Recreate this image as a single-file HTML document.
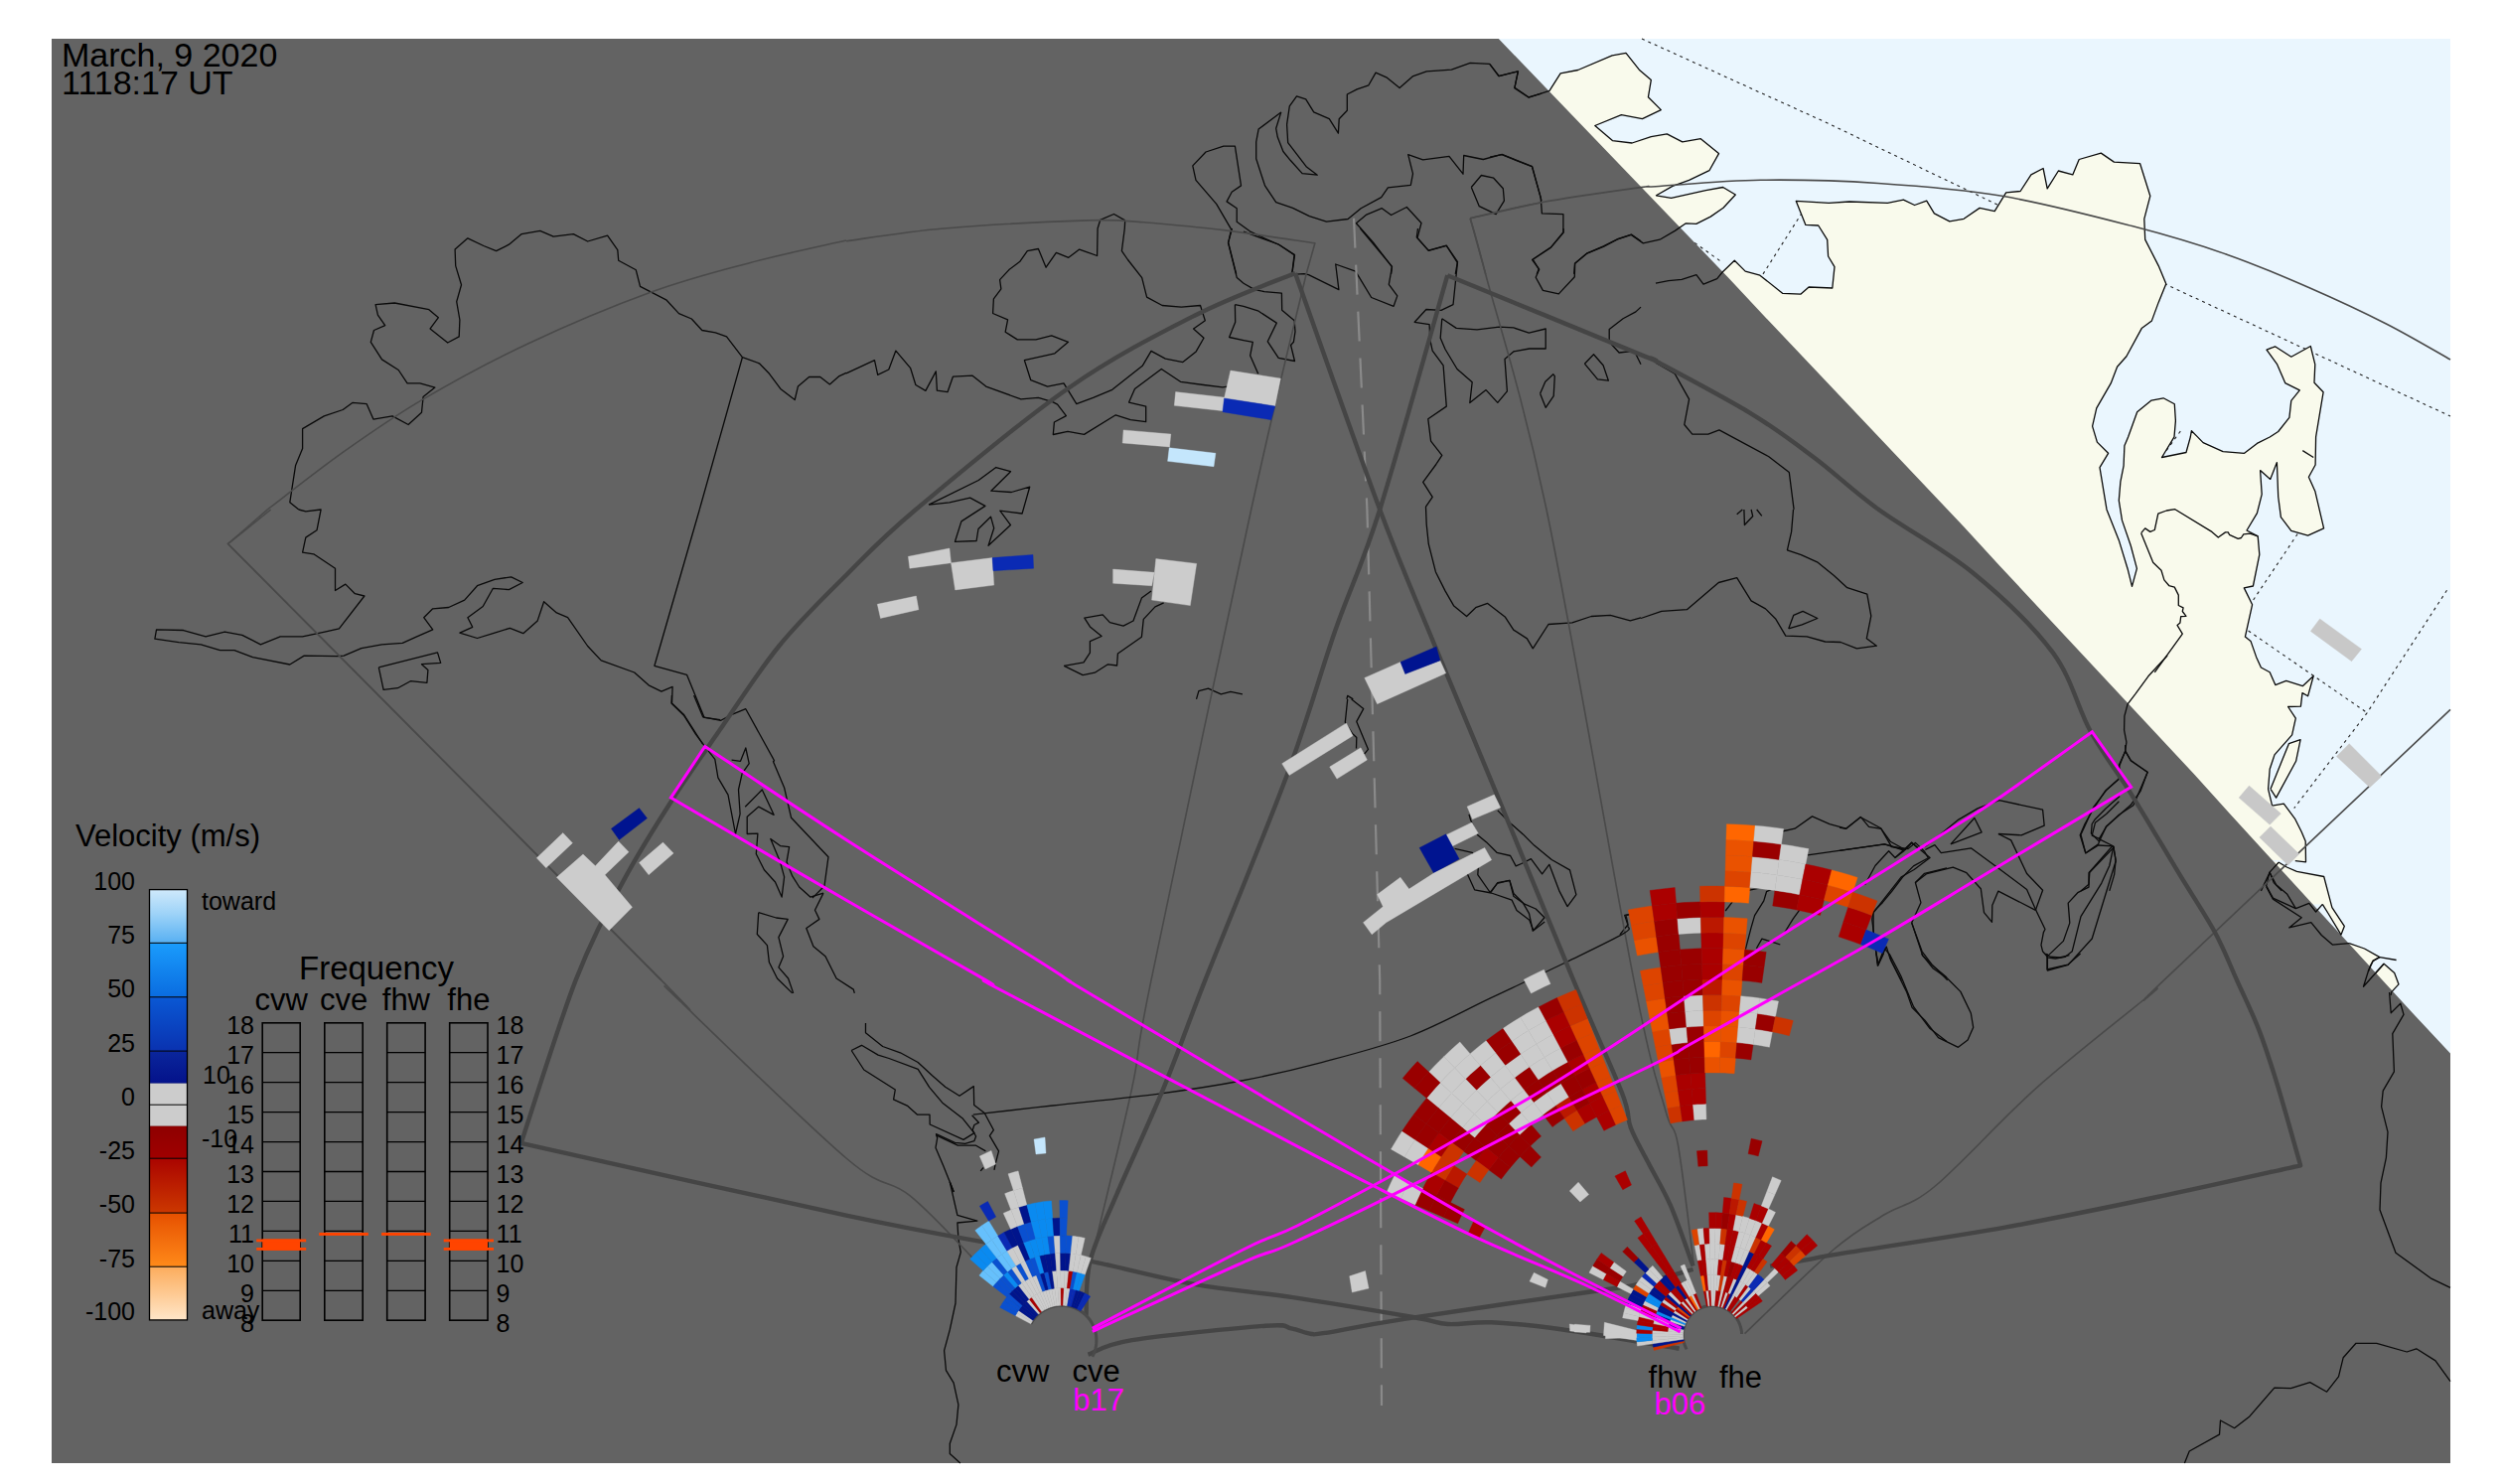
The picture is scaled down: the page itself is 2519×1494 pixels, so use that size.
<!DOCTYPE html>
<html><head><meta charset="utf-8"><style>
html,body{margin:0;padding:0;background:#fff;}
body{width:2519px;height:1494px;overflow:hidden;position:relative;font-family:"Liberation Sans",sans-serif;}
svg{position:absolute;left:0;top:0;}
.t{position:absolute;white-space:nowrap;color:#000;line-height:1;}
</style></head><body>
<svg width="2519" height="1494" viewBox="0 0 2519 1494" xmlns="http://www.w3.org/2000/svg">
<rect x="0" y="0" width="2519" height="1494" fill="#fff"/>
<rect x="52" y="39" width="2415" height="1434" fill="#eaf6fe"/>
<polyline points="1653.0,39.0 1840.0,124.0 2011.0,206.0 2100.0,246.0 2182.0,287.0 2467.0,419.0" fill="none" stroke="#222" stroke-width="1.1" stroke-dasharray="3,4"/>
<polyline points="1706.2,244.4 1734.2,264.4" fill="none" stroke="#222" stroke-width="1.1" stroke-dasharray="3,4"/>
<polyline points="1775.0,275.9 1813.3,215.7" fill="none" stroke="#222" stroke-width="1.1" stroke-dasharray="3,4"/>
<polyline points="2263.6,635.0 2383.2,717.6" fill="none" stroke="#222" stroke-width="1.1" stroke-dasharray="3,4"/>
<polyline points="2463.5,594.3 2383.2,717.6 2309.7,813.6" fill="none" stroke="#222" stroke-width="1.1" stroke-dasharray="3,4"/>
<polyline points="2313.2,537.5 2267.6,605.5" fill="none" stroke="#222" stroke-width="1.1" stroke-dasharray="3,4"/>
<polyline points="2195.3,434.1 2177.2,458.9" fill="none" stroke="#222" stroke-width="1.1" stroke-dasharray="3,4"/>
<polygon points="1560.0,91.4 1571.1,73.9 1588.7,70.5 1623.1,55.8 1637.0,53.4 1650.3,70.2 1662.3,80.6 1659.4,97.8 1672.3,110.6 1653.5,119.7 1632.4,115.7 1605.8,126.5 1623.4,141.6 1643.1,144.0 1662.3,137.6 1678.3,134.9 1693.8,142.9 1712.3,139.7 1730.5,154.6 1720.9,171.7 1700.6,181.3 1683.9,187.4 1667.5,196.8 1682.6,199.4 1717.4,191.7 1734.7,188.5 1747.3,196.0 1735.0,209.3 1722.2,218.1 1707.8,225.3 1697.4,224.8 1686.3,232.4 1671.1,241.2 1654.3,244.9 1642.3,236.4 1627.9,241.2 1614.3,248.4 1597.8,255.1 1585.5,265.2 1584.7,275.9 1500.0,275.9 1500.0,91.4" fill="#f9faec"/>
<polygon points="1734.1,274.0 1746.3,262.2 1757.2,273.1 1771.9,277.2 1794.9,295.4 1813.1,296.1 1821.1,289.0 1844.8,290.0 1847.0,268.6 1840.6,258.0 1839.7,241.4 1830.7,227.0 1817.9,226.4 1808.3,202.4 1841.3,204.3 1862.0,203.0 1900.4,204.3 1916.4,201.1 1927.6,206.5 1939.7,202.1 1947.4,214.9 1962.8,222.9 1977.2,220.3 1993.1,209.4 2008.2,212.6 2019.7,193.8 2034.1,192.5 2044.9,175.9 2057.1,169.5 2061.2,189.9 2072.4,172.0 2086.8,175.9 2093.2,160.5 2115.3,154.1 2128.4,163.1 2154.6,164.7 2164.8,197.3 2158.8,220.3 2159.7,241.1 2173.2,267.6 2180.8,285.8 2173.2,304.4 2166.4,322.9 2156.2,330.6 2140.9,358.7 2131.6,369.3 2125.2,385.9 2110.8,410.9 2106.6,429.1 2111.4,445.1 2122.6,456.3 2114.0,470.7 2121.0,512.9 2133.3,543.9 2142.1,572.7 2146.5,590.3 2151.4,572.4 2145.3,549.5 2136.5,523.9 2133.3,503.9 2134.9,484.8 2138.1,468.8 2138.9,448.8 2142.6,440.0 2151.7,414.8 2166.1,403.1 2178.1,400.8 2189.3,406.8 2190.4,423.6 2189.0,439.9 2176.5,460.5 2201.0,455.5 2205.3,440.0 2206.4,433.7 2212.5,439.9 2218.1,445.6 2238.1,454.7 2259.6,456.3 2272.4,446.4 2285.2,440.0 2293.7,434.5 2304.9,420.4 2306.8,403.3 2315.3,392.9 2300.7,385.6 2292.7,366.9 2282.0,352.2 2290.5,348.8 2306.8,359.2 2326.3,348.5 2330.8,366.9 2330.0,385.3 2339.1,394.8 2331.6,439.9 2331.1,468.0 2324.4,480.3 2330.8,494.4 2339.6,531.9 2323.6,539.1 2306.8,534.3 2296.4,520.7 2293.7,500.0 2292.4,465.6 2285.7,482.4 2275.6,473.6 2277.2,497.6 2272.4,516.7 2262.0,534.0 2273.2,539.9 2274.8,558.3 2268.4,590.0 2259.3,591.9 2267.6,608.7 2260.4,641.1 2266.0,645.4 2271.6,661.4 2276.4,672.0 2285.2,676.8 2290.8,689.6 2301.7,685.3 2318.3,690.7 2329.2,680.5 2323.6,700.8 2318.0,697.6 2316.4,711.2 2303.6,711.5 2311.3,723.1 2307.6,739.9 2290.0,759.9 2285.2,774.3 2283.6,794.3 2287.6,811.1 2299.3,809.2 2310.8,824.7 2317.2,837.5 2321.2,847.0 2321.5,867.8 2310.8,866.6 2290.0,866.0 2000.0,866.0 1700.0,300.0" fill="#f9faec"/>
<polygon points="2286.0,794.3 2304.4,748.7 2316.1,744.7 2311.6,766.3 2291.6,803.1 2286.0,794.3" fill="#f9faec"/>
<polygon points="2294.0,868.0 2302.3,873.0 2312.4,877.3 2339.7,882.5 2347.9,913.7 2360.3,932.4 2357.0,941.1 2344.0,919.5 2338.3,910.4 2300.0,910.0 2280.0,866.0" fill="#f9faec"/>
<polygon points="2365.1,949.7 2380.5,955.0 2395.8,963.6 2389.1,967.4 2386.5,972.0 2370.0,972.0 2360.0,949.0" fill="#f9faec"/>
<polygon points="2391.9,979.5 2400.1,970.3 2410.7,979.4 2415.0,990.9 2407.8,998.6 2407.0,1002.0 2390.0,1002.0 2385.0,979.0" fill="#f9faec"/>
<polygon points="52.0,39.0 1508.8,39.0 1740.5,280.0 1777.9,320.0 1976.9,530.0 2013.6,570.0 2209.6,780.0 2245.7,820.0 2429.1,1020.0 2467.0,1060.4 2467.0,1473.0 52.0,1473.0" fill="#636363"/>
<polyline points="300.8,512.9 291.8,505.8 297.6,468.4 304.6,451.5 304.6,431.6 326.3,418.9 345.2,412.5 354.8,405.4 369.2,406.7 375.9,422.1 395.1,418.9 411.1,427.5 424.5,415.3 426.1,399.4 437.9,390.1 422.9,385.9 410.1,385.9 401.2,372.5 384.5,361.9 373.3,344.4 376.5,332.5 387.7,327.7 380.4,317.2 378.1,306.6 397.3,305.0 431.9,311.7 441.4,319.7 433.1,330.9 450.7,345.0 462.2,338.9 462.9,322.0 459.7,303.7 464.5,286.8 458.7,267.6 458.1,251.0 470.9,239.8 486.9,247.5 499.6,252.6 512.4,246.2 525.2,235.6 543.8,232.4 557.2,238.2 577.3,235.6 591.7,243.0 611.6,237.2 621.8,251.6 622.7,262.2 640.3,271.8 644.5,288.4 670.7,301.8 683.5,315.6 696.3,321.0 706.8,332.5 720.3,334.8 731.5,338.9 747.4,359.7 764.4,365.8 774.6,376.3 785.8,391.4 800.2,402.5 803.4,389.1 814.6,379.5 825.8,379.5 835.4,386.9 845.0,378.6 852.0,375.4" fill="none" stroke="#0a0a0a" stroke-width="1.3" stroke-linejoin="round"/>
<polyline points="747.4,359.7 704.3,512.9" fill="none" stroke="#0a0a0a" stroke-width="1.3" stroke-linejoin="round"/>
<polyline points="300.8,513.0 307.8,514.9 323.1,513.0 319.0,533.8 307.8,541.1 304.6,556.2 315.8,557.8 337.5,572.2 337.5,594.5 347.8,588.1 357.4,597.7 366.9,600.0 341.4,632.9 327.0,636.1 304.6,640.9 282.2,640.9 262.4,648.9 243.8,639.3 226.3,636.1 207.1,640.9 184.7,634.5 157.5,633.9 155.9,643.1 179.9,646.7 202.3,648.9 221.5,654.6 235.9,654.6 254.4,661.7 291.8,669.0 306.2,660.1 339.8,660.7 346.2,660.1 363.8,652.7 384.5,648.9 405.3,647.3 419.7,640.9 435.7,633.9 426.7,621.7 435.7,612.8 451.7,611.5 467.7,604.1 480.5,589.7 498.0,583.3 514.7,580.8 526.2,586.5 512.4,593.6 496.4,592.3 486.2,610.5 470.9,621.7 475.7,631.3 462.9,637.1 480.5,642.5 496.4,637.7 513.4,632.3 526.8,637.7 541.2,624.9 547.6,605.7 560.4,616.9 571.6,621.7 591.7,650.5 605.2,664.9 638.7,677.0 653.1,689.8 665.9,696.2 677.1,691.4 676.5,708.0 688.3,719.2 707.5,749.0" fill="none" stroke="#0a0a0a" stroke-width="1.3" stroke-linejoin="round"/>
<polyline points="381.3,671.9 440.5,656.9 443.7,667.4 424.5,668.7 430.9,674.5 429.9,687.3 413.3,685.7 400.5,692.7 386.1,694.3 381.3,671.9" fill="none" stroke="#0a0a0a" stroke-width="1.3" stroke-linejoin="round"/>
<polyline points="704.3,513.0 658.9,670.3 691.5,679.3 709.1,722.4 725.1,724.7" fill="none" stroke="#0a0a0a" stroke-width="1.3" stroke-linejoin="round"/>
<polyline points="676.4,700.0 676.0,708.1 688.5,720.2 700.6,739.4 709.7,751.5 719.8,764.3 722.9,782.9 733.0,800.1 740.5,839.5 745.1,819.3 743.5,795.0 747.1,778.8 754.2,768.7 750.8,753.0 745.5,766.3 736.6,765.1" fill="none" stroke="#0a0a0a" stroke-width="1.3" stroke-linejoin="round"/>
<polyline points="698.6,700.0 707.7,721.8 725.9,725.3 735.0,720.2 750.8,713.7 779.5,765.7 778.5,766.7 789.6,793.0 796.6,823.3 834.0,862.7 830.0,892.0 817.9,904.1" fill="none" stroke="#0a0a0a" stroke-width="1.3" stroke-linejoin="round"/>
<polyline points="829.0,899.1 820.5,916.3 824.9,925.4 811.8,934.5 818.9,952.7 831.0,962.8 842.1,985.0 859.3,996.1 860.3,999.9" fill="none" stroke="#0a0a0a" stroke-width="1.3" stroke-linejoin="round"/>
<polyline points="750.2,812.2 767.3,795.0 779.1,820.3 763.7,812.2 752.2,822.3 752.2,839.5 762.9,839.1 761.3,859.7 769.4,875.8 780.5,888.0 787.1,903.1 789.6,882.9 785.5,867.8 775.8,844.5 785.5,851.6 794.6,852.6 792.0,867.8 797.7,881.9 804.7,893.0 815.8,903.1 829.0,899.1" fill="none" stroke="#0a0a0a" stroke-width="1.3" stroke-linejoin="round"/>
<polyline points="763.7,918.7 781.5,924.0 793.2,925.4 783.9,943.6 788.6,962.8 783.9,973.9 793.6,985.0 798.7,999.9" fill="none" stroke="#0a0a0a" stroke-width="1.3" stroke-linejoin="round"/>
<polyline points="763.7,918.7 762.3,940.5 772.4,951.6 774.4,968.8 782.5,985.0 797.7,999.9" fill="none" stroke="#0a0a0a" stroke-width="1.3" stroke-linejoin="round"/>
<polyline points="1289.8,112.9 1284.7,129.3 1286.3,138.1 1291.9,152.5 1299.1,161.3 1311.1,174.6 1326.3,176.2 1315.1,167.7 1296.7,143.7 1295.6,125.3 1298.3,106.9 1305.5,96.9 1314.7,99.8 1322.7,112.9 1338.3,119.7 1347.4,134.1 1348.2,119.7 1356.3,111.3 1356.3,95.0 1366.2,89.8 1377.9,85.8 1385.1,73.1 1395.8,77.8 1409.1,88.6 1422.2,76.9 1436.3,71.8 1461.4,70.2 1480.2,63.3 1499.7,64.3 1509.3,76.6 1528.2,71.8 1525.0,88.2 1538.9,97.8 1552.0,94.2" fill="none" stroke="#0a0a0a" stroke-width="1.3" stroke-linejoin="round"/>
<polyline points="1289.8,112.9 1267.1,130.1 1264.7,142.9 1264.7,159.7 1273.5,186.9 1284.7,203.7 1301.5,209.3 1318.3,217.7 1335.5,223.2 1357.1,220.5 1370.2,209.7 1390.7,198.6 1397.4,188.8 1420.3,186.4 1422.5,174.9 1417.7,155.7 1432.6,160.8 1459.0,157.3 1473.0,175.2 1473.7,156.5 1493.3,160.5 1512.2,155.4 1542.6,167.7 1552.0,202.1" fill="none" stroke="#0a0a0a" stroke-width="1.3" stroke-linejoin="round"/>
<polyline points="1244.7,275.9 1236.7,244.4 1239.6,230.8 1224.7,205.3 1204.0,181.3 1200.8,166.9 1214.0,153.0 1231.9,147.2 1243.4,147.2 1249.5,186.9 1240.2,193.3 1235.1,202.9 1245.2,209.7 1245.2,223.3 1258.3,232.8 1273.5,240.1 1287.9,246.5 1303.1,256.4 1300.7,275.9" fill="none" stroke="#0a0a0a" stroke-width="1.3" stroke-linejoin="round"/>
<polyline points="1400.6,275.9 1401.4,268.7 1382.2,243.6 1365.4,224.8 1375.8,216.1 1391.3,209.7 1400.6,216.5 1416.3,208.5 1431.0,224.5 1427.0,239.6 1438.2,252.1 1456.2,247.2 1467.3,264.4 1465.3,275.9" fill="none" stroke="#0a0a0a" stroke-width="1.3" stroke-linejoin="round"/>
<polyline points="1481.3,188.5 1491.4,176.5 1503.7,179.2 1513.3,189.8 1514.4,202.1 1506.1,215.7 1489.3,207.7 1481.3,188.5" fill="none" stroke="#0a0a0a" stroke-width="1.3" stroke-linejoin="round"/>
<polyline points="852.0,375.8 880.5,362.7 883.7,377.4 894.8,372.0 901.9,353.1 916.7,370.7 921.9,387.5 931.9,393.4 942.3,373.9 943.4,393.1 954.0,394.7 959.4,379.2 979.1,378.2 992.7,389.1 1027.9,401.9 1045.4,400.3 1059.8,404.6 1064.6,407.1 1073.4,418.6 1061.4,425.0 1060.3,437.5 1075.0,434.3 1091.5,437.4 1123.3,417.8 1138.2,422.6 1153.7,424.7 1153.7,409.1 1136.6,405.1 1142.5,391.5 1169.3,371.5 1188.5,384.3 1211.7,387.5 1230.9,389.9 1235.7,389.1" fill="none" stroke="#0a0a0a" stroke-width="1.3" stroke-linejoin="round"/>
<polyline points="1132.7,221.9 1121.5,215.5 1107.8,221.3 1105.1,230.0 1104.6,257.5 1086.7,251.1 1075.8,259.3 1063.4,254.3 1053.1,269.2 1045.4,250.5 1034.3,252.7 1026.6,263.6 1015.9,271.6 1006.6,281.6 1007.9,290.8 1000.4,300.8 999.6,315.5 1014.6,321.9 1012.2,334.2 1024.3,341.9 1043.0,341.9 1058.7,337.9 1075.5,344.3 1061.9,355.8 1031.4,362.7 1037.8,382.7 1054.6,389.1 1071.0,385.9 1083.8,406.7 1100.6,400.3 1119.8,392.3 1150.2,368.3 1159.0,353.4 1173.3,361.1 1190.9,364.6 1204.2,353.9 1212.0,340.3 1201.6,331.0 1213.3,322.7 1208.5,307.5 1189.3,309.1 1170.1,307.5 1154.6,299.1 1149.7,279.6 1135.5,261.5 1129.4,252.7 1132.3,230.0 1132.7,221.9" fill="none" stroke="#0a0a0a" stroke-width="1.3" stroke-linejoin="round"/>
<polyline points="1240.5,230.0 1236.5,244.4 1245.3,279.6 1252.0,285.2" fill="none" stroke="#0a0a0a" stroke-width="1.3" stroke-linejoin="round"/>
<polyline points="1243.4,306.7 1252.0,308.3" fill="none" stroke="#0a0a0a" stroke-width="1.3" stroke-linejoin="round"/>
<polyline points="1243.4,306.7 1243.7,324.3 1237.6,339.5 1252.0,342.7" fill="none" stroke="#0a0a0a" stroke-width="1.3" stroke-linejoin="round"/>
<polyline points="1252.0,233.2 1287.2,246.0 1303.5,256.9 1300.8,276.4 1312.8,275.6 1317.5,276.7 1347.9,291.6 1344.7,266.0 1364.7,273.2 1368.7,279.6 1380.7,299.5 1403.1,308.3 1406.8,297.9 1398.3,286.3 1401.5,268.4 1369.5,230.0" fill="none" stroke="#0a0a0a" stroke-width="1.3" stroke-linejoin="round"/>
<polyline points="1252.0,285.2 1263.2,291.6 1272.8,293.6 1290.4,295.2 1290.7,312.3 1303.2,322.7 1304.0,333.9 1302.4,344.3 1299.6,347.5 1303.5,363.5 1287.2,360.3 1276.3,343.8 1285.3,325.1 1266.4,312.8 1252.0,308.3" fill="none" stroke="#0a0a0a" stroke-width="1.3" stroke-linejoin="round"/>
<polyline points="1252.0,342.7 1261.3,344.3 1258.7,357.9 1266.7,376.3" fill="none" stroke="#0a0a0a" stroke-width="1.3" stroke-linejoin="round"/>
<polyline points="1427.5,230.0 1426.3,238.8 1438.3,252.4 1456.3,247.3 1467.5,263.6 1463.0,306.7 1451.0,312.3 1435.9,311.5 1424.2,324.3 1439.1,326.7 1439.8,341.9 1442.2,353.1 1453.1,367.8 1456.3,409.1 1437.8,421.8 1440.6,444.2 1451.8,458.3 1446.2,466.9" fill="none" stroke="#0a0a0a" stroke-width="1.3" stroke-linejoin="round"/>
<polyline points="1451.8,320.8 1450.2,340.3 1455.0,351.5 1467.0,371.5 1482.2,384.8 1479.8,405.5 1496.1,392.6 1507.8,405.4 1517.4,393.9 1515.0,361.4 1523.8,353.9 1539.8,351.0 1556.2,351.0 1556.2,331.0 1539.3,335.2 1523.8,329.9 1509.4,329.1 1487.0,331.8 1466.2,330.4 1451.8,320.8" fill="none" stroke="#0a0a0a" stroke-width="1.3" stroke-linejoin="round"/>
<polyline points="1574.1,230.0 1574.1,234.0 1561.4,249.2 1542.6,261.5 1549.7,271.2 1546.2,279.2 1553.4,292.4 1569.3,295.9 1585.3,278.8 1585.7,265.2 1598.1,254.8 1614.9,247.6 1629.3,240.4 1642.4,236.1 1652.0,242.8" fill="none" stroke="#0a0a0a" stroke-width="1.3" stroke-linejoin="round"/>
<polyline points="1652.0,309.1 1646.9,313.9 1634.1,320.8 1620.2,331.5 1620.2,344.3 1630.1,355.0 1640.5,353.9 1646.1,354.7 1652.0,366.7" fill="none" stroke="#0a0a0a" stroke-width="1.3" stroke-linejoin="round"/>
<polyline points="1550.6,396.3 1555.8,384.3 1563.8,376.8 1565.3,378.7 1564.2,398.7 1556.2,410.3 1550.6,396.3" fill="none" stroke="#0a0a0a" stroke-width="1.3" stroke-linejoin="round"/>
<polyline points="1595.4,366.2 1604.5,356.8 1614.1,367.8 1619.4,383.2 1608.5,381.9 1595.4,366.2" fill="none" stroke="#0a0a0a" stroke-width="1.3" stroke-linejoin="round"/>
<polyline points="1500.0,64.6 1508.8,76.6 1528.5,71.8 1524.8,88.6 1539.2,98.2 1560.0,91.4 1571.1,73.9 1588.7,70.5 1623.1,55.8 1637.0,53.4 1650.3,70.2 1662.3,80.6 1659.4,97.8 1672.3,110.6 1653.5,119.7 1632.4,115.7 1605.8,126.5 1623.4,141.6 1643.1,144.0 1662.3,137.6 1678.3,134.9 1693.8,142.9 1712.3,139.7 1730.5,154.6 1720.9,171.7 1700.6,181.3 1683.9,187.4 1667.5,196.8 1682.6,199.4 1717.4,191.7 1734.7,188.5 1747.3,196.0 1735.0,209.3 1722.2,218.1 1707.8,225.3 1697.4,224.8 1686.3,232.4 1671.1,241.2 1654.3,244.9 1642.3,236.4 1627.9,241.2 1614.3,248.4 1597.8,255.1 1585.5,265.2 1584.7,275.9" fill="none" stroke="#0a0a0a" stroke-width="1.3" stroke-linejoin="round"/>
<polyline points="1500.0,158.1 1512.0,155.7 1542.4,167.7 1551.2,198.9 1552.4,214.9 1573.9,215.7 1573.9,234.0 1561.6,248.9 1543.2,261.2 1549.2,270.8 1547.2,275.9" fill="none" stroke="#0a0a0a" stroke-width="1.3" stroke-linejoin="round"/>
<polyline points="1667.0,285.2 1679.8,282.6 1693.2,281.4 1707.9,276.6 1715.0,286.2 1728.7,280.7 1734.1,274.0 1746.3,262.2 1757.2,273.1 1771.9,277.2 1794.9,295.4 1813.1,296.1 1821.1,289.0 1844.8,290.0 1847.0,268.6 1840.6,258.0 1839.7,241.4 1830.7,227.0 1817.9,226.4 1808.3,202.4 1841.3,204.3 1862.0,203.0 1900.4,204.3 1916.4,201.1 1927.6,206.5 1939.7,202.1 1947.4,214.9 1962.8,222.9 1977.2,220.3 1993.1,209.4 2008.2,212.6 2019.7,193.8 2034.1,192.5 2044.9,175.9 2057.1,169.5 2061.2,189.9 2072.4,172.0 2086.8,175.9 2093.2,160.5 2115.3,154.1 2128.4,163.1 2154.6,164.7 2164.8,197.3 2158.8,220.3 2159.7,241.1 2173.2,267.6 2180.8,285.8 2173.2,304.4 2166.4,322.9 2156.2,330.6 2140.9,358.7 2131.6,369.3 2125.2,385.9 2110.8,410.9 2106.6,429.1 2111.4,445.1 2122.6,456.3 2114.0,470.7 2121.0,512.9 2133.3,543.9 2142.1,572.7 2146.5,590.3 2151.4,572.4 2145.3,549.5 2136.5,523.9 2133.3,503.9 2134.9,484.8 2138.1,468.8 2138.9,448.8 2142.6,440.0 2151.7,414.8 2166.1,403.1 2178.1,400.8 2189.3,406.8 2190.4,423.6 2189.0,439.9 2176.5,460.5 2201.0,455.5 2205.3,440.0 2206.4,433.7 2212.5,439.9 2218.1,445.6 2238.1,454.7 2259.6,456.3 2272.4,446.4 2285.2,440.0 2293.7,434.5 2304.9,420.4 2306.8,403.3 2315.3,392.9 2300.7,385.6 2292.7,366.9 2282.0,352.2 2290.5,348.8 2306.8,359.2 2326.3,348.5 2330.8,366.9 2330.0,385.3 2339.1,394.8 2331.6,439.9 2331.1,468.0 2324.4,480.3 2330.8,494.4 2339.6,531.9 2323.6,539.1 2306.8,534.3 2296.4,520.7 2293.7,500.0 2292.4,465.6 2285.7,482.4 2275.6,473.6 2277.2,497.6 2272.4,516.7 2262.0,534.0 2273.2,539.9 2274.8,558.3 2268.4,590.0 2259.3,591.9 2267.6,608.7 2260.4,641.1 2266.0,645.4 2271.6,661.4 2276.4,672.0 2285.2,676.8 2290.8,689.6 2301.7,685.3 2318.3,690.7 2329.2,680.5 2323.6,700.8 2318.0,697.6 2316.4,711.2 2303.6,711.5 2311.3,723.1 2307.6,739.9 2290.0,759.9 2285.2,774.3 2283.6,794.3 2287.6,811.1 2299.3,809.2 2310.8,824.7 2317.2,837.5 2321.2,847.0 2321.5,867.8 2310.8,866.6" fill="none" stroke="#0a0a0a" stroke-width="1.3" stroke-linejoin="round"/>
<polyline points="2286.0,794.3 2304.4,748.7 2316.1,744.7 2311.6,766.3 2291.6,803.1 2286.0,794.3" fill="none" stroke="#0a0a0a" stroke-width="1.3" stroke-linejoin="round"/>
<polyline points="2294.0,868.0 2302.3,873.0 2312.4,877.3 2339.7,882.5 2347.9,913.7 2360.3,932.4 2357.0,941.1 2344.0,919.5 2338.3,910.4" fill="none" stroke="#0a0a0a" stroke-width="1.3" stroke-linejoin="round"/>
<polyline points="2365.1,949.7 2380.5,955.0 2395.8,963.6 2389.1,967.4 2386.5,972.0 2384.3,978.0" fill="none" stroke="#0a0a0a" stroke-width="1.3" stroke-linejoin="round"/>
<polyline points="2395.8,963.6 2412.6,966.5" fill="none" stroke="#0a0a0a" stroke-width="1.3" stroke-linejoin="round"/>
<polyline points="2391.9,979.5 2400.1,970.3 2410.7,979.4 2415.0,990.9 2407.8,998.6 2407.0,1002.0" fill="none" stroke="#0a0a0a" stroke-width="1.3" stroke-linejoin="round"/>
<polyline points="2155.7,536.7 2159.7,531.9 2164.8,535.4 2169.3,533.5 2172.8,517.2 2181.3,514.0 2189.8,512.7 2226.9,535.4 2233.3,541.0 2240.5,535.9 2243.3,535.9 2244.5,538.3 2253.3,542.3 2256.4,541.5 2258.8,537.8 2265.2,537.2 2273.2,539.9" fill="none" stroke="#0a0a0a" stroke-width="1.3" stroke-linejoin="round"/>
<polyline points="2155.7,536.7 2167.7,566.3 2176.0,574.3 2178.9,583.9 2183.7,589.5 2189.3,591.1 2193.3,599.1 2193.3,609.5 2198.1,611.9 2197.3,615.5 2201.0,620.3 2195.7,620.7 2194.9,627.1 2192.0,629.4 2197.3,638.2 2169.3,676.9" fill="none" stroke="#0a0a0a" stroke-width="1.3" stroke-linejoin="round"/>
<polyline points="2318.3,453.6 2329.2,460.5" fill="none" stroke="#0a0a0a" stroke-width="1.3" stroke-linejoin="round"/>
<polyline points="2182.1,660.0 2162.9,680.8 2150.1,698.4 2142.1,708.8 2138.9,720.8 2138.6,735.1 2140.9,747.1 2139.7,755.9 2133.8,771.1 2133.3,783.9 2119.8,795.9 2107.0,815.1 2099.0,829.5 2094.2,840.7 2099.8,859.0 2112.6,851.0 2127.8,851.8 2130.1,866.2 2128.6,880.6 2123.8,896.9" fill="none" stroke="#0a0a0a" stroke-width="1.3" stroke-linejoin="round"/>
<polyline points="2139.7,755.9 2145.3,765.5 2162.1,777.5 2154.9,796.7 2145.3,810.3 2120.6,831.9 2113.4,847.1 2105.4,839.1 2106.2,829.5 2109.4,824.7 2119.8,814.3 2134.1,801.5" fill="none" stroke="#0a0a0a" stroke-width="1.3" stroke-linejoin="round"/>
<polyline points="2128.6,852.6 2103.8,878.2 2103.0,890.2 2095.0,896.9" fill="none" stroke="#0a0a0a" stroke-width="1.3" stroke-linejoin="round"/>
<polyline points="2276.4,896.9 2285.2,878.2 2289.2,888.6 2297.2,896.9" fill="none" stroke="#0a0a0a" stroke-width="1.3" stroke-linejoin="round"/>
<polyline points="2294.1,868.2 2285.0,878.2 2281.7,891.7 2288.4,904.1 2311.4,914.7 2324.8,909.4 2331.6,918.0 2338.3,910.4" fill="none" stroke="#0a0a0a" stroke-width="1.3" stroke-linejoin="round"/>
<polyline points="2285.0,878.2 2291.7,890.7 2302.8,900.3 2311.4,914.7" fill="none" stroke="#0a0a0a" stroke-width="1.3" stroke-linejoin="round"/>
<polyline points="2281.7,892.6 2288.4,905.1 2317.2,923.8 2304.7,933.9 2326.8,928.6 2337.3,941.5 2348.3,951.1 2365.1,949.7" fill="none" stroke="#0a0a0a" stroke-width="1.3" stroke-linejoin="round"/>
<polyline points="2395.8,963.6 2389.1,967.4 2384.3,978.0 2379.5,993.3 2400.1,970.3" fill="none" stroke="#0a0a0a" stroke-width="1.3" stroke-linejoin="round"/>
<polyline points="935.1,508.2 955.9,505.8 976.7,501.1 991.9,509.4 967.9,524.9 961.5,545.3 983.1,544.5 985.0,532.5 997.5,520.2 1000.7,531.7 995.1,549.3 1017.5,528.6 1006.8,514.2 1029.1,517.0 1036.7,490.2 1018.3,495.5 997.8,494.2 1017.5,474.7 1002.8,470.5 985.2,483.5 935.1,508.2" fill="none" stroke="#0a0a0a" stroke-width="1.3" stroke-linejoin="round"/>
<polyline points="1071.3,670.4 1090.2,679.6 1102.2,677.2 1115.5,668.8 1124.6,670.0 1125.4,658.0 1149.4,641.3 1151.3,623.4 1163.0,610.9 1171.7,606.9" fill="none" stroke="#0a0a0a" stroke-width="1.3" stroke-linejoin="round"/>
<polyline points="1071.3,670.4 1091.0,666.8 1097.4,657.2 1097.4,645.7 1109.1,640.5 1097.4,630.9 1091.8,622.1 1110.2,618.9 1117.4,626.6 1131.0,630.1 1141.0,625.0 1149.4,602.1 1159.0,594.9" fill="none" stroke="#0a0a0a" stroke-width="1.3" stroke-linejoin="round"/>
<polyline points="1204.5,703.9 1206.9,695.6 1216.5,693.2 1229.3,698.8 1238.9,696.4 1250.9,698.8" fill="none" stroke="#0a0a0a" stroke-width="1.3" stroke-linejoin="round"/>
<polyline points="1446.2,467.0 1432.7,485.4 1442.2,500.3 1435.5,510.2 1436.2,527.8 1438.3,547.7 1445.4,575.7 1455.0,594.9 1463.8,610.1 1476.6,620.5 1485.7,611.7 1497.7,607.4 1515.5,621.3 1523.8,634.1 1537.4,642.9 1543.3,652.8 1559.0,628.5 1582.9,626.9 1602.1,620.5 1621.3,619.4 1641.3,624.8 1652.0,621.8" fill="none" stroke="#0a0a0a" stroke-width="1.3" stroke-linejoin="round"/>
<polyline points="1355.9,703.9 1356.7,700.4 1362.3,703.9" fill="none" stroke="#0a0a0a" stroke-width="1.3" stroke-linejoin="round"/>
<polyline points="1356.7,704.0 1354.3,727.2 1361.5,738.4 1365.8,742.4 1365.5,753.6" fill="none" stroke="#0a0a0a" stroke-width="1.3" stroke-linejoin="round"/>
<polyline points="1360.7,704.0 1372.7,713.6 1365.8,726.4 1377.5,754.4 1373.5,759.2" fill="none" stroke="#0a0a0a" stroke-width="1.3" stroke-linejoin="round"/>
<polyline points="1507.8,815.9 1520.6,828.7 1533.4,839.9 1544.6,851.1 1562.2,865.5 1580.5,875.9 1586.9,900.6 1578.1,912.6 1570.1,897.4 1559.8,870.3 1552.6,879.9 1541.4,864.7 1531.8,869.5 1526.2,871.9 1520.6,861.5 1507.0,858.3 1496.6,847.9 1487.8,840.7 1480.6,825.5 1479.0,819.9" fill="none" stroke="#0a0a0a" stroke-width="1.3" stroke-linejoin="round"/>
<polyline points="1464.6,854.3 1482.2,858.3 1488.6,868.7 1487.8,880.7 1500.6,899.0 1507.8,888.7 1519.8,886.3 1523.8,902.2 1535.0,910.2 1546.2,915.0 1555.0,923.8 1543.8,936.6 1539.8,926.2 1527.0,916.6 1522.2,906.2 1501.4,899.0 1484.6,895.8 1476.6,878.3" fill="none" stroke="#0a0a0a" stroke-width="1.3" stroke-linejoin="round"/>
<polyline points="1652.0,918.2 1635.7,921.4 1638.9,931.0 1630.9,940.9" fill="none" stroke="#0a0a0a" stroke-width="1.3" stroke-linejoin="round"/>
<polyline points="1500.0,898.6 1507.4,889.4 1519.9,886.3 1523.9,899.5 1533.1,908.7 1539.5,919.7 1543.2,937.2 1555.2,928.0" fill="none" stroke="#0a0a0a" stroke-width="1.3" stroke-linejoin="round"/>
<polyline points="1794.2,837.0 1807.0,834.2 1824.5,821.9 1842.0,829.6 1858.5,834.2 1873.2,822.7 1893.5,833.7 1904.5,852.6 1921.0,854.5 1928.4,848.4 1937.6,857.2 1941.3,863.7 1926.5,871.9 1915.5,883.0 1904.5,897.7 1895.3,908.7 1886.1,917.9 1886.1,938.1 1890.7,971.2 1897.1,954.7 1902.6,961.1 1913.7,982.2 1926.5,1013.5 1943.1,1035.6 1960.0,1048.4" fill="none" stroke="#0a0a0a" stroke-width="1.3" stroke-linejoin="round"/>
<polyline points="1819.9,860.9 1897.1,849.9 1917.4,855.4 1924.7,848.4" fill="none" stroke="#0a0a0a" stroke-width="1.3" stroke-linejoin="round"/>
<polyline points="1960.0,873.8 1937.6,879.3 1928.4,888.5 1933.9,908.7 1924.7,928.9 1935.7,962.0 1946.8,973.1 1960.0,984.1" fill="none" stroke="#0a0a0a" stroke-width="1.3" stroke-linejoin="round"/>
<polyline points="1757.4,955.6 1762.9,934.4 1766.6,921.6 1775.8,906.9 1778.5,897.7 1786.8,894.0" fill="none" stroke="#0a0a0a" stroke-width="1.3" stroke-linejoin="round"/>
<polyline points="1768.4,954.7 1773.9,945.1 1786.8,949.1 1792.3,951.0" fill="none" stroke="#0a0a0a" stroke-width="1.3" stroke-linejoin="round"/>
<polyline points="1796.0,940.0 1805.2,925.2 1814.4,912.4 1823.6,901.3 1830.9,894.0" fill="none" stroke="#0a0a0a" stroke-width="1.3" stroke-linejoin="round"/>
<polyline points="1737.2,917.0 1743.6,908.7 1745.4,902.3 1759.2,896.7 1775.8,893.1" fill="none" stroke="#0a0a0a" stroke-width="1.3" stroke-linejoin="round"/>
<polyline points="1652.0,622.5 1672.8,615.3 1698.4,613.7 1730.3,586.5 1748.7,581.7 1763.1,604.9 1777.5,612.9 1787.9,623.3 1797.8,640.1 1819.1,640.9 1837.5,646.0 1853.1,646.5 1869.4,652.9 1889.4,650.2 1879.3,642.8 1883.8,620.1 1879.8,598.2 1859.8,591.7 1846.2,579.3 1829.5,565.8 1813.5,558.6 1799.4,553.8 1803.6,535.4 1805.5,513.0" fill="none" stroke="#0a0a0a" stroke-width="1.3" stroke-linejoin="round"/>
<polyline points="1800.7,632.9 1805.8,619.3 1815.1,615.3 1829.8,622.5 1814.3,628.9 1800.7,632.9" fill="none" stroke="#0a0a0a" stroke-width="1.3" stroke-linejoin="round"/>
<polyline points="1748.7,517.8 1754.3,513.0" fill="none" stroke="#0a0a0a" stroke-width="1.3" stroke-linejoin="round"/>
<polyline points="1755.9,513.0 1756.4,528.5 1764.7,519.7 1763.1,513.0" fill="none" stroke="#0a0a0a" stroke-width="1.3" stroke-linejoin="round"/>
<polyline points="1768.7,513.0 1773.8,519.4" fill="none" stroke="#0a0a0a" stroke-width="1.3" stroke-linejoin="round"/>
<polyline points="1667.0,365.1 1686.2,376.3 1700.6,401.9 1695.8,427.5 1703.8,437.1 1719.8,437.1 1730.9,432.9 1780.5,459.5 1801.3,475.5 1806.1,512.9" fill="none" stroke="#0a0a0a" stroke-width="1.3" stroke-linejoin="round"/>
<polyline points="1852.0,833.1 1858.4,834.4 1873.3,822.4 1881.6,832.3 1893.9,834.3 1903.2,847.2 1918.3,855.5 1924.7,848.3 1931.9,854.7" fill="none" stroke="#0a0a0a" stroke-width="1.3" stroke-linejoin="round"/>
<polyline points="1852.0,856.3 1897.6,849.9 1917.5,856.3" fill="none" stroke="#0a0a0a" stroke-width="1.3" stroke-linejoin="round"/>
<polyline points="1917.5,856.3 1908.0,863.5 1901.6,856.8 1888.0,871.5 1877.6,890.7" fill="none" stroke="#0a0a0a" stroke-width="1.3" stroke-linejoin="round"/>
<polyline points="1908.0,863.5 1924.7,848.3 1943.1,863.5 1927.1,875.5 1914.4,882.7 1885.6,919.5 1884.8,925.9 1890.4,972.2 1899.2,953.0 1903.2,965.8 1914.4,986.9" fill="none" stroke="#0a0a0a" stroke-width="1.3" stroke-linejoin="round"/>
<polyline points="1938.3,855.5 1947.9,850.7 1954.3,858.7 1984.7,853.9 2011.9,873.9 2040.6,895.5 2049.4,915.5 2059.0,935.5 2057.4,938.6 2055.0,951.4 2056.6,957.8 2062.2,964.2 2069.4,965.0 2079.0,963.4 2086.2,957.8 2095.0,922.7 2115.8,889.1 2123.8,871.5 2127.8,852.3" fill="none" stroke="#0a0a0a" stroke-width="1.3" stroke-linejoin="round"/>
<polyline points="1928.7,888.3 1939.9,879.5 1966.3,873.1 1979.9,878.7 1994.3,894.7 1997.5,918.7 2005.5,928.3 2005.8,911.5 2011.9,897.1 2049.4,916.3" fill="none" stroke="#0a0a0a" stroke-width="1.3" stroke-linejoin="round"/>
<polyline points="2011.9,839.5 2024.7,845.9 2040.6,879.5 2056.6,896.3 2049.4,916.3" fill="none" stroke="#0a0a0a" stroke-width="1.3" stroke-linejoin="round"/>
<polyline points="2011.9,839.5 2035.1,840.8 2058.2,831.2 2056.6,815.2 2012.7,805.6 1991.1,813.9 1971.9,825.1 1954.3,839.5 1938.3,852.3" fill="none" stroke="#0a0a0a" stroke-width="1.3" stroke-linejoin="round"/>
<polyline points="1963.9,849.9 1987.9,823.5 1995.1,837.9 1963.9,849.9" fill="none" stroke="#0a0a0a" stroke-width="1.3" stroke-linejoin="round"/>
<polyline points="2139.8,750.0 2139.8,756.4 2145.4,766.0 2162.2,777.2 2153.4,798.0 2147.8,810.8 2133.4,820.3 2120.6,832.3 2113.4,844.3 2106.2,841.1 2109.4,828.3 2120.6,819.5 2133.4,806.8" fill="none" stroke="#0a0a0a" stroke-width="1.3" stroke-linejoin="round"/>
<polyline points="2139.8,756.4 2133.4,770.0 2134.2,783.6 2120.6,795.6 2107.8,812.4 2095.0,840.3 2099.8,858.7 2112.6,849.9 2114.2,845.1 2127.0,851.5 2103.0,878.7 2103.0,893.1 2091.8,898.7 2082.2,909.1 2083.8,929.1 2077.4,947.4 2061.4,962.6 2061.4,977.0 2082.2,971.4 2106.2,945.0 2130.2,866.7 2127.8,852.3" fill="none" stroke="#0a0a0a" stroke-width="1.3" stroke-linejoin="round"/>
<polyline points="1924.7,929.1 1935.1,957.8 1944.7,970.6 1960.7,986.9" fill="none" stroke="#0a0a0a" stroke-width="1.3" stroke-linejoin="round"/>
<polyline points="871.5,1030.0 871.5,1039.7 888.7,1053.5 906.4,1059.8 924.2,1069.5 938.5,1082.7 951.7,1094.2 966.0,1103.3 980.3,1093.6 980.7,1112.5 991.2,1120.5 1000.4,1137.7 996.4,1143.4 1005.5,1158.9 1002.1,1172.1 1001.0,1177.8" fill="none" stroke="#0a0a0a" stroke-width="1.3" stroke-linejoin="round"/>
<polyline points="857.2,1057.5 867.5,1052.3 884.1,1062.1 895.0,1065.5 924.2,1076.4 935.7,1094.7 948.8,1110.2 968.9,1125.7 980.9,1140.6 970.0,1147.4 936.2,1132.0 936.0,1122.2 923.6,1122.2 913.3,1113.1 899.6,1106.8 901.3,1097.0 869.8,1077.0 857.2,1057.5" fill="none" stroke="#0a0a0a" stroke-width="1.3" stroke-linejoin="round"/>
<polyline points="978.6,1122.8 985.5,1130.2 980.9,1132.5 979.2,1137.7 982.6,1144.0 980.9,1148.6 971.7,1151.4 961.4,1150.3 942.5,1141.7 943.7,1145.7 942.0,1155.4 950.0,1174.3 960.3,1200.0" fill="none" stroke="#0a0a0a" stroke-width="1.3" stroke-linejoin="round"/>
<polyline points="942.5,1142.8 964.3,1153.2 982.6,1153.2 992.4,1158.9" fill="none" stroke="#0a0a0a" stroke-width="1.3" stroke-linejoin="round"/>
<polyline points="987.2,1178.9 990.1,1175.5" fill="none" stroke="#0a0a0a" stroke-width="1.3" stroke-linejoin="round"/>
<polyline points="960.3,1200.0 956.3,1190.0" fill="none" stroke="#0a0a0a" stroke-width="1.3" stroke-linejoin="round"/>
<polyline points="956.3,1190.0 963.9,1223.4 983.9,1229.1 963.9,1231.0 964.9,1247.2 967.3,1260.6 963.0,1275.8 962.0,1312.0 956.3,1338.7 950.6,1359.7 952.5,1379.7 960.1,1392.1 964.9,1414.1 963.0,1434.1 956.3,1453.2 956.3,1463.6 966.8,1473.0" fill="none" stroke="#0a0a0a" stroke-width="1.3" stroke-linejoin="round"/>
<polyline points="1902.0,960.0 1904.4,968.0 1919.5,998.4 1925.1,1014.4 1937.9,1027.1 1951.5,1044.7 1971.5,1054.3 1981.1,1047.1 1986.7,1034.3 1984.3,1020.0 1973.9,998.4 1960.3,984.8 1945.9,974.7 1935.5,961.6 1934.7,960.0" fill="none" stroke="#0a0a0a" stroke-width="1.3" stroke-linejoin="round"/>
<polyline points="1889.2,960.0 1890.8,972.0 1896.4,960.0" fill="none" stroke="#0a0a0a" stroke-width="1.3" stroke-linejoin="round"/>
<polyline points="2061.0,960.0 2061.0,976.0 2081.8,971.2 2094.6,960.0" fill="none" stroke="#0a0a0a" stroke-width="1.3" stroke-linejoin="round"/>
<polyline points="2059.4,960.0 2064.2,963.2 2073.8,964.0 2083.4,961.6" fill="none" stroke="#0a0a0a" stroke-width="1.3" stroke-linejoin="round"/>
<polyline points="2405.6,999.0 2407.2,1019.8 2416.8,1010.2 2420.0,1021.4 2408.8,1040.6 2410.4,1078.9 2399.2,1098.1 2397.6,1114.1 2404.0,1139.7 2402.4,1165.3 2397.0,1190.8 2396.0,1218.0 2412.0,1261.2 2447.2,1286.8 2467.0,1296.4" fill="none" stroke="#0a0a0a" stroke-width="1.3" stroke-linejoin="round"/>
<polyline points="2199.4,1472.9 2204.2,1461.0 2234.5,1444.1 2235.5,1430.0 2249.6,1437.7 2264.9,1425.9 2289.9,1397.1 2306.5,1397.7 2325.7,1391.6 2342.6,1401.2 2354.5,1385.9 2359.2,1366.7 2372.0,1352.3 2392.8,1352.3 2423.2,1361.0 2432.8,1357.8 2452.0,1369.9 2467.0,1390.7" fill="none" stroke="#0a0a0a" stroke-width="1.3" stroke-linejoin="round"/>
<path d="M269.4,512.9 C282.2,503.2 320.1,473.2 346.2,454.7 C372.3,436.2 395.2,420.0 426.1,401.9 C457.0,383.8 493.2,364.0 531.6,346.0 C570.0,327.9 619.0,307.4 656.3,293.8 C693.6,280.2 722.8,273.1 755.4,264.4 C788.1,255.8 835.9,245.8 852.0,242.0" fill="none" stroke="#4a4a4a" stroke-width="1.6" stroke-linejoin="round"/>
<path d="M272.6,513.0 C265.4,518.8 236.7,541.8 229.5,547.5 C302.2,620.8 593.2,913.6 665.9,986.9" fill="none" stroke="#4a4a4a" stroke-width="1.6" stroke-linejoin="round"/>
<path d="M1152.0,223.7 C1165.3,225.0 1203.3,228.1 1231.9,231.6 C1260.6,235.2 1308.5,242.6 1323.9,244.8 C1322.4,250.0 1316.6,270.8 1315.1,276.0" fill="none" stroke="#4a4a4a" stroke-width="1.6" stroke-linejoin="round"/>
<path d="M1480.2,219.7 C1492.2,217.0 1540.0,206.3 1552.0,203.7" fill="none" stroke="#4a4a4a" stroke-width="1.6" stroke-linejoin="round"/>
<path d="M1480.2,219.7 C1482.8,229.0 1493.1,266.6 1495.7,275.9" fill="none" stroke="#4a4a4a" stroke-width="1.6" stroke-linejoin="round"/>
<path d="M852.0,242.7 C868.3,240.6 909.5,233.5 950.0,230.0 C990.5,226.5 1061.3,223.0 1095.0,221.9 C1128.7,220.8 1142.5,223.4 1152.0,223.7" fill="none" stroke="#4a4a4a" stroke-width="1.6" stroke-linejoin="round"/>
<path d="M1315.1,276.0 C1305.9,315.5 1285.7,394.5 1259.7,513.0 C1233.7,631.5 1179.0,889.9 1159.0,986.9 C1139.0,1083.9 1149.9,1047.6 1139.8,1094.9 C1129.7,1142.2 1105.1,1241.5 1098.2,1270.8" fill="none" stroke="#4a4a4a" stroke-width="1.6" stroke-linejoin="round"/>
<path d="M1480.2,219.7 C1492.2,217.0 1523.4,208.9 1552.0,203.7 C1580.6,198.5 1632.8,191.3 1652.0,188.6 C1671.2,185.9 1646.9,188.9 1667.0,187.7 C1687.1,186.5 1735.2,181.8 1772.5,181.3 C1809.8,180.8 1850.3,181.8 1890.8,184.5 C1931.3,187.2 1972.9,190.1 2015.5,197.3 C2058.1,204.5 2108.8,217.8 2146.6,227.6 C2184.4,237.4 2212.8,246.0 2242.6,256.4 C2272.4,266.8 2299.1,278.4 2325.7,290.0 C2352.3,301.6 2378.8,314.0 2402.4,326.0 C2426.0,338.0 2456.2,356.0 2467.0,362.0" fill="none" stroke="#4a4a4a" stroke-width="1.6" stroke-linejoin="round"/>
<path d="M1480.2,219.7 C1482.8,229.1 1482.9,227.1 1495.7,276.0 C1508.5,324.9 1532.1,394.5 1557.0,513.0 C1581.9,631.5 1625.1,886.2 1645.0,986.9 C1664.9,1087.6 1669.2,1089.7 1676.6,1117.3 C1684.0,1144.9 1684.6,1126.4 1689.4,1152.5 C1694.2,1178.6 1702.7,1253.8 1705.4,1274.0" fill="none" stroke="#4a4a4a" stroke-width="1.6" stroke-linejoin="round"/>
<path d="M2467.0,714.4 C2418.9,759.8 2228.5,939.5 2178.6,986.9 C2128.7,1034.3 2188.7,981.0 2167.4,999.0 C2146.1,1017.0 2087.2,1062.4 2050.7,1094.9 C2014.2,1127.4 1974.0,1172.7 1948.4,1194.0 C1922.8,1215.3 1914.3,1212.1 1897.2,1222.8 C1880.1,1233.5 1869.5,1238.0 1846.0,1258.0 C1822.5,1278.0 1771.4,1328.6 1756.5,1342.7" fill="none" stroke="#4a4a4a" stroke-width="1.6" stroke-linejoin="round"/>
<path d="M269.4,512.9 C262.8,518.7 236.2,541.7 229.5,547.5 C302.2,620.7 591.6,911.6 665.9,986.9 C740.2,1062.2 644.5,969.1 675.5,999.0 C706.5,1028.8 811.9,1131.9 852.0,1166.0 C892.1,1200.1 893.1,1185.1 916.0,1203.6 C938.9,1222.1 969.2,1256.4 989.5,1277.2 C1009.8,1298.0 1029.5,1319.8 1037.5,1328.3" fill="none" stroke="#4a4a4a" stroke-width="1.6" stroke-linejoin="round"/>
<path d="M979.9,1122.1 C993.2,1120.6 1029.1,1116.5 1060.0,1113.0 C1090.9,1109.5 1133.7,1105.5 1165.4,1101.3 C1197.1,1097.1 1222.3,1093.3 1250.0,1088.0 C1277.7,1082.7 1303.3,1076.8 1331.6,1069.3 C1359.9,1061.8 1391.9,1053.7 1420.0,1043.0 C1448.1,1032.3 1473.8,1017.6 1500.0,1005.2 C1526.2,992.8 1554.8,979.4 1577.2,968.5 C1599.6,957.6 1624.1,946.0 1634.4,939.9 C1644.7,933.8 1638.4,934.8 1638.8,931.7 C1639.2,928.7 1637.3,923.3 1637.0,921.6 C1637.8,921.4 1640.8,920.4 1641.6,920.1" fill="none" stroke="#111" stroke-width="1.3"/>
<polyline points="1363.0,219.7 1376.4,513.0 1389.2,986.9 1391.0,1415.0" fill="none" stroke="#8a8a8a" stroke-width="2.2" stroke-dasharray="30,17"/>
<path d="M524.6,1150.9 C533.8,1123.6 562.5,1030.9 579.6,986.9 C596.8,942.9 611.5,917.0 627.5,887.1 C643.5,857.2 659.5,832.2 675.5,807.2 C691.5,782.2 705.3,762.9 723.4,736.8 C741.5,710.7 762.8,676.8 784.2,650.5 C805.6,624.2 829.0,601.9 852.0,579.0 C875.0,556.1 884.7,544.4 922.0,513.0 C959.3,481.6 1028.8,423.3 1075.8,390.7 C1122.8,358.1 1165.7,336.5 1203.7,317.2 C1241.7,297.9 1287.3,282.0 1304.0,275.0" fill="none" stroke="#454545" stroke-width="4.4" stroke-linejoin="round"/>
<path d="M1304.0,275.0 C1318.2,314.7 1366.0,450.9 1389.2,513.0 C1412.5,575.0 1423.8,599.3 1443.5,647.3 C1463.2,695.3 1484.0,744.2 1507.5,800.8 C1531.0,857.4 1563.3,937.0 1584.2,986.9 C1605.1,1036.8 1623.3,1075.3 1632.9,1100.0 C1642.5,1124.7 1637.3,1123.3 1641.7,1135.0 C1646.1,1146.7 1652.5,1156.9 1659.2,1170.1 C1665.9,1183.2 1674.4,1196.5 1682.0,1213.9 C1689.6,1231.3 1700.8,1264.5 1704.6,1274.6" fill="none" stroke="#454545" stroke-width="4.4" stroke-linejoin="round"/>
<path d="M1457.3,277.2 C1446.0,316.5 1408.0,453.4 1389.2,513.0 C1370.4,572.5 1359.9,590.3 1344.4,634.5 C1328.9,678.7 1318.2,719.7 1296.4,778.4 C1274.6,837.1 1234.1,934.1 1213.3,986.9 C1192.5,1039.7 1186.6,1058.8 1171.7,1094.9 C1156.8,1131.0 1136.2,1174.5 1123.8,1203.6 C1111.4,1232.7 1102.5,1249.5 1097.5,1269.6 C1092.5,1289.7 1094.2,1314.9 1093.5,1324.0" fill="none" stroke="#454545" stroke-width="4.4" stroke-linejoin="round"/>
<path d="M1457.3,277.2 C1489.8,290.5 1617.0,342.7 1652.0,357.1 C1687.0,371.5 1648.5,353.6 1667.0,363.5 C1685.5,373.4 1736.2,400.1 1762.9,416.3 C1789.6,432.6 1805.6,445.0 1826.9,461.0 C1848.2,477.0 1864.2,493.2 1890.8,512.5 C1917.4,531.8 1957.4,552.9 1986.7,577.0 C2016.0,601.1 2047.0,630.3 2066.7,656.9 C2086.4,683.5 2091.7,712.8 2105.0,736.8 C2118.3,760.8 2131.7,776.8 2146.6,800.8 C2161.5,824.8 2180.7,857.8 2194.6,880.7 C2208.5,903.6 2220.2,920.6 2229.8,938.3 C2239.4,956.0 2244.7,970.4 2252.1,986.9 C2259.5,1003.4 2267.6,1019.4 2274.5,1037.4 C2281.4,1055.4 2286.8,1072.2 2293.7,1094.9 C2300.6,1117.6 2312.4,1160.2 2316.1,1173.3 C2293.2,1178.3 2228.2,1193.2 2178.6,1203.6 C2129.0,1214.0 2072.0,1226.0 2018.7,1235.6 C1965.4,1245.2 1892.9,1255.6 1858.8,1261.2 C1824.7,1266.8 1826.9,1267.0 1814.1,1269.2 C1801.3,1271.4 1787.4,1273.7 1782.1,1274.6" fill="none" stroke="#454545" stroke-width="4.4" stroke-linejoin="round"/>
<path d="M524.6,1150.9 C579.2,1163.0 771.9,1206.5 852.0,1223.6 C932.1,1240.6 964.6,1245.5 1005.5,1253.2 C1046.4,1260.9 1064.5,1262.9 1097.5,1269.6 C1130.5,1276.3 1170.0,1287.2 1203.7,1293.2 C1237.5,1299.2 1263.5,1300.4 1300.0,1305.9 C1336.5,1311.4 1396.3,1321.5 1422.6,1326.0 C1448.9,1330.5 1444.5,1332.1 1457.7,1333.0 C1470.9,1333.9 1482.5,1330.4 1501.5,1331.3 C1520.5,1332.2 1540.1,1333.9 1571.6,1338.3 C1603.1,1342.7 1670.8,1354.4 1690.7,1357.6" fill="none" stroke="#454545" stroke-width="4.4" stroke-linejoin="round"/>
<path d="M1095.5,1363.7 C1102.9,1361.3 1110.0,1353.9 1139.8,1349.1 C1169.6,1344.3 1247.4,1336.7 1274.1,1334.7 C1300.8,1332.8 1292.5,1336.1 1300.0,1337.4 C1307.5,1338.7 1313.5,1342.0 1319.3,1342.7 C1325.1,1343.4 1319.2,1344.3 1335.0,1341.8 C1350.8,1339.3 1368.6,1334.8 1413.9,1327.8 C1459.2,1320.8 1567.2,1305.5 1606.6,1299.7 C1646.0,1293.9 1634.1,1296.3 1650.4,1292.7 C1666.7,1289.1 1695.6,1280.5 1704.6,1278.0" fill="none" stroke="#454545" stroke-width="4.4" stroke-linejoin="round"/>
<path d="M1037.8,1332.8 L1039.2,1330.4 L1040.8,1328.2 L1042.5,1326.0 L1044.4,1324.1 L1046.5,1322.2 L1048.7,1320.5 L1051.0,1319.1 L1053.4,1317.8 L1055.9,1316.6 L1058.5,1315.7 L1061.2,1315.0 L1063.9,1314.5 L1066.7,1314.3 L1069.4,1314.2 L1072.2,1314.4 L1074.9,1314.7 L1077.6,1315.3 L1080.2,1316.1 L1082.8,1317.1 L1085.3,1318.3 L1087.7,1319.7 L1089.9,1321.3 L1092.1,1323.0 L1094.0,1324.9 L1095.9,1327.0 L1097.6,1329.2 L1099.0,1331.5 L1100.3,1333.9 L1101.5,1336.4 L1102.4,1339.0 L1103.1,1341.7 L1103.6,1344.4 L1103.8,1347.2 L1103.9,1349.9 L1103.7,1352.7 L1103.4,1355.4 L1102.8,1358.1 L1102.0,1360.7 L1101.0,1363.3 L1099.8,1365.8" fill="none" stroke="#4a4a4a" stroke-width="3"/>
<path d="M1698.1,1358.4 L1696.9,1356.0 L1696.0,1353.5 L1695.2,1350.9 L1694.7,1348.3 L1694.4,1345.6 L1694.4,1342.9 L1694.6,1340.3 L1695.1,1337.6 L1695.8,1335.1 L1696.7,1332.6 L1697.8,1330.1 L1699.2,1327.8 L1700.8,1325.7 L1702.5,1323.6 L1704.4,1321.8 L1706.5,1320.1 L1708.7,1318.6 L1711.1,1317.4 L1713.5,1316.3 L1716.1,1315.5 L1718.7,1314.9 L1721.3,1314.5 L1724.0,1314.4 L1726.7,1314.5 L1729.3,1314.9 L1731.9,1315.5 L1734.5,1316.3 L1736.9,1317.4 L1739.3,1318.6 L1741.5,1320.1 L1743.6,1321.8 L1745.5,1323.7 L1747.3,1325.7 L1748.8,1327.9 L1750.2,1330.2 L1751.3,1332.6 L1752.2,1335.1 L1752.9,1337.7 L1753.4,1340.3 L1753.6,1343.0" fill="none" stroke="#4a4a4a" stroke-width="3"/>
<polygon points="615.4,834.3 643.5,813.6 651.5,823.8 623.4,845.5" fill="#001490" stroke="#001490" stroke-width="0.4"/>
<polygon points="540.3,863.8 566.8,838.5 576.4,848.7 549.8,873.7" fill="#cccccc" stroke="#cccccc" stroke-width="0.4"/>
<polygon points="560.4,883.3 587.0,860.0 599.4,871.8 622.7,847.1 633.0,857.7 609.0,880.8 636.5,913.3 613.2,936.7" fill="#cccccc" stroke="#cccccc" stroke-width="0.4"/>
<polygon points="643.5,868.6 667.5,848.1 678.1,859.0 653.1,880.7" fill="#cccccc" stroke="#cccccc" stroke-width="0.4"/>
<polygon points="1238.9,373.1 1289.4,381.1 1283.7,408.9 1232.5,400.9" fill="#cccccc" stroke="#cccccc" stroke-width="0.4"/>
<polygon points="1183.6,394.6 1234.1,400.3 1231.9,413.7 1182.3,408.3" fill="#cccccc" stroke="#cccccc" stroke-width="0.4"/>
<polygon points="1232.5,400.9 1283.7,408.9 1279.8,422.7 1230.9,414.7" fill="#0a2ab4" stroke="#0a2ab4" stroke-width="0.4"/>
<polygon points="1131.1,432.9 1178.8,437.1 1177.5,449.9 1130.2,446.0" fill="#cccccc" stroke="#cccccc" stroke-width="0.4"/>
<polygon points="1177.2,450.8 1223.9,456.3 1222.0,469.7 1175.6,464.3" fill="#c4e6fc" stroke="#c4e6fc" stroke-width="0.4"/>
<polygon points="914.4,560.3 955.9,552.0 957.5,566.7 915.9,572.2" fill="#cccccc" stroke="#cccccc" stroke-width="0.4"/>
<polygon points="957.5,566.7 999.1,561.6 1000.7,589.1 961.7,593.9" fill="#cccccc" stroke="#cccccc" stroke-width="0.4"/>
<polygon points="999.1,561.6 1040.0,558.4 1040.6,572.2 1000.0,574.7" fill="#0a2ab4" stroke="#0a2ab4" stroke-width="0.4"/>
<polygon points="883.3,608.3 922.4,600.0 924.9,613.7 886.5,622.4" fill="#cccccc" stroke="#cccccc" stroke-width="0.4"/>
<polygon points="1120.6,573.1 1162.2,576.3 1159.6,589.7 1120.6,587.2" fill="#cccccc" stroke="#cccccc" stroke-width="0.4"/>
<polygon points="1163.8,562.6 1204.7,567.4 1198.3,609.6 1159.6,604.1" fill="#cccccc" stroke="#cccccc" stroke-width="0.4"/>
<polygon points="1373.8,682.5 1410.0,666.5 1414.8,678.6 1449.9,664.9 1455.7,677.7 1386.6,708.7" fill="#cccccc" stroke="#cccccc" stroke-width="0.4"/>
<polygon points="1410.0,666.5 1446.1,651.1 1449.9,664.9 1414.8,678.6" fill="#001490" stroke="#001490" stroke-width="0.4"/>
<polygon points="1290.7,768.8 1355.6,727.9 1362.0,740.7 1298.0,780.6" fill="#cccccc" stroke="#cccccc" stroke-width="0.4"/>
<polygon points="1338.7,772.0 1370.0,752.8 1376.4,765.0 1346.0,784.1" fill="#cccccc" stroke="#cccccc" stroke-width="0.4"/>
<polygon points="1477.1,812.0 1504.3,800.1 1510.7,812.9 1482.5,824.8" fill="#cccccc" stroke="#cccccc" stroke-width="0.4"/>
<polygon points="1455.7,840.7 1481.9,828.0 1488.3,839.1 1462.1,851.9" fill="#cccccc" stroke="#cccccc" stroke-width="0.4"/>
<polygon points="1429.1,853.5 1455.7,839.8 1469.1,864.7 1443.5,879.1" fill="#001490" stroke="#001490" stroke-width="0.4"/>
<polygon points="1372.5,928.7 1392.4,912.7 1386.6,900.5 1409.9,883.3 1418.6,895.1 1443.5,879.1 1494.7,853.5 1501.7,865.7 1395.6,928.7 1381.2,940.8" fill="#cccccc" stroke="#cccccc" stroke-width="0.4"/>
<polygon points="1358.7,1284.8 1374.5,1279.6 1378.0,1297.1 1361.3,1301.1" fill="#cccccc" stroke="#cccccc" stroke-width="0.4"/>
<polygon points="1540.0,1290.1 1544.4,1281.3 1558.4,1288.3 1555.8,1296.2" fill="#cccccc" stroke="#cccccc" stroke-width="0.4"/>
<polygon points="1580.3,1333.0 1597.9,1335.7 1597.0,1341.8 1580.7,1340.0" fill="#cccccc" stroke="#cccccc" stroke-width="0.4"/>
<polygon points="1615.4,1331.3 1650.4,1340.0 1649.6,1349.7 1614.5,1344.4" fill="#cccccc" stroke="#cccccc" stroke-width="0.4"/>
<polygon points="1580.3,1199.0 1589.1,1190.2 1599.6,1202.5 1590.9,1210.0" fill="#cccccc" stroke="#cccccc" stroke-width="0.4"/>
<polygon points="1625.9,1184.1 1636.4,1178.8 1642.5,1192.9 1633.8,1197.8" fill="#aa0000" stroke="#aa0000" stroke-width="0.4"/>
<polygon points="1478.4,1241.0 1484.0,1228.8 1495.9,1234.0 1489.2,1246.3" fill="#aa0000" stroke="#aa0000" stroke-width="0.4"/>
<polygon points="2254.1,803.1 2264.4,791.1 2296.4,819.1 2285.2,830.3" fill="#c8c8c8" stroke="#c8c8c8" stroke-width="0.4"/>
<polygon points="2274.8,843.0 2286.0,831.9 2314.8,859.8 2303.6,871.0" fill="#c8c8c8" stroke="#c8c8c8" stroke-width="0.4"/>
<polygon points="2352.4,761.5 2365.2,748.7 2397.9,781.5 2385.9,792.7" fill="#c8c8c8" stroke="#c8c8c8" stroke-width="0.4"/>
<polygon points="2335.6,623.0 2377.5,653.4 2367.6,665.7 2326.3,635.4" fill="#c8c8c8" stroke="#c8c8c8" stroke-width="0.4"/>
<polygon points="1626.5,1132.5 1630.5,1130.8 1634.5,1129.1 1638.5,1127.4 1632.7,1112.9 1628.4,1114.6 1624.2,1116.4 1620.0,1118.3" fill="#dd4400" stroke="#dd4400" stroke-width="0.4"/>
<polygon points="1620.0,1118.3 1624.2,1116.4 1628.4,1114.6 1632.7,1112.9 1627.0,1098.3 1622.4,1100.2 1617.9,1102.1 1613.4,1104.1" fill="#dd4400" stroke="#dd4400" stroke-width="0.4"/>
<polygon points="1613.4,1104.1 1617.9,1102.1 1622.4,1100.2 1627.0,1098.3 1621.2,1083.8 1616.4,1085.7 1611.6,1087.8 1606.9,1089.9" fill="#dd4400" stroke="#dd4400" stroke-width="0.4"/>
<polygon points="1606.9,1089.9 1611.6,1087.8 1616.4,1085.7 1621.2,1083.8 1615.5,1069.2 1610.4,1071.3 1605.3,1073.4 1600.3,1075.7" fill="#dd4400" stroke="#dd4400" stroke-width="0.4"/>
<polygon points="1600.3,1075.7 1605.3,1073.4 1610.4,1071.3 1615.5,1069.2 1609.7,1054.6 1604.4,1056.8 1599.0,1059.1 1593.8,1061.5" fill="#dd4400" stroke="#dd4400" stroke-width="0.4"/>
<polygon points="1593.8,1061.5 1599.0,1059.1 1604.4,1056.8 1609.7,1054.6 1604.0,1040.1 1598.3,1042.4 1592.8,1044.8 1587.2,1047.3" fill="#dd4400" stroke="#dd4400" stroke-width="0.4"/>
<polygon points="1587.2,1047.3 1592.8,1044.8 1598.3,1042.4 1604.0,1040.1 1598.2,1025.5 1592.3,1027.9 1586.5,1030.4 1580.7,1033.1" fill="#dd4400" stroke="#dd4400" stroke-width="0.4"/>
<polygon points="1580.7,1033.1 1586.5,1030.4 1592.3,1027.9 1598.2,1025.5 1592.5,1011.0 1586.3,1013.5 1580.2,1016.1 1574.1,1018.8" fill="#cc3300" stroke="#cc3300" stroke-width="0.4"/>
<polygon points="1574.1,1018.8 1580.2,1016.1 1586.3,1013.5 1592.5,1011.0 1586.7,996.4 1580.3,999.0 1573.9,1001.8 1567.5,1004.6" fill="#cc3300" stroke="#cc3300" stroke-width="0.4"/>
<polygon points="1614.9,1138.3 1618.7,1136.3 1622.6,1134.4 1626.5,1132.5 1620.0,1118.3 1615.8,1120.3 1611.6,1122.4 1607.5,1124.5" fill="#aa0000" stroke="#aa0000" stroke-width="0.4"/>
<polygon points="1607.5,1124.5 1611.6,1122.4 1615.8,1120.3 1620.0,1118.3 1613.4,1104.1 1609.0,1106.2 1604.6,1108.4 1600.2,1110.7" fill="#aa0000" stroke="#aa0000" stroke-width="0.4"/>
<polygon points="1600.2,1110.7 1604.6,1108.4 1609.0,1106.2 1613.4,1104.1 1606.9,1089.9 1602.1,1092.1 1597.5,1094.4 1592.9,1096.8" fill="#aa0000" stroke="#aa0000" stroke-width="0.4"/>
<polygon points="1592.9,1096.8 1597.5,1094.4 1602.1,1092.1 1606.9,1089.9 1600.3,1075.7 1595.3,1078.0 1590.4,1080.5 1585.5,1083.0" fill="#990000" stroke="#990000" stroke-width="0.4"/>
<polygon points="1585.5,1083.0 1590.4,1080.5 1595.3,1078.0 1600.3,1075.7 1593.8,1061.5 1588.5,1064.0 1583.3,1066.5 1578.2,1069.2" fill="#aa0000" stroke="#aa0000" stroke-width="0.4"/>
<polygon points="1578.2,1069.2 1583.3,1066.5 1588.5,1064.0 1593.8,1061.5 1587.2,1047.3 1581.7,1049.9 1576.3,1052.6 1570.9,1055.4" fill="#990000" stroke="#990000" stroke-width="0.4"/>
<polygon points="1570.9,1055.4 1576.3,1052.6 1581.7,1049.9 1587.2,1047.3 1580.7,1033.1 1574.9,1035.8 1569.2,1038.6 1563.5,1041.5" fill="#aa0000" stroke="#aa0000" stroke-width="0.4"/>
<polygon points="1563.5,1041.5 1569.2,1038.6 1574.9,1035.8 1580.7,1033.1 1574.1,1018.8 1568.1,1021.7 1562.1,1024.6 1556.2,1027.7" fill="#aa0000" stroke="#aa0000" stroke-width="0.4"/>
<polygon points="1556.2,1027.7 1562.1,1024.6 1568.1,1021.7 1574.1,1018.8 1567.5,1004.6 1561.3,1007.6 1555.0,1010.7 1548.8,1013.9" fill="#990000" stroke="#990000" stroke-width="0.4"/>
<polygon points="1541.5,1000.1 1547.9,996.7 1554.4,993.5 1561.0,990.4 1554.4,976.2 1547.6,979.4 1540.9,982.8 1534.2,986.2" fill="#cccccc" stroke="#cccccc" stroke-width="0.4"/>
<polygon points="1595.5,1131.3 1599.4,1129.0 1603.5,1126.7 1607.5,1124.5 1600.2,1110.7 1595.9,1113.0 1591.6,1115.4 1587.4,1117.9" fill="#aa0000" stroke="#aa0000" stroke-width="0.4"/>
<polygon points="1587.4,1117.9 1591.6,1115.4 1595.9,1113.0 1600.2,1110.7 1592.9,1096.8 1588.3,1099.3 1583.7,1101.9 1579.3,1104.5" fill="#990000" stroke="#990000" stroke-width="0.4"/>
<polygon points="1579.3,1104.5 1583.7,1101.9 1588.3,1099.3 1592.9,1096.8 1585.5,1083.0 1580.7,1085.6 1575.9,1088.3 1571.2,1091.1" fill="#990000" stroke="#990000" stroke-width="0.4"/>
<polygon points="1571.2,1091.1 1575.9,1088.3 1580.7,1085.6 1585.5,1083.0 1578.2,1069.2 1573.1,1071.9 1568.1,1074.8 1563.1,1077.8" fill="#990000" stroke="#990000" stroke-width="0.4"/>
<polygon points="1563.1,1077.8 1568.1,1074.8 1573.1,1071.9 1578.2,1069.2 1570.9,1055.4 1565.5,1058.3 1560.2,1061.3 1555.0,1064.4" fill="#cccccc" stroke="#cccccc" stroke-width="0.4"/>
<polygon points="1555.0,1064.4 1560.2,1061.3 1565.5,1058.3 1570.9,1055.4 1563.5,1041.5 1557.9,1044.6 1552.4,1047.7 1546.9,1051.0" fill="#cccccc" stroke="#cccccc" stroke-width="0.4"/>
<polygon points="1546.9,1051.0 1552.4,1047.7 1557.9,1044.6 1563.5,1041.5 1556.2,1027.7 1550.3,1030.9 1544.5,1034.2 1538.8,1037.6" fill="#cccccc" stroke="#cccccc" stroke-width="0.4"/>
<polygon points="1538.8,1037.6 1544.5,1034.2 1550.3,1030.9 1556.2,1027.7 1548.8,1013.9 1542.7,1017.2 1536.7,1020.6 1530.7,1024.2" fill="#cccccc" stroke="#cccccc" stroke-width="0.4"/>
<polygon points="1583.8,1138.8 1587.6,1136.3 1591.5,1133.8 1595.5,1131.3 1587.4,1117.9 1583.2,1120.5 1579.0,1123.2 1575.0,1125.9" fill="#cc3300" stroke="#cc3300" stroke-width="0.4"/>
<polygon points="1575.0,1125.9 1579.0,1123.2 1583.2,1120.5 1587.4,1117.9 1579.3,1104.5 1574.8,1107.3 1570.5,1110.1 1566.1,1113.0" fill="#bb1800" stroke="#bb1800" stroke-width="0.4"/>
<polygon points="1566.1,1113.0 1570.5,1110.1 1574.8,1107.3 1579.3,1104.5 1571.2,1091.1 1566.5,1094.0 1561.9,1097.0 1557.3,1100.1" fill="#cccccc" stroke="#cccccc" stroke-width="0.4"/>
<polygon points="1557.3,1100.1 1561.9,1097.0 1566.5,1094.0 1571.2,1091.1 1563.1,1077.8 1558.1,1080.8 1553.3,1083.9 1548.5,1087.2" fill="#990000" stroke="#990000" stroke-width="0.4"/>
<polygon points="1548.5,1087.2 1553.3,1083.9 1558.1,1080.8 1563.1,1077.8 1555.0,1064.4 1549.8,1067.6 1544.7,1070.8 1539.6,1074.2" fill="#cccccc" stroke="#cccccc" stroke-width="0.4"/>
<polygon points="1539.6,1074.2 1544.7,1070.8 1549.8,1067.6 1555.0,1064.4 1546.9,1051.0 1541.5,1054.3 1536.1,1057.8 1530.8,1061.3" fill="#cccccc" stroke="#cccccc" stroke-width="0.4"/>
<polygon points="1530.8,1061.3 1536.1,1057.8 1541.5,1054.3 1546.9,1051.0 1538.8,1037.6 1533.1,1041.1 1527.5,1044.7 1522.0,1048.4" fill="#cccccc" stroke="#cccccc" stroke-width="0.4"/>
<polygon points="1522.0,1048.4 1527.5,1044.7 1533.1,1041.1 1538.8,1037.6 1530.7,1024.2 1524.8,1027.8 1518.9,1031.6 1513.1,1035.5" fill="#cccccc" stroke="#cccccc" stroke-width="0.4"/>
<polygon points="1563.0,1134.6 1566.9,1131.6 1570.9,1128.7 1575.0,1125.9 1566.1,1113.0 1561.9,1116.0 1557.6,1119.0 1553.5,1122.2" fill="#990000" stroke="#990000" stroke-width="0.4"/>
<polygon points="1553.5,1122.2 1557.6,1119.0 1561.9,1116.0 1566.1,1113.0 1557.3,1100.1 1552.8,1103.2 1548.3,1106.4 1543.9,1109.8" fill="#cccccc" stroke="#cccccc" stroke-width="0.4"/>
<polygon points="1543.9,1109.8 1548.3,1106.4 1552.8,1103.2 1557.3,1100.1 1548.5,1087.2 1543.7,1090.5 1539.0,1093.9 1534.4,1097.4" fill="#990000" stroke="#990000" stroke-width="0.4"/>
<polygon points="1534.4,1097.4 1539.0,1093.9 1543.7,1090.5 1548.5,1087.2 1539.6,1074.2 1534.6,1077.7 1529.7,1081.3 1524.9,1084.9" fill="#990000" stroke="#990000" stroke-width="0.4"/>
<polygon points="1524.9,1084.9 1529.7,1081.3 1534.6,1077.7 1539.6,1074.2 1530.8,1061.3 1525.6,1065.0 1520.4,1068.7 1515.3,1072.5" fill="#cccccc" stroke="#cccccc" stroke-width="0.4"/>
<polygon points="1515.3,1072.5 1520.4,1068.7 1525.6,1065.0 1530.8,1061.3 1522.0,1048.4 1516.5,1052.2 1511.1,1056.1 1505.8,1060.1" fill="#990000" stroke="#990000" stroke-width="0.4"/>
<polygon points="1505.8,1060.1 1511.1,1056.1 1516.5,1052.2 1522.0,1048.4 1513.1,1035.5 1507.4,1039.4 1501.8,1043.5 1496.2,1047.7" fill="#990000" stroke="#990000" stroke-width="0.4"/>
<polygon points="1541.4,1132.0 1545.3,1128.7 1549.4,1125.4 1553.5,1122.2 1543.9,1109.8 1539.6,1113.2 1535.3,1116.6 1531.1,1120.2" fill="#cccccc" stroke="#cccccc" stroke-width="0.4"/>
<polygon points="1531.1,1120.2 1535.3,1116.6 1539.6,1113.2 1543.9,1109.8 1534.4,1097.4 1529.8,1100.9 1525.3,1104.6 1520.9,1108.3" fill="#cccccc" stroke="#cccccc" stroke-width="0.4"/>
<polygon points="1520.9,1108.3 1525.3,1104.6 1529.8,1100.9 1534.4,1097.4 1524.9,1084.9 1520.1,1088.7 1515.4,1092.5 1510.7,1096.5" fill="#cccccc" stroke="#cccccc" stroke-width="0.4"/>
<polygon points="1510.7,1096.5 1515.4,1092.5 1520.1,1088.7 1524.9,1084.9 1515.3,1072.5 1510.3,1076.5 1505.4,1080.5 1500.5,1084.6" fill="#cccccc" stroke="#cccccc" stroke-width="0.4"/>
<polygon points="1500.5,1084.6 1505.4,1080.5 1510.3,1076.5 1515.3,1072.5 1505.8,1060.1 1500.5,1064.2 1495.4,1068.4 1490.3,1072.8" fill="#cccccc" stroke="#cccccc" stroke-width="0.4"/>
<polygon points="1490.3,1072.8 1495.4,1068.4 1500.5,1064.2 1505.8,1060.1 1496.2,1047.7 1490.8,1052.0 1485.4,1056.4 1480.1,1060.9" fill="#cccccc" stroke="#cccccc" stroke-width="0.4"/>
<polygon points="1540.7,1153.8 1544.2,1150.4 1547.9,1147.1 1551.6,1143.9 1541.4,1132.0 1537.4,1135.5 1533.6,1139.0 1529.8,1142.6" fill="#990000" stroke="#990000" stroke-width="0.4"/>
<polygon points="1529.8,1142.6 1533.6,1139.0 1537.4,1135.5 1541.4,1132.0 1531.1,1120.2 1527.0,1123.8 1522.9,1127.5 1518.9,1131.3" fill="#cccccc" stroke="#cccccc" stroke-width="0.4"/>
<polygon points="1518.9,1131.3 1522.9,1127.5 1527.0,1123.8 1531.1,1120.2 1520.9,1108.3 1516.6,1112.1 1512.3,1116.0 1508.1,1120.0" fill="#990000" stroke="#990000" stroke-width="0.4"/>
<polygon points="1508.1,1120.0 1512.3,1116.0 1516.6,1112.1 1520.9,1108.3 1510.7,1096.5 1506.1,1100.5 1501.6,1104.6 1497.2,1108.8" fill="#cccccc" stroke="#cccccc" stroke-width="0.4"/>
<polygon points="1497.2,1108.8 1501.6,1104.6 1506.1,1100.5 1510.7,1096.5 1500.5,1084.6 1495.7,1088.8 1491.0,1093.1 1486.4,1097.5" fill="#cccccc" stroke="#cccccc" stroke-width="0.4"/>
<polygon points="1486.4,1097.5 1491.0,1093.1 1495.7,1088.8 1500.5,1084.6 1490.3,1072.8 1485.3,1077.2 1480.3,1081.6 1475.5,1086.2" fill="#990000" stroke="#990000" stroke-width="0.4"/>
<polygon points="1475.5,1086.2 1480.3,1081.6 1485.3,1077.2 1490.3,1072.8 1480.1,1060.9 1474.8,1065.5 1469.7,1070.2 1464.6,1075.0" fill="#cccccc" stroke="#cccccc" stroke-width="0.4"/>
<polygon points="1464.6,1075.0 1469.7,1070.2 1474.8,1065.5 1480.1,1060.9 1469.8,1049.0 1464.4,1053.8 1459.0,1058.7 1453.8,1063.7" fill="#cccccc" stroke="#cccccc" stroke-width="0.4"/>
<polygon points="1541.8,1175.0 1545.0,1171.6 1548.2,1168.3 1551.5,1165.1 1540.7,1153.8 1537.2,1157.3 1533.7,1160.8 1530.3,1164.4" fill="#990000" stroke="#990000" stroke-width="0.4"/>
<polygon points="1530.3,1164.4 1533.7,1160.8 1537.2,1157.3 1540.7,1153.8 1529.8,1142.6 1526.1,1146.2 1522.4,1149.9 1518.9,1153.7" fill="#990000" stroke="#990000" stroke-width="0.4"/>
<polygon points="1518.9,1153.7 1522.4,1149.9 1526.1,1146.2 1529.8,1142.6 1518.9,1131.3 1515.0,1135.1 1511.2,1139.1 1507.4,1143.1" fill="#990000" stroke="#990000" stroke-width="0.4"/>
<polygon points="1507.4,1143.1 1511.2,1139.1 1515.0,1135.1 1518.9,1131.3 1508.1,1120.0 1504.0,1124.1 1499.9,1128.2 1495.9,1132.4" fill="#990000" stroke="#990000" stroke-width="0.4"/>
<polygon points="1495.9,1132.4 1499.9,1128.2 1504.0,1124.1 1508.1,1120.0 1497.2,1108.8 1492.9,1113.0 1488.6,1117.4 1484.4,1121.8" fill="#cccccc" stroke="#cccccc" stroke-width="0.4"/>
<polygon points="1484.4,1121.8 1488.6,1117.4 1492.9,1113.0 1497.2,1108.8 1486.4,1097.5 1481.8,1102.0 1477.4,1106.5 1473.0,1111.1" fill="#cccccc" stroke="#cccccc" stroke-width="0.4"/>
<polygon points="1473.0,1111.1 1477.4,1106.5 1481.8,1102.0 1486.4,1097.5 1475.5,1086.2 1470.7,1090.9 1466.1,1095.7 1461.5,1100.5" fill="#cccccc" stroke="#cccccc" stroke-width="0.4"/>
<polygon points="1461.5,1100.5 1466.1,1095.7 1470.7,1090.9 1475.5,1086.2 1464.6,1075.0 1459.7,1079.8 1454.8,1084.8 1450.0,1089.9" fill="#cccccc" stroke="#cccccc" stroke-width="0.4"/>
<polygon points="1450.0,1089.9 1454.8,1084.8 1459.7,1079.8 1464.6,1075.0 1453.8,1063.7 1448.6,1068.8 1443.5,1073.9 1438.6,1079.2" fill="#cccccc" stroke="#cccccc" stroke-width="0.4"/>
<polygon points="1520.6,1175.4 1523.8,1171.7 1527.0,1168.0 1530.3,1164.4 1518.9,1153.7 1515.4,1157.6 1511.9,1161.5 1508.6,1165.5" fill="#990000" stroke="#990000" stroke-width="0.4"/>
<polygon points="1508.6,1165.5 1511.9,1161.5 1515.4,1157.6 1518.9,1153.7 1507.4,1143.1 1503.7,1147.1 1500.1,1151.3 1496.5,1155.5" fill="#990000" stroke="#990000" stroke-width="0.4"/>
<polygon points="1496.5,1155.5 1500.1,1151.3 1503.7,1147.1 1507.4,1143.1 1495.9,1132.4 1492.0,1136.7 1488.2,1141.1 1484.5,1145.5" fill="#990000" stroke="#990000" stroke-width="0.4"/>
<polygon points="1484.5,1145.5 1488.2,1141.1 1492.0,1136.7 1495.9,1132.4 1484.4,1121.8 1480.4,1126.3 1476.3,1130.9 1472.4,1135.5" fill="#cccccc" stroke="#cccccc" stroke-width="0.4"/>
<polygon points="1472.4,1135.5 1476.3,1130.9 1480.4,1126.3 1484.4,1121.8 1473.0,1111.1 1468.7,1115.9 1464.5,1120.6 1460.4,1125.5" fill="#cccccc" stroke="#cccccc" stroke-width="0.4"/>
<polygon points="1460.4,1125.5 1464.5,1120.6 1468.7,1115.9 1473.0,1111.1 1461.5,1100.5 1457.0,1105.4 1452.6,1110.4 1448.3,1115.5" fill="#cccccc" stroke="#cccccc" stroke-width="0.4"/>
<polygon points="1448.3,1115.5 1452.6,1110.4 1457.0,1105.4 1461.5,1100.5 1450.0,1089.9 1445.3,1095.0 1440.8,1100.2 1436.3,1105.5" fill="#cccccc" stroke="#cccccc" stroke-width="0.4"/>
<polygon points="1436.3,1105.5 1440.8,1100.2 1445.3,1095.0 1450.0,1089.9 1438.6,1079.2 1433.7,1084.6 1428.9,1090.0 1424.2,1095.6" fill="#990000" stroke="#990000" stroke-width="0.4"/>
<polygon points="1424.2,1095.6 1428.9,1090.0 1433.7,1084.6 1438.6,1079.2 1427.1,1068.6 1422.0,1074.1 1417.0,1079.8 1412.2,1085.6" fill="#990000" stroke="#990000" stroke-width="0.4"/>
<polygon points="1511.5,1187.1 1514.5,1183.1 1517.5,1179.3 1520.6,1175.4 1508.6,1165.5 1505.3,1169.5 1502.1,1173.6 1498.9,1177.8" fill="#990000" stroke="#990000" stroke-width="0.4"/>
<polygon points="1498.9,1177.8 1502.1,1173.6 1505.3,1169.5 1508.6,1165.5 1496.5,1155.5 1493.0,1159.7 1489.7,1164.1 1486.3,1168.5" fill="#aa0000" stroke="#aa0000" stroke-width="0.4"/>
<polygon points="1486.3,1168.5 1489.7,1164.1 1493.0,1159.7 1496.5,1155.5 1484.5,1145.5 1480.8,1150.0 1477.2,1154.5 1473.8,1159.2" fill="#990000" stroke="#990000" stroke-width="0.4"/>
<polygon points="1473.8,1159.2 1477.2,1154.5 1480.8,1150.0 1484.5,1145.5 1472.4,1135.5 1468.6,1140.2 1464.8,1145.0 1461.2,1149.9" fill="#990000" stroke="#990000" stroke-width="0.4"/>
<polygon points="1461.2,1149.9 1464.8,1145.0 1468.6,1140.2 1472.4,1135.5 1460.4,1125.5 1456.3,1130.5 1452.4,1135.5 1448.6,1140.6" fill="#990000" stroke="#990000" stroke-width="0.4"/>
<polygon points="1448.6,1140.6 1452.4,1135.5 1456.3,1130.5 1460.4,1125.5 1448.3,1115.5 1444.1,1120.7 1440.0,1126.0 1436.0,1131.3" fill="#990000" stroke="#990000" stroke-width="0.4"/>
<polygon points="1436.0,1131.3 1440.0,1126.0 1444.1,1120.7 1448.3,1115.5 1436.3,1105.5 1431.9,1110.9 1427.6,1116.4 1423.4,1122.0" fill="#990000" stroke="#990000" stroke-width="0.4"/>
<polygon points="1490.0,1190.6 1492.9,1186.3 1495.9,1182.0 1498.9,1177.8 1486.3,1168.5 1483.1,1172.9 1480.0,1177.4 1476.9,1182.0" fill="#cc3300" stroke="#cc3300" stroke-width="0.4"/>
<polygon points="1463.8,1173.4 1467.1,1168.6 1470.4,1163.9 1473.8,1159.2 1461.2,1149.9 1457.6,1154.8 1454.1,1159.8 1450.7,1164.8" fill="#cc3300" stroke="#cc3300" stroke-width="0.4"/>
<polygon points="1450.7,1164.8 1454.1,1159.8 1457.6,1154.8 1461.2,1149.9 1448.6,1140.6 1444.8,1145.7 1441.2,1151.0 1437.7,1156.3" fill="#aa0000" stroke="#aa0000" stroke-width="0.4"/>
<polygon points="1437.7,1156.3 1441.2,1151.0 1444.8,1145.7 1448.6,1140.6 1436.0,1131.3 1432.1,1136.7 1428.3,1142.1 1424.6,1147.7" fill="#990000" stroke="#990000" stroke-width="0.4"/>
<polygon points="1424.6,1147.7 1428.3,1142.1 1432.1,1136.7 1436.0,1131.3 1423.4,1122.0 1419.3,1127.6 1415.3,1133.3 1411.5,1139.1" fill="#990000" stroke="#990000" stroke-width="0.4"/>
<polygon points="1468.3,1196.1 1471.1,1191.3 1473.9,1186.6 1476.9,1182.0 1463.8,1173.4 1460.7,1178.3 1457.7,1183.2 1454.7,1188.2" fill="#bb1800" stroke="#bb1800" stroke-width="0.4"/>
<polygon points="1454.7,1188.2 1457.7,1183.2 1460.7,1178.3 1463.8,1173.4 1450.7,1164.8 1447.5,1170.0 1444.3,1175.1 1441.2,1180.4" fill="#cc3300" stroke="#cc3300" stroke-width="0.4"/>
<polygon points="1441.2,1180.4 1444.3,1175.1 1447.5,1170.0 1450.7,1164.8 1437.7,1156.3 1434.2,1161.6 1430.9,1167.1 1427.6,1172.5" fill="#ff6600" stroke="#ff6600" stroke-width="0.4"/>
<polygon points="1427.6,1172.5 1430.9,1167.1 1434.2,1161.6 1437.7,1156.3 1424.6,1147.7 1421.0,1153.3 1417.5,1159.0 1414.1,1164.7" fill="#cccccc" stroke="#cccccc" stroke-width="0.4"/>
<polygon points="1414.1,1164.7 1417.5,1159.0 1421.0,1153.3 1424.6,1147.7 1411.5,1139.1 1407.7,1145.0 1404.1,1150.9 1400.5,1156.9" fill="#cccccc" stroke="#cccccc" stroke-width="0.4"/>
<polygon points="1460.4,1210.6 1462.9,1205.7 1465.6,1200.8 1468.3,1196.1 1454.7,1188.2 1451.9,1193.3 1449.1,1198.3 1446.4,1203.5" fill="#990000" stroke="#990000" stroke-width="0.4"/>
<polygon points="1446.4,1203.5 1449.1,1198.3 1451.9,1193.3 1454.7,1188.2 1441.2,1180.4 1438.2,1185.7 1435.3,1191.0 1432.5,1196.4" fill="#aa0000" stroke="#aa0000" stroke-width="0.4"/>
<polygon points="1467.7,1231.8 1469.8,1227.0 1472.1,1222.3 1474.4,1217.6 1460.4,1210.6 1458.0,1215.5 1455.6,1220.5 1453.4,1225.5" fill="#990000" stroke="#990000" stroke-width="0.4"/>
<polygon points="1453.4,1225.5 1455.6,1220.5 1458.0,1215.5 1460.4,1210.6 1446.4,1203.5 1443.9,1208.7 1441.4,1213.9 1439.0,1219.2" fill="#990000" stroke="#990000" stroke-width="0.4"/>
<polygon points="1439.0,1219.2 1441.4,1213.9 1443.9,1208.7 1446.4,1203.5 1432.5,1196.4 1429.8,1201.9 1427.2,1207.4 1424.7,1212.9" fill="#990000" stroke="#990000" stroke-width="0.4"/>
<polygon points="1424.7,1212.9 1427.2,1207.4 1429.8,1201.9 1432.5,1196.4 1418.5,1189.4 1415.7,1195.1 1413.0,1200.8 1410.4,1206.6" fill="#cccccc" stroke="#cccccc" stroke-width="0.4"/>
<polygon points="1410.4,1206.6 1413.0,1200.8 1415.7,1195.1 1418.5,1189.4 1404.6,1182.3 1401.6,1188.3 1398.8,1194.3 1396.0,1200.4" fill="#cccccc" stroke="#cccccc" stroke-width="0.4"/>
<polygon points="1695.6,1351.5 1695.4,1351.0 1695.3,1350.4 1695.2,1349.9 1679.9,1353.0 1680.0,1353.8 1680.2,1354.7 1680.4,1355.5" fill="#cc3300" stroke="#cc3300" stroke-width="0.4"/>
<polygon points="1680.4,1355.5 1680.2,1354.7 1680.0,1353.8 1679.9,1353.0 1664.5,1356.2 1664.8,1357.3 1665.0,1358.4 1665.3,1359.5" fill="#cc3300" stroke="#cc3300" stroke-width="0.4"/>
<polygon points="1695.2,1349.9 1695.1,1349.3 1695.0,1348.8 1694.9,1348.3 1679.4,1350.5 1679.6,1351.4 1679.7,1352.2 1679.9,1353.0" fill="#00148c" stroke="#00148c" stroke-width="0.4"/>
<polygon points="1679.9,1353.0 1679.7,1352.2 1679.6,1351.4 1679.4,1350.5 1663.9,1352.8 1664.1,1353.9 1664.3,1355.0 1664.5,1356.2" fill="#00148c" stroke="#00148c" stroke-width="0.4"/>
<polygon points="1694.9,1348.3 1694.8,1347.7 1694.8,1347.2 1694.7,1346.6 1679.1,1348.0 1679.2,1348.9 1679.3,1349.7 1679.4,1350.5" fill="#cccccc" stroke="#cccccc" stroke-width="0.4"/>
<polygon points="1679.4,1350.5 1679.3,1349.7 1679.2,1348.9 1679.1,1348.0 1663.5,1349.4 1663.7,1350.6 1663.8,1351.7 1663.9,1352.8" fill="#cccccc" stroke="#cccccc" stroke-width="0.4"/>
<polygon points="1663.9,1352.8 1663.8,1351.7 1663.7,1350.6 1663.5,1349.4 1648.0,1350.9 1648.1,1352.3 1648.3,1353.7 1648.5,1355.1" fill="#cccccc" stroke="#cccccc" stroke-width="0.4"/>
<polygon points="1694.7,1346.6 1694.7,1346.1 1694.6,1345.5 1694.6,1345.0 1679.0,1345.5 1679.0,1346.4 1679.1,1347.2 1679.1,1348.0" fill="#cccccc" stroke="#cccccc" stroke-width="0.4"/>
<polygon points="1679.1,1348.0 1679.1,1347.2 1679.0,1346.4 1679.0,1345.5 1663.3,1346.1 1663.4,1347.2 1663.5,1348.3 1663.5,1349.4" fill="#cccccc" stroke="#cccccc" stroke-width="0.4"/>
<polygon points="1663.5,1349.4 1663.5,1348.3 1663.4,1347.2 1663.3,1346.1 1647.7,1346.6 1647.8,1348.0 1647.8,1349.4 1648.0,1350.9" fill="#0a8af0" stroke="#0a8af0" stroke-width="0.4"/>
<polygon points="1694.6,1345.0 1694.6,1344.5 1694.6,1343.9 1694.6,1343.4 1679.0,1343.0 1679.0,1343.9 1679.0,1344.7 1679.0,1345.5" fill="#cccccc" stroke="#cccccc" stroke-width="0.4"/>
<polygon points="1679.0,1345.5 1679.0,1344.7 1679.0,1343.9 1679.0,1343.0 1663.3,1342.7 1663.3,1343.8 1663.3,1344.9 1663.3,1346.1" fill="#cccccc" stroke="#cccccc" stroke-width="0.4"/>
<polygon points="1663.3,1346.1 1663.3,1344.9 1663.3,1343.8 1663.3,1342.7 1647.7,1342.3 1647.7,1343.8 1647.7,1345.2 1647.7,1346.6" fill="#0a8af0" stroke="#0a8af0" stroke-width="0.4"/>
<polygon points="1647.7,1346.6 1647.7,1345.2 1647.7,1343.8 1647.7,1342.3 1632.0,1342.0 1632.0,1343.7 1632.0,1345.4 1632.1,1347.1" fill="#cccccc" stroke="#cccccc" stroke-width="0.4"/>
<polygon points="1632.1,1347.1 1632.0,1345.4 1632.0,1343.7 1632.0,1342.0 1616.4,1341.7 1616.4,1343.7 1616.4,1345.7 1616.4,1347.7" fill="#cccccc" stroke="#cccccc" stroke-width="0.4"/>
<polygon points="1694.6,1343.4 1694.6,1342.8 1694.7,1342.3 1694.7,1341.7 1679.1,1340.5 1679.0,1341.3 1679.0,1342.2 1679.0,1343.0" fill="#cccccc" stroke="#cccccc" stroke-width="0.4"/>
<polygon points="1679.0,1343.0 1679.0,1342.2 1679.0,1341.3 1679.1,1340.5 1663.5,1339.3 1663.4,1340.4 1663.3,1341.5 1663.3,1342.7" fill="#cccccc" stroke="#cccccc" stroke-width="0.4"/>
<polygon points="1663.3,1342.7 1663.3,1341.5 1663.4,1340.4 1663.5,1339.3 1647.9,1338.1 1647.8,1339.5 1647.7,1340.9 1647.7,1342.3" fill="#aa0000" stroke="#aa0000" stroke-width="0.4"/>
<polygon points="1600.7,1341.3 1600.8,1339.0 1600.9,1336.7 1601.1,1334.4 1585.5,1333.2 1585.3,1335.8 1585.2,1338.4 1585.1,1341.0" fill="#cccccc" stroke="#cccccc" stroke-width="0.4"/>
<polygon points="1694.7,1341.7 1694.7,1341.2 1694.8,1340.6 1694.9,1340.1 1679.4,1338.0 1679.2,1338.8 1679.2,1339.7 1679.1,1340.5" fill="#cccccc" stroke="#cccccc" stroke-width="0.4"/>
<polygon points="1679.1,1340.5 1679.2,1339.7 1679.2,1338.8 1679.4,1338.0 1663.8,1335.9 1663.7,1337.0 1663.6,1338.2 1663.5,1339.3" fill="#aa0000" stroke="#aa0000" stroke-width="0.4"/>
<polygon points="1663.5,1339.3 1663.6,1338.2 1663.7,1337.0 1663.8,1335.9 1648.3,1333.8 1648.2,1335.2 1648.0,1336.7 1647.9,1338.1" fill="#0a8af0" stroke="#0a8af0" stroke-width="0.4"/>
<polygon points="1694.9,1340.1 1694.9,1339.5 1695.0,1339.0 1695.1,1338.5 1679.8,1335.5 1679.6,1336.3 1679.5,1337.2 1679.4,1338.0" fill="#cccccc" stroke="#cccccc" stroke-width="0.4"/>
<polygon points="1679.4,1338.0 1679.5,1337.2 1679.6,1336.3 1679.8,1335.5 1664.4,1332.6 1664.2,1333.7 1664.0,1334.8 1663.8,1335.9" fill="#aa0000" stroke="#aa0000" stroke-width="0.4"/>
<polygon points="1663.8,1335.9 1664.0,1334.8 1664.2,1333.7 1664.4,1332.6 1649.0,1329.6 1648.8,1331.0 1648.5,1332.4 1648.3,1333.8" fill="#aa0000" stroke="#aa0000" stroke-width="0.4"/>
<polygon points="1695.1,1338.5 1695.2,1337.9 1695.4,1337.4 1695.5,1336.9 1680.3,1333.1 1680.1,1333.9 1679.9,1334.7 1679.8,1335.5" fill="#00148c" stroke="#00148c" stroke-width="0.4"/>
<polygon points="1679.8,1335.5 1679.9,1334.7 1680.1,1333.9 1680.3,1333.1 1665.1,1329.3 1664.9,1330.4 1664.6,1331.5 1664.4,1332.6" fill="#cccccc" stroke="#cccccc" stroke-width="0.4"/>
<polygon points="1664.4,1332.6 1664.6,1331.5 1664.9,1330.4 1665.1,1329.3 1649.9,1325.5 1649.6,1326.8 1649.3,1328.2 1649.0,1329.6" fill="#aa0000" stroke="#aa0000" stroke-width="0.4"/>
<polygon points="1649.0,1329.6 1649.3,1328.2 1649.6,1326.8 1649.9,1325.5 1634.8,1321.7 1634.4,1323.3 1634.0,1325.0 1633.6,1326.7" fill="#cccccc" stroke="#cccccc" stroke-width="0.4"/>
<polygon points="1695.5,1336.9 1695.6,1336.3 1695.8,1335.8 1695.9,1335.3 1681.0,1330.6 1680.7,1331.4 1680.5,1332.3 1680.3,1333.1" fill="#00148c" stroke="#00148c" stroke-width="0.4"/>
<polygon points="1680.3,1333.1 1680.5,1332.3 1680.7,1331.4 1681.0,1330.6 1666.0,1326.0 1665.7,1327.1 1665.4,1328.2 1665.1,1329.3" fill="#cccccc" stroke="#cccccc" stroke-width="0.4"/>
<polygon points="1665.1,1329.3 1665.4,1328.2 1665.7,1327.1 1666.0,1326.0 1651.1,1321.4 1650.7,1322.7 1650.3,1324.1 1649.9,1325.5" fill="#cccccc" stroke="#cccccc" stroke-width="0.4"/>
<polygon points="1649.9,1325.5 1650.3,1324.1 1650.7,1322.7 1651.1,1321.4 1636.1,1316.7 1635.6,1318.4 1635.2,1320.0 1634.8,1321.7" fill="#cccccc" stroke="#cccccc" stroke-width="0.4"/>
<polygon points="1695.9,1335.3 1696.1,1334.8 1696.3,1334.2 1696.5,1333.7 1681.8,1328.3 1681.5,1329.0 1681.2,1329.8 1681.0,1330.6" fill="#cccccc" stroke="#cccccc" stroke-width="0.4"/>
<polygon points="1681.0,1330.6 1681.2,1329.8 1681.5,1329.0 1681.8,1328.3 1667.1,1322.8 1666.7,1323.9 1666.4,1324.9 1666.0,1326.0" fill="#00148c" stroke="#00148c" stroke-width="0.4"/>
<polygon points="1666.0,1326.0 1666.4,1324.9 1666.7,1323.9 1667.1,1322.8 1652.5,1317.3 1652.0,1318.7 1651.5,1320.0 1651.1,1321.4" fill="#aa0000" stroke="#aa0000" stroke-width="0.4"/>
<polygon points="1651.1,1321.4 1651.5,1320.0 1652.0,1318.7 1652.5,1317.3 1637.8,1311.9 1637.2,1313.5 1636.7,1315.1 1636.1,1316.7" fill="#cccccc" stroke="#cccccc" stroke-width="0.4"/>
<polygon points="1696.5,1333.7 1696.6,1333.2 1696.9,1332.7 1697.1,1332.2 1682.7,1325.9 1682.4,1326.7 1682.1,1327.5 1681.8,1328.3" fill="#0a8af0" stroke="#0a8af0" stroke-width="0.4"/>
<polygon points="1681.8,1328.3 1682.1,1327.5 1682.4,1326.7 1682.7,1325.9 1668.4,1319.7 1668.0,1320.7 1667.5,1321.7 1667.1,1322.8" fill="#0a8af0" stroke="#0a8af0" stroke-width="0.4"/>
<polygon points="1667.1,1322.8 1667.5,1321.7 1668.0,1320.7 1668.4,1319.7 1654.1,1313.4 1653.5,1314.7 1653.0,1316.0 1652.5,1317.3" fill="#aa0000" stroke="#aa0000" stroke-width="0.4"/>
<polygon points="1652.5,1317.3 1653.0,1316.0 1653.5,1314.7 1654.1,1313.4 1639.7,1307.1 1639.1,1308.7 1638.4,1310.3 1637.8,1311.9" fill="#00148c" stroke="#00148c" stroke-width="0.4"/>
<polygon points="1697.1,1332.2 1697.3,1331.7 1697.5,1331.2 1697.8,1330.7 1683.8,1323.7 1683.4,1324.4 1683.1,1325.2 1682.7,1325.9" fill="#cccccc" stroke="#cccccc" stroke-width="0.4"/>
<polygon points="1682.7,1325.9 1683.1,1325.2 1683.4,1324.4 1683.8,1323.7 1669.8,1316.6 1669.3,1317.6 1668.9,1318.6 1668.4,1319.7" fill="#00148c" stroke="#00148c" stroke-width="0.4"/>
<polygon points="1668.4,1319.7 1668.9,1318.6 1669.3,1317.6 1669.8,1316.6 1655.9,1309.5 1655.3,1310.8 1654.6,1312.1 1654.1,1313.4" fill="#cccccc" stroke="#cccccc" stroke-width="0.4"/>
<polygon points="1654.1,1313.4 1654.6,1312.1 1655.3,1310.8 1655.9,1309.5 1641.9,1302.4 1641.2,1304.0 1640.4,1305.5 1639.7,1307.1" fill="#00148c" stroke="#00148c" stroke-width="0.4"/>
<polygon points="1697.8,1330.7 1698.0,1330.2 1698.3,1329.8 1698.6,1329.3 1685.0,1321.4 1684.6,1322.2 1684.2,1322.9 1683.8,1323.7" fill="#00148c" stroke="#00148c" stroke-width="0.4"/>
<polygon points="1683.8,1323.7 1684.2,1322.9 1684.6,1322.2 1685.0,1321.4 1671.5,1313.6 1670.9,1314.6 1670.4,1315.6 1669.8,1316.6" fill="#00148c" stroke="#00148c" stroke-width="0.4"/>
<polygon points="1669.8,1316.6 1670.4,1315.6 1670.9,1314.6 1671.5,1313.6 1657.9,1305.8 1657.2,1307.0 1656.5,1308.3 1655.9,1309.5" fill="#0a8af0" stroke="#0a8af0" stroke-width="0.4"/>
<polygon points="1655.9,1309.5 1656.5,1308.3 1657.2,1307.0 1657.9,1305.8 1644.4,1297.9 1643.5,1299.4 1642.7,1300.9 1641.9,1302.4" fill="#00148c" stroke="#00148c" stroke-width="0.4"/>
<polygon points="1641.9,1302.4 1642.7,1300.9 1643.5,1299.4 1644.4,1297.9 1630.8,1290.1 1629.8,1291.8 1628.9,1293.6 1628.0,1295.4" fill="#cccccc" stroke="#cccccc" stroke-width="0.4"/>
<polygon points="1628.0,1295.4 1628.9,1293.6 1629.8,1291.8 1630.8,1290.1 1617.3,1282.3 1616.1,1284.3 1615.0,1286.3 1614.0,1288.3" fill="#aa0000" stroke="#aa0000" stroke-width="0.4"/>
<polygon points="1614.0,1288.3 1615.0,1286.3 1616.1,1284.3 1617.3,1282.3 1603.7,1274.4 1602.5,1276.7 1601.2,1278.9 1600.0,1281.2" fill="#cccccc" stroke="#cccccc" stroke-width="0.4"/>
<polygon points="1698.6,1329.3 1698.8,1328.8 1699.1,1328.3 1699.4,1327.9 1686.3,1319.3 1685.9,1320.0 1685.4,1320.7 1685.0,1321.4" fill="#cccccc" stroke="#cccccc" stroke-width="0.4"/>
<polygon points="1685.0,1321.4 1685.4,1320.7 1685.9,1320.0 1686.3,1319.3 1673.2,1310.7 1672.6,1311.7 1672.0,1312.6 1671.5,1313.6" fill="#aa0000" stroke="#aa0000" stroke-width="0.4"/>
<polygon points="1671.5,1313.6 1672.0,1312.6 1672.6,1311.7 1673.2,1310.7 1660.1,1302.1 1659.4,1303.3 1658.6,1304.5 1657.9,1305.8" fill="#0a8af0" stroke="#0a8af0" stroke-width="0.4"/>
<polygon points="1657.9,1305.8 1658.6,1304.5 1659.4,1303.3 1660.1,1302.1 1647.1,1293.6 1646.1,1295.0 1645.2,1296.5 1644.4,1297.9" fill="#dd4400" stroke="#dd4400" stroke-width="0.4"/>
<polygon points="1630.8,1290.1 1631.8,1288.4 1632.9,1286.7 1634.0,1285.0 1620.9,1276.4 1619.6,1278.3 1618.4,1280.3 1617.3,1282.3" fill="#990000" stroke="#990000" stroke-width="0.4"/>
<polygon points="1617.3,1282.3 1618.4,1280.3 1619.6,1278.3 1620.9,1276.4 1607.8,1267.8 1606.4,1270.0 1605.0,1272.2 1603.7,1274.4" fill="#990000" stroke="#990000" stroke-width="0.4"/>
<polygon points="1699.4,1327.9 1699.7,1327.4 1700.0,1327.0 1700.4,1326.5 1687.8,1317.2 1687.3,1317.9 1686.8,1318.6 1686.3,1319.3" fill="#aa0000" stroke="#aa0000" stroke-width="0.4"/>
<polygon points="1686.3,1319.3 1686.8,1318.6 1687.3,1317.9 1687.8,1317.2 1675.2,1307.9 1674.5,1308.9 1673.9,1309.8 1673.2,1310.7" fill="#cccccc" stroke="#cccccc" stroke-width="0.4"/>
<polygon points="1673.2,1310.7 1673.9,1309.8 1674.5,1308.9 1675.2,1307.9 1662.6,1298.6 1661.8,1299.8 1660.9,1301.0 1660.1,1302.1" fill="#00148c" stroke="#00148c" stroke-width="0.4"/>
<polygon points="1660.1,1302.1 1660.9,1301.0 1661.8,1299.8 1662.6,1298.6 1650.0,1289.3 1649.0,1290.7 1648.0,1292.1 1647.1,1293.6" fill="#cccccc" stroke="#cccccc" stroke-width="0.4"/>
<polygon points="1634.0,1285.0 1635.1,1283.3 1636.2,1281.7 1637.4,1280.0 1624.8,1270.7 1623.5,1272.6 1622.2,1274.5 1620.9,1276.4" fill="#cccccc" stroke="#cccccc" stroke-width="0.4"/>
<polygon points="1620.9,1276.4 1622.2,1274.5 1623.5,1272.6 1624.8,1270.7 1612.2,1261.4 1610.7,1263.5 1609.2,1265.7 1607.8,1267.8" fill="#aa0000" stroke="#aa0000" stroke-width="0.4"/>
<polygon points="1700.4,1326.5 1700.7,1326.1 1701.0,1325.7 1701.4,1325.2 1689.3,1315.3 1688.8,1315.9 1688.3,1316.6 1687.8,1317.2" fill="#dd4400" stroke="#dd4400" stroke-width="0.4"/>
<polygon points="1687.8,1317.2 1688.3,1316.6 1688.8,1315.9 1689.3,1315.3 1677.3,1305.3 1676.6,1306.1 1675.9,1307.0 1675.2,1307.9" fill="#aa0000" stroke="#aa0000" stroke-width="0.4"/>
<polygon points="1675.2,1307.9 1675.9,1307.0 1676.6,1306.1 1677.3,1305.3 1665.2,1295.3 1664.3,1296.4 1663.4,1297.5 1662.6,1298.6" fill="#00148c" stroke="#00148c" stroke-width="0.4"/>
<polygon points="1662.6,1298.6 1663.4,1297.5 1664.3,1296.4 1665.2,1295.3 1653.2,1285.3 1652.1,1286.6 1651.0,1288.0 1650.0,1289.3" fill="#cccccc" stroke="#cccccc" stroke-width="0.4"/>
<polygon points="1701.4,1325.2 1701.7,1324.8 1702.1,1324.4 1702.4,1324.0 1691.0,1313.4 1690.4,1314.0 1689.9,1314.6 1689.3,1315.3" fill="#00148c" stroke="#00148c" stroke-width="0.4"/>
<polygon points="1689.3,1315.3 1689.9,1314.6 1690.4,1314.0 1691.0,1313.4 1679.5,1302.7 1678.7,1303.6 1678.0,1304.4 1677.3,1305.3" fill="#00148c" stroke="#00148c" stroke-width="0.4"/>
<polygon points="1677.3,1305.3 1678.0,1304.4 1678.7,1303.6 1679.5,1302.7 1668.0,1292.1 1667.1,1293.1 1666.1,1294.2 1665.2,1295.3" fill="#aa0000" stroke="#aa0000" stroke-width="0.4"/>
<polygon points="1665.2,1295.3 1666.1,1294.2 1667.1,1293.1 1668.0,1292.1 1656.6,1281.4 1655.4,1282.7 1654.3,1284.0 1653.2,1285.3" fill="#0a2ab4" stroke="#0a2ab4" stroke-width="0.4"/>
<polygon points="1702.4,1324.0 1702.8,1323.6 1703.2,1323.2 1703.6,1322.8 1692.7,1311.6 1692.1,1312.2 1691.5,1312.8 1691.0,1313.4" fill="#aa0000" stroke="#aa0000" stroke-width="0.4"/>
<polygon points="1691.0,1313.4 1691.5,1312.8 1692.1,1312.2 1692.7,1311.6 1681.9,1300.3 1681.1,1301.1 1680.3,1301.9 1679.5,1302.7" fill="#cccccc" stroke="#cccccc" stroke-width="0.4"/>
<polygon points="1679.5,1302.7 1680.3,1301.9 1681.1,1301.1 1681.9,1300.3 1671.0,1289.0 1670.0,1290.0 1669.0,1291.0 1668.0,1292.1" fill="#aa0000" stroke="#aa0000" stroke-width="0.4"/>
<polygon points="1668.0,1292.1 1669.0,1291.0 1670.0,1290.0 1671.0,1289.0 1660.1,1277.8 1658.9,1279.0 1657.7,1280.2 1656.6,1281.4" fill="#cccccc" stroke="#cccccc" stroke-width="0.4"/>
<polygon points="1656.6,1281.4 1657.7,1280.2 1658.9,1279.0 1660.1,1277.8 1649.3,1266.5 1647.9,1267.9 1646.5,1269.3 1645.1,1270.8" fill="#00148c" stroke="#00148c" stroke-width="0.4"/>
<polygon points="1645.1,1270.8 1646.5,1269.3 1647.9,1267.9 1649.3,1266.5 1638.4,1255.2 1636.8,1256.8 1635.2,1258.5 1633.6,1260.1" fill="#990000" stroke="#990000" stroke-width="0.4"/>
<polygon points="1703.6,1322.8 1704.0,1322.5 1704.4,1322.1 1704.8,1321.7 1694.6,1309.9 1694.0,1310.4 1693.3,1311.0 1692.7,1311.6" fill="#cccccc" stroke="#cccccc" stroke-width="0.4"/>
<polygon points="1692.7,1311.6 1693.3,1311.0 1694.0,1310.4 1694.6,1309.9 1684.4,1298.0 1683.5,1298.8 1682.7,1299.5 1681.9,1300.3" fill="#aa0000" stroke="#aa0000" stroke-width="0.4"/>
<polygon points="1681.9,1300.3 1682.7,1299.5 1683.5,1298.8 1684.4,1298.0 1674.2,1286.2 1673.1,1287.1 1672.0,1288.1 1671.0,1289.0" fill="#00148c" stroke="#00148c" stroke-width="0.4"/>
<polygon points="1671.0,1289.0 1672.0,1288.1 1673.1,1287.1 1674.2,1286.2 1663.9,1274.3 1662.7,1275.4 1661.4,1276.6 1660.1,1277.8" fill="#cccccc" stroke="#cccccc" stroke-width="0.4"/>
<polygon points="1704.8,1321.7 1705.2,1321.4 1705.7,1321.0 1706.1,1320.7 1696.5,1308.3 1695.9,1308.8 1695.2,1309.3 1694.6,1309.9" fill="#aa0000" stroke="#aa0000" stroke-width="0.4"/>
<polygon points="1694.6,1309.9 1695.2,1309.3 1695.9,1308.8 1696.5,1308.3 1687.0,1295.9 1686.1,1296.6 1685.2,1297.3 1684.4,1298.0" fill="#aa0000" stroke="#aa0000" stroke-width="0.4"/>
<polygon points="1684.4,1298.0 1685.2,1297.3 1686.1,1296.6 1687.0,1295.9 1677.5,1283.5 1676.3,1284.3 1675.2,1285.2 1674.2,1286.2" fill="#00148c" stroke="#00148c" stroke-width="0.4"/>
<polygon points="1706.1,1320.7 1706.5,1320.4 1707.0,1320.0 1707.4,1319.7 1698.6,1306.8 1697.9,1307.3 1697.2,1307.8 1696.5,1308.3" fill="#cccccc" stroke="#cccccc" stroke-width="0.4"/>
<polygon points="1696.5,1308.3 1697.2,1307.8 1697.9,1307.3 1698.6,1306.8 1689.8,1293.9 1688.8,1294.5 1687.9,1295.2 1687.0,1295.9" fill="#00148c" stroke="#00148c" stroke-width="0.4"/>
<polygon points="1687.0,1295.9 1687.9,1295.2 1688.8,1294.5 1689.8,1293.9 1680.9,1281.0 1679.8,1281.8 1678.6,1282.6 1677.5,1283.5" fill="#aa0000" stroke="#aa0000" stroke-width="0.4"/>
<polygon points="1677.5,1283.5 1678.6,1282.6 1679.8,1281.8 1680.9,1281.0 1672.1,1268.0 1670.7,1269.0 1669.3,1270.0 1667.9,1271.1" fill="#aa0000" stroke="#aa0000" stroke-width="0.4"/>
<polygon points="1667.9,1271.1 1669.3,1270.0 1670.7,1269.0 1672.1,1268.0 1663.3,1255.1 1661.6,1256.3 1660.0,1257.4 1658.4,1258.7" fill="#aa0000" stroke="#aa0000" stroke-width="0.4"/>
<polygon points="1658.4,1258.7 1660.0,1257.4 1661.6,1256.3 1663.3,1255.1 1654.4,1242.2 1652.5,1243.5 1650.7,1244.9 1648.9,1246.2" fill="#aa0000" stroke="#aa0000" stroke-width="0.4"/>
<polygon points="1707.4,1319.7 1707.9,1319.4 1708.3,1319.1 1708.8,1318.8 1700.7,1305.4 1700.0,1305.9 1699.3,1306.3 1698.6,1306.8" fill="#aa0000" stroke="#aa0000" stroke-width="0.4"/>
<polygon points="1698.6,1306.8 1699.3,1306.3 1700.0,1305.9 1700.7,1305.4 1692.6,1292.1 1691.6,1292.6 1690.7,1293.3 1689.8,1293.9" fill="#aa0000" stroke="#aa0000" stroke-width="0.4"/>
<polygon points="1689.8,1293.9 1690.7,1293.3 1691.6,1292.6 1692.6,1292.1 1684.5,1278.7 1683.3,1279.4 1682.1,1280.2 1680.9,1281.0" fill="#aa0000" stroke="#aa0000" stroke-width="0.4"/>
<polygon points="1680.9,1281.0 1682.1,1280.2 1683.3,1279.4 1684.5,1278.7 1676.4,1265.3 1675.0,1266.2 1673.5,1267.1 1672.1,1268.0" fill="#aa0000" stroke="#aa0000" stroke-width="0.4"/>
<polygon points="1672.1,1268.0 1673.5,1267.1 1675.0,1266.2 1676.4,1265.3 1668.3,1251.9 1666.6,1252.9 1664.9,1254.0 1663.3,1255.1" fill="#aa0000" stroke="#aa0000" stroke-width="0.4"/>
<polygon points="1663.3,1255.1 1664.9,1254.0 1666.6,1252.9 1668.3,1251.9 1660.2,1238.5 1658.3,1239.7 1656.3,1240.9 1654.4,1242.2" fill="#aa0000" stroke="#aa0000" stroke-width="0.4"/>
<polygon points="1654.4,1242.2 1656.3,1240.9 1658.3,1239.7 1660.2,1238.5 1652.1,1225.1 1649.9,1226.4 1647.7,1227.8 1645.6,1229.3" fill="#aa0000" stroke="#aa0000" stroke-width="0.4"/>
<polygon points="1708.8,1318.8 1709.3,1318.6 1709.7,1318.3 1710.2,1318.0 1702.9,1304.2 1702.1,1304.6 1701.4,1305.0 1700.7,1305.4" fill="#ff6600" stroke="#ff6600" stroke-width="0.4"/>
<polygon points="1700.7,1305.4 1701.4,1305.0 1702.1,1304.6 1702.9,1304.2 1695.5,1290.4 1694.6,1290.9 1693.6,1291.5 1692.6,1292.1" fill="#cccccc" stroke="#cccccc" stroke-width="0.4"/>
<polygon points="1710.2,1318.0 1710.7,1317.8 1711.2,1317.5 1711.7,1317.3 1705.1,1303.1 1704.4,1303.4 1703.6,1303.8 1702.9,1304.2" fill="#cccccc" stroke="#cccccc" stroke-width="0.4"/>
<polygon points="1702.9,1304.2 1703.6,1303.8 1704.4,1303.4 1705.1,1303.1 1698.6,1288.9 1697.6,1289.4 1696.6,1289.9 1695.5,1290.4" fill="#cccccc" stroke="#cccccc" stroke-width="0.4"/>
<polygon points="1711.7,1317.3 1712.2,1317.1 1712.7,1316.9 1713.2,1316.7 1707.5,1302.1 1706.7,1302.4 1705.9,1302.7 1705.1,1303.1" fill="#aa0000" stroke="#aa0000" stroke-width="0.4"/>
<polygon points="1705.1,1303.1 1705.9,1302.7 1706.7,1302.4 1707.5,1302.1 1701.7,1287.5 1700.7,1288.0 1699.6,1288.4 1698.6,1288.9" fill="#cccccc" stroke="#cccccc" stroke-width="0.4"/>
<polygon points="1698.6,1288.9 1699.6,1288.4 1700.7,1288.0 1701.7,1287.5 1696.0,1273.0 1694.6,1273.5 1693.3,1274.1 1692.0,1274.7" fill="#cccccc" stroke="#cccccc" stroke-width="0.4"/>
<polygon points="1681.8,1130.9 1685.8,1130.2 1689.8,1129.5 1693.8,1128.9 1691.6,1113.4 1687.3,1114.1 1683.0,1114.8 1678.8,1115.6" fill="#cc3300" stroke="#cc3300" stroke-width="0.4"/>
<polygon points="1678.8,1115.6 1683.0,1114.8 1687.3,1114.1 1691.6,1113.4 1689.4,1097.9 1684.8,1098.6 1680.3,1099.4 1675.7,1100.2" fill="#dd4400" stroke="#dd4400" stroke-width="0.4"/>
<polygon points="1675.7,1100.2 1680.3,1099.4 1684.8,1098.6 1689.4,1097.9 1687.2,1082.4 1682.4,1083.2 1677.5,1084.0 1672.7,1084.9" fill="#dd4400" stroke="#dd4400" stroke-width="0.4"/>
<polygon points="1672.7,1084.9 1677.5,1084.0 1682.4,1083.2 1687.2,1082.4 1685.1,1066.9 1679.9,1067.7 1674.8,1068.6 1669.7,1069.5" fill="#ea5200" stroke="#ea5200" stroke-width="0.4"/>
<polygon points="1669.7,1069.5 1674.8,1068.6 1679.9,1067.7 1685.1,1066.9 1682.9,1051.4 1677.4,1052.2 1672.0,1053.2 1666.6,1054.2" fill="#dd4400" stroke="#dd4400" stroke-width="0.4"/>
<polygon points="1666.6,1054.2 1672.0,1053.2 1677.4,1052.2 1682.9,1051.4 1680.7,1035.9 1675.0,1036.8 1669.3,1037.8 1663.6,1038.8" fill="#dd4400" stroke="#dd4400" stroke-width="0.4"/>
<polygon points="1663.6,1038.8 1669.3,1037.8 1675.0,1036.8 1680.7,1035.9 1678.5,1020.4 1672.5,1021.3 1666.5,1022.3 1660.5,1023.5" fill="#ea5200" stroke="#ea5200" stroke-width="0.4"/>
<polygon points="1660.5,1023.5 1666.5,1022.3 1672.5,1021.3 1678.5,1020.4 1676.3,1004.9 1670.0,1005.9 1663.8,1006.9 1657.5,1008.1" fill="#ea5200" stroke="#ea5200" stroke-width="0.4"/>
<polygon points="1657.5,1008.1 1663.8,1006.9 1670.0,1005.9 1676.3,1004.9 1674.2,989.4 1667.6,990.4 1661.0,991.5 1654.5,992.8" fill="#dd4400" stroke="#dd4400" stroke-width="0.4"/>
<polygon points="1654.5,992.8 1661.0,991.5 1667.6,990.4 1674.2,989.4 1672.0,973.9 1665.1,975.0 1658.3,976.1 1651.4,977.4" fill="#dd4400" stroke="#dd4400" stroke-width="0.4"/>
<polygon points="1648.4,962.1 1655.5,960.7 1662.6,959.5 1669.8,958.4 1667.6,942.9 1660.2,944.1 1652.7,945.3 1645.3,946.7" fill="#ea5200" stroke="#ea5200" stroke-width="0.4"/>
<polygon points="1645.3,946.7 1652.7,945.3 1660.2,944.1 1667.6,942.9 1665.5,927.4 1657.7,928.6 1650.0,929.9 1642.3,931.4" fill="#dd4400" stroke="#dd4400" stroke-width="0.4"/>
<polygon points="1642.3,931.4 1650.0,929.9 1657.7,928.6 1665.5,927.4 1663.3,911.9 1655.2,913.2 1647.2,914.5 1639.3,916.0" fill="#dd4400" stroke="#dd4400" stroke-width="0.4"/>
<polygon points="1693.8,1128.9 1697.8,1128.4 1701.8,1127.9 1705.8,1127.6 1704.5,1112.0 1700.2,1112.4 1695.9,1112.9 1691.6,1113.4" fill="#aa0000" stroke="#aa0000" stroke-width="0.4"/>
<polygon points="1691.6,1113.4 1695.9,1112.9 1700.2,1112.4 1704.5,1112.0 1703.2,1096.4 1698.6,1096.8 1694.0,1097.3 1689.4,1097.9" fill="#aa0000" stroke="#aa0000" stroke-width="0.4"/>
<polygon points="1689.4,1097.9 1694.0,1097.3 1698.6,1096.8 1703.2,1096.4 1701.9,1080.8 1697.0,1081.2 1692.1,1081.8 1687.2,1082.4" fill="#aa0000" stroke="#aa0000" stroke-width="0.4"/>
<polygon points="1687.2,1082.4 1692.1,1081.8 1697.0,1081.2 1701.9,1080.8 1700.6,1065.2 1695.4,1065.7 1690.2,1066.2 1685.1,1066.9" fill="#990000" stroke="#990000" stroke-width="0.4"/>
<polygon points="1685.1,1066.9 1690.2,1066.2 1695.4,1065.7 1700.6,1065.2 1699.3,1049.6 1693.8,1050.1 1688.3,1050.7 1682.9,1051.4" fill="#990000" stroke="#990000" stroke-width="0.4"/>
<polygon points="1682.9,1051.4 1688.3,1050.7 1693.8,1050.1 1699.3,1049.6 1698.0,1034.0 1692.2,1034.5 1686.4,1035.2 1680.7,1035.9" fill="#cccccc" stroke="#cccccc" stroke-width="0.4"/>
<polygon points="1680.7,1035.9 1686.4,1035.2 1692.2,1034.5 1698.0,1034.0 1696.7,1018.4 1690.6,1019.0 1684.6,1019.6 1678.5,1020.4" fill="#990000" stroke="#990000" stroke-width="0.4"/>
<polygon points="1678.5,1020.4 1684.6,1019.6 1690.6,1019.0 1696.7,1018.4 1695.3,1002.8 1689.0,1003.4 1682.7,1004.1 1676.3,1004.9" fill="#990000" stroke="#990000" stroke-width="0.4"/>
<polygon points="1676.3,1004.9 1682.7,1004.1 1689.0,1003.4 1695.3,1002.8 1694.0,987.2 1687.4,987.8 1680.8,988.6 1674.2,989.4" fill="#990000" stroke="#990000" stroke-width="0.4"/>
<polygon points="1674.2,989.4 1680.8,988.6 1687.4,987.8 1694.0,987.2 1692.7,971.6 1685.8,972.3 1678.9,973.0 1672.0,973.9" fill="#990000" stroke="#990000" stroke-width="0.4"/>
<polygon points="1672.0,973.9 1678.9,973.0 1685.8,972.3 1692.7,971.6 1691.4,956.0 1684.2,956.7 1677.0,957.5 1669.8,958.4" fill="#990000" stroke="#990000" stroke-width="0.4"/>
<polygon points="1669.8,958.4 1677.0,957.5 1684.2,956.7 1691.4,956.0 1690.1,940.4 1682.6,941.1 1675.1,942.0 1667.6,942.9" fill="#990000" stroke="#990000" stroke-width="0.4"/>
<polygon points="1667.6,942.9 1675.1,942.0 1682.6,941.1 1690.1,940.4 1688.8,924.8 1681.0,925.6 1673.2,926.4 1665.5,927.4" fill="#990000" stroke="#990000" stroke-width="0.4"/>
<polygon points="1665.5,927.4 1673.2,926.4 1681.0,925.6 1688.8,924.8 1687.5,909.2 1679.4,910.0 1671.3,910.9 1663.3,911.9" fill="#aa0000" stroke="#aa0000" stroke-width="0.4"/>
<polygon points="1663.3,911.9 1671.3,910.9 1679.4,910.0 1687.5,909.2 1686.2,893.6 1677.8,894.4 1669.4,895.4 1661.1,896.4" fill="#aa0000" stroke="#aa0000" stroke-width="0.4"/>
<polygon points="1705.8,1127.6 1709.9,1127.3 1713.9,1127.0 1717.9,1126.9 1717.5,1111.2 1713.2,1111.4 1708.8,1111.6 1704.5,1112.0" fill="#cccccc" stroke="#cccccc" stroke-width="0.4"/>
<polygon points="1704.5,1112.0 1708.8,1111.6 1713.2,1111.4 1717.5,1111.2 1717.1,1095.6 1712.4,1095.8 1707.8,1096.0 1703.2,1096.4" fill="#aa0000" stroke="#aa0000" stroke-width="0.4"/>
<polygon points="1703.2,1096.4 1707.8,1096.0 1712.4,1095.8 1717.1,1095.6 1716.6,1080.0 1711.7,1080.1 1706.8,1080.4 1701.9,1080.8" fill="#aa0000" stroke="#aa0000" stroke-width="0.4"/>
<polygon points="1701.9,1080.8 1706.8,1080.4 1711.7,1080.1 1716.6,1080.0 1716.2,1064.3 1711.0,1064.5 1705.8,1064.8 1700.6,1065.2" fill="#990000" stroke="#990000" stroke-width="0.4"/>
<polygon points="1700.6,1065.2 1705.8,1064.8 1711.0,1064.5 1716.2,1064.3 1715.8,1048.7 1710.3,1048.9 1704.8,1049.2 1699.3,1049.6" fill="#990000" stroke="#990000" stroke-width="0.4"/>
<polygon points="1699.3,1049.6 1704.8,1049.2 1710.3,1048.9 1715.8,1048.7 1715.3,1033.0 1709.5,1033.2 1703.7,1033.6 1698.0,1034.0" fill="#990000" stroke="#990000" stroke-width="0.4"/>
<polygon points="1698.0,1034.0 1703.7,1033.6 1709.5,1033.2 1715.3,1033.0 1714.9,1017.4 1708.8,1017.6 1702.7,1017.9 1696.7,1018.4" fill="#cccccc" stroke="#cccccc" stroke-width="0.4"/>
<polygon points="1696.7,1018.4 1702.7,1017.9 1708.8,1017.6 1714.9,1017.4 1714.4,1001.7 1708.1,1002.0 1701.7,1002.3 1695.3,1002.8" fill="#cccccc" stroke="#cccccc" stroke-width="0.4"/>
<polygon points="1695.3,1002.8 1701.7,1002.3 1708.1,1002.0 1714.4,1001.7 1714.0,986.1 1707.3,986.3 1700.7,986.7 1694.0,987.2" fill="#990000" stroke="#990000" stroke-width="0.4"/>
<polygon points="1694.0,987.2 1700.7,986.7 1707.3,986.3 1714.0,986.1 1713.6,970.4 1706.6,970.7 1699.7,971.1 1692.7,971.6" fill="#990000" stroke="#990000" stroke-width="0.4"/>
<polygon points="1692.7,971.6 1699.7,971.1 1706.6,970.7 1713.6,970.4 1713.1,954.8 1705.9,955.1 1698.6,955.5 1691.4,956.0" fill="#990000" stroke="#990000" stroke-width="0.4"/>
<polygon points="1690.1,940.4 1697.6,939.9 1705.2,939.4 1712.7,939.2 1712.3,923.5 1704.4,923.8 1696.6,924.2 1688.8,924.8" fill="#cccccc" stroke="#cccccc" stroke-width="0.4"/>
<polygon points="1688.8,924.8 1696.6,924.2 1704.4,923.8 1712.3,923.5 1711.8,907.9 1703.7,908.2 1695.6,908.6 1687.5,909.2" fill="#990000" stroke="#990000" stroke-width="0.4"/>
<polygon points="1716.6,1080.0 1721.5,1079.9 1726.5,1079.9 1731.4,1080.0 1731.8,1064.3 1726.6,1064.2 1721.4,1064.2 1716.2,1064.3" fill="#ea5200" stroke="#ea5200" stroke-width="0.4"/>
<polygon points="1716.2,1064.3 1721.4,1064.2 1726.6,1064.2 1731.8,1064.3 1732.2,1048.7 1726.8,1048.6 1721.2,1048.6 1715.8,1048.7" fill="#ff6600" stroke="#ff6600" stroke-width="0.4"/>
<polygon points="1715.8,1048.7 1721.2,1048.6 1726.8,1048.6 1732.2,1048.7 1732.7,1033.0 1726.9,1032.9 1721.1,1032.9 1715.3,1033.0" fill="#ea5200" stroke="#ea5200" stroke-width="0.4"/>
<polygon points="1715.3,1033.0 1721.1,1032.9 1726.9,1032.9 1732.7,1033.0 1733.1,1017.4 1727.0,1017.3 1721.0,1017.3 1714.9,1017.4" fill="#dd4400" stroke="#dd4400" stroke-width="0.4"/>
<polygon points="1714.9,1017.4 1721.0,1017.3 1727.0,1017.3 1733.1,1017.4 1733.6,1001.7 1727.2,1001.6 1720.8,1001.6 1714.4,1001.7" fill="#cc3300" stroke="#cc3300" stroke-width="0.4"/>
<polygon points="1714.4,1001.7 1720.8,1001.6 1727.2,1001.6 1733.6,1001.7 1734.0,986.1 1727.3,986.0 1720.7,986.0 1714.0,986.1" fill="#bb1800" stroke="#bb1800" stroke-width="0.4"/>
<polygon points="1714.0,986.1 1720.7,986.0 1727.3,986.0 1734.0,986.1 1734.4,970.4 1727.5,970.3 1720.5,970.3 1713.6,970.4" fill="#aa0000" stroke="#aa0000" stroke-width="0.4"/>
<polygon points="1713.6,970.4 1720.5,970.3 1727.5,970.3 1734.4,970.4 1734.9,954.8 1727.6,954.7 1720.4,954.7 1713.1,954.8" fill="#aa0000" stroke="#aa0000" stroke-width="0.4"/>
<polygon points="1713.1,954.8 1720.4,954.7 1727.6,954.7 1734.9,954.8 1735.3,939.2 1727.8,939.0 1720.2,939.0 1712.7,939.2" fill="#aa0000" stroke="#aa0000" stroke-width="0.4"/>
<polygon points="1712.7,939.2 1720.2,939.0 1727.8,939.0 1735.3,939.2 1735.7,923.5 1727.9,923.4 1720.1,923.4 1712.3,923.5" fill="#bb1800" stroke="#bb1800" stroke-width="0.4"/>
<polygon points="1712.3,923.5 1720.1,923.4 1727.9,923.4 1735.7,923.5 1736.2,907.9 1728.1,907.7 1719.9,907.7 1711.8,907.9" fill="#aa0000" stroke="#aa0000" stroke-width="0.4"/>
<polygon points="1711.8,907.9 1719.9,907.7 1728.1,907.7 1736.2,907.9 1736.6,892.2 1728.2,892.1 1719.8,892.1 1711.4,892.2" fill="#cc3300" stroke="#cc3300" stroke-width="0.4"/>
<polygon points="1731.4,1080.0 1736.3,1080.1 1741.2,1080.4 1746.1,1080.8 1747.4,1065.2 1742.2,1064.8 1737.0,1064.5 1731.8,1064.3" fill="#ea5200" stroke="#ea5200" stroke-width="0.4"/>
<polygon points="1731.8,1064.3 1737.0,1064.5 1742.2,1064.8 1747.4,1065.2 1748.7,1049.6 1743.2,1049.2 1737.7,1048.9 1732.2,1048.7" fill="#dd4400" stroke="#dd4400" stroke-width="0.4"/>
<polygon points="1732.2,1048.7 1737.7,1048.9 1743.2,1049.2 1748.7,1049.6 1750.0,1034.0 1744.3,1033.6 1738.5,1033.2 1732.7,1033.0" fill="#ea5200" stroke="#ea5200" stroke-width="0.4"/>
<polygon points="1732.7,1033.0 1738.5,1033.2 1744.3,1033.6 1750.0,1034.0 1751.3,1018.4 1745.3,1017.9 1739.2,1017.6 1733.1,1017.4" fill="#ea5200" stroke="#ea5200" stroke-width="0.4"/>
<polygon points="1733.1,1017.4 1739.2,1017.6 1745.3,1017.9 1751.3,1018.4 1752.7,1002.8 1746.3,1002.3 1739.9,1002.0 1733.6,1001.7" fill="#dd4400" stroke="#dd4400" stroke-width="0.4"/>
<polygon points="1733.6,1001.7 1739.9,1002.0 1746.3,1002.3 1752.7,1002.8 1754.0,987.2 1747.3,986.7 1740.7,986.3 1734.0,986.1" fill="#ea5200" stroke="#ea5200" stroke-width="0.4"/>
<polygon points="1734.0,986.1 1740.7,986.3 1747.3,986.7 1754.0,987.2 1755.3,971.6 1748.3,971.1 1741.4,970.7 1734.4,970.4" fill="#dd4400" stroke="#dd4400" stroke-width="0.4"/>
<polygon points="1734.4,970.4 1741.4,970.7 1748.3,971.1 1755.3,971.6 1756.6,956.0 1749.4,955.5 1742.1,955.1 1734.9,954.8" fill="#ea5200" stroke="#ea5200" stroke-width="0.4"/>
<polygon points="1734.9,954.8 1742.1,955.1 1749.4,955.5 1756.6,956.0 1757.9,940.4 1750.4,939.9 1742.8,939.4 1735.3,939.2" fill="#dd4400" stroke="#dd4400" stroke-width="0.4"/>
<polygon points="1735.3,939.2 1742.8,939.4 1750.4,939.9 1757.9,940.4 1759.2,924.8 1751.4,924.2 1743.6,923.8 1735.7,923.5" fill="#ea5200" stroke="#ea5200" stroke-width="0.4"/>
<polygon points="1736.2,907.9 1744.3,908.2 1752.4,908.6 1760.5,909.2 1761.8,893.6 1753.4,893.0 1745.0,892.5 1736.6,892.2" fill="#ff6600" stroke="#ff6600" stroke-width="0.4"/>
<polygon points="1736.6,892.2 1745.0,892.5 1753.4,893.0 1761.8,893.6 1763.1,878.0 1754.4,877.4 1745.8,876.9 1737.1,876.6" fill="#dd4400" stroke="#dd4400" stroke-width="0.4"/>
<polygon points="1737.1,876.6 1745.8,876.9 1754.4,877.4 1763.1,878.0 1764.4,862.4 1755.5,861.8 1746.5,861.3 1737.5,860.9" fill="#ea5200" stroke="#ea5200" stroke-width="0.4"/>
<polygon points="1737.5,860.9 1746.5,861.3 1755.5,861.8 1764.4,862.4 1765.7,846.8 1756.5,846.2 1747.2,845.6 1737.9,845.3" fill="#ea5200" stroke="#ea5200" stroke-width="0.4"/>
<polygon points="1737.9,845.3 1747.2,845.6 1756.5,846.2 1765.7,846.8 1767.1,831.3 1757.5,830.5 1747.9,830.0 1738.4,829.7" fill="#ff6600" stroke="#ff6600" stroke-width="0.4"/>
<polygon points="1747.4,1065.2 1752.6,1065.7 1757.8,1066.2 1762.9,1066.9 1765.1,1051.4 1759.7,1050.7 1754.2,1050.1 1748.7,1049.6" fill="#990000" stroke="#990000" stroke-width="0.4"/>
<polygon points="1748.7,1049.6 1754.2,1050.1 1759.7,1050.7 1765.1,1051.4 1767.3,1035.9 1761.6,1035.2 1755.8,1034.5 1750.0,1034.0" fill="#cccccc" stroke="#cccccc" stroke-width="0.4"/>
<polygon points="1750.0,1034.0 1755.8,1034.5 1761.6,1035.2 1767.3,1035.9 1769.5,1020.4 1763.4,1019.6 1757.4,1019.0 1751.3,1018.4" fill="#cccccc" stroke="#cccccc" stroke-width="0.4"/>
<polygon points="1751.3,1018.4 1757.4,1019.0 1763.4,1019.6 1769.5,1020.4 1771.7,1004.9 1765.3,1004.1 1759.0,1003.4 1752.7,1002.8" fill="#cccccc" stroke="#cccccc" stroke-width="0.4"/>
<polygon points="1754.0,987.2 1760.6,987.8 1767.2,988.6 1773.8,989.4 1776.0,973.9 1769.1,973.0 1762.2,972.3 1755.3,971.6" fill="#990000" stroke="#990000" stroke-width="0.4"/>
<polygon points="1755.3,971.6 1762.2,972.3 1769.1,973.0 1776.0,973.9 1778.2,958.4 1771.0,957.5 1763.8,956.7 1756.6,956.0" fill="#990000" stroke="#990000" stroke-width="0.4"/>
<polygon points="1761.8,893.6 1770.2,894.4 1778.6,895.4 1786.9,896.4 1789.1,881.0 1780.4,879.8 1771.8,878.8 1763.1,878.0" fill="#cccccc" stroke="#cccccc" stroke-width="0.4"/>
<polygon points="1763.1,878.0 1771.8,878.8 1780.4,879.8 1789.1,881.0 1791.3,865.5 1782.3,864.3 1773.4,863.3 1764.4,862.4" fill="#cccccc" stroke="#cccccc" stroke-width="0.4"/>
<polygon points="1764.4,862.4 1773.4,863.3 1782.3,864.3 1791.3,865.5 1793.4,850.0 1784.2,848.7 1775.0,847.7 1765.7,846.8" fill="#990000" stroke="#990000" stroke-width="0.4"/>
<polygon points="1765.7,846.8 1775.0,847.7 1784.2,848.7 1793.4,850.0 1795.6,834.5 1786.1,833.2 1776.6,832.1 1767.1,831.3" fill="#cccccc" stroke="#cccccc" stroke-width="0.4"/>
<polygon points="1765.1,1051.4 1770.6,1052.2 1776.0,1053.2 1781.4,1054.2 1784.4,1038.8 1778.7,1037.8 1773.0,1036.8 1767.3,1035.9" fill="#cccccc" stroke="#cccccc" stroke-width="0.4"/>
<polygon points="1767.3,1035.9 1773.0,1036.8 1778.7,1037.8 1784.4,1038.8 1787.5,1023.5 1781.5,1022.3 1775.5,1021.3 1769.5,1020.4" fill="#990000" stroke="#990000" stroke-width="0.4"/>
<polygon points="1769.5,1020.4 1775.5,1021.3 1781.5,1022.3 1787.5,1023.5 1790.5,1008.1 1784.2,1006.9 1778.0,1005.9 1771.7,1004.9" fill="#cccccc" stroke="#cccccc" stroke-width="0.4"/>
<polygon points="1784.7,911.9 1792.8,913.2 1800.8,914.5 1808.7,916.0 1811.8,900.7 1803.5,899.1 1795.2,897.7 1786.9,896.4" fill="#990000" stroke="#990000" stroke-width="0.4"/>
<polygon points="1786.9,896.4 1795.2,897.7 1803.5,899.1 1811.8,900.7 1814.8,885.3 1806.3,883.7 1797.7,882.2 1789.1,881.0" fill="#cccccc" stroke="#cccccc" stroke-width="0.4"/>
<polygon points="1789.1,881.0 1797.7,882.2 1806.3,883.7 1814.8,885.3 1817.9,870.0 1809.0,868.3 1800.2,866.8 1791.3,865.5" fill="#cccccc" stroke="#cccccc" stroke-width="0.4"/>
<polygon points="1791.3,865.5 1800.2,866.8 1809.0,868.3 1817.9,870.0 1820.9,854.6 1811.8,852.9 1802.6,851.3 1793.4,850.0" fill="#cccccc" stroke="#cccccc" stroke-width="0.4"/>
<polygon points="1784.4,1038.8 1790.1,1040.0 1795.7,1041.3 1801.4,1042.7 1805.3,1027.5 1799.4,1026.1 1793.4,1024.7 1787.5,1023.5" fill="#cc3300" stroke="#cc3300" stroke-width="0.4"/>
<polygon points="1808.7,916.0 1816.7,917.7 1824.6,919.5 1832.5,921.4 1836.4,906.2 1828.2,904.2 1820.0,902.4 1811.8,900.7" fill="#aa0000" stroke="#aa0000" stroke-width="0.4"/>
<polygon points="1811.8,900.7 1820.0,902.4 1828.2,904.2 1836.4,906.2 1840.3,891.1 1831.8,889.0 1823.3,887.1 1814.8,885.3" fill="#aa0000" stroke="#aa0000" stroke-width="0.4"/>
<polygon points="1814.8,885.3 1823.3,887.1 1831.8,889.0 1840.3,891.1 1844.2,875.9 1835.4,873.8 1826.7,871.8 1817.9,870.0" fill="#aa0000" stroke="#aa0000" stroke-width="0.4"/>
<polygon points="1836.4,906.2 1844.5,908.4 1852.6,910.7 1860.7,913.2 1865.4,898.3 1857.1,895.7 1848.7,893.3 1840.3,891.1" fill="#dd4400" stroke="#dd4400" stroke-width="0.4"/>
<polygon points="1840.3,891.1 1848.7,893.3 1857.1,895.7 1865.4,898.3 1870.1,883.4 1861.5,880.7 1852.9,878.3 1844.2,875.9" fill="#ff6600" stroke="#ff6600" stroke-width="0.4"/>
<polygon points="1851.2,943.0 1858.6,945.5 1866.0,948.1 1873.4,950.8 1878.9,936.1 1871.3,933.3 1863.6,930.7 1855.9,928.1" fill="#aa0000" stroke="#aa0000" stroke-width="0.4"/>
<polygon points="1855.9,928.1 1863.6,930.7 1871.3,933.3 1878.9,936.1 1884.5,921.5 1876.6,918.6 1868.7,915.8 1860.7,913.2" fill="#aa0000" stroke="#aa0000" stroke-width="0.4"/>
<polygon points="1860.7,913.2 1868.7,915.8 1876.6,918.6 1884.5,921.5 1890.0,906.9 1881.9,903.9 1873.7,901.0 1865.4,898.3" fill="#cc3300" stroke="#cc3300" stroke-width="0.4"/>
<polygon points="1873.4,950.8 1880.7,953.6 1887.9,956.6 1895.1,959.7 1901.5,945.4 1894.0,942.2 1886.5,939.1 1878.9,936.1" fill="#0a2ab4" stroke="#0a2ab4" stroke-width="0.4"/>
<polygon points="1718.3,1315.2 1718.8,1315.1 1719.4,1315.0 1719.9,1314.9 1717.7,1299.4 1716.9,1299.5 1716.1,1299.7 1715.2,1299.8" fill="#aa0000" stroke="#aa0000" stroke-width="0.4"/>
<polygon points="1715.2,1299.8 1716.1,1299.7 1716.9,1299.5 1717.7,1299.4 1715.6,1283.9 1714.4,1284.1 1713.3,1284.2 1712.2,1284.5" fill="#ff6600" stroke="#ff6600" stroke-width="0.4"/>
<polygon points="1712.2,1284.5 1713.3,1284.2 1714.4,1284.1 1715.6,1283.9 1713.4,1268.4 1712.0,1268.6 1710.6,1268.8 1709.2,1269.1" fill="#aa0000" stroke="#aa0000" stroke-width="0.4"/>
<polygon points="1709.2,1269.1 1710.6,1268.8 1712.0,1268.6 1713.4,1268.4 1711.2,1252.9 1709.5,1253.1 1707.8,1253.4 1706.1,1253.8" fill="#cccccc" stroke="#cccccc" stroke-width="0.4"/>
<polygon points="1706.1,1253.8 1707.8,1253.4 1709.5,1253.1 1711.2,1252.9 1709.0,1237.4 1707.0,1237.7 1705.1,1238.0 1703.1,1238.4" fill="#dd4400" stroke="#dd4400" stroke-width="0.4"/>
<polygon points="1719.9,1314.9 1720.5,1314.8 1721.0,1314.8 1721.5,1314.7 1720.2,1299.1 1719.4,1299.2 1718.6,1299.3 1717.7,1299.4" fill="#cccccc" stroke="#cccccc" stroke-width="0.4"/>
<polygon points="1717.7,1299.4 1718.6,1299.3 1719.4,1299.2 1720.2,1299.1 1718.9,1283.5 1717.8,1283.6 1716.7,1283.7 1715.6,1283.9" fill="#aa0000" stroke="#aa0000" stroke-width="0.4"/>
<polygon points="1715.6,1283.9 1716.7,1283.7 1717.8,1283.6 1718.9,1283.5 1717.6,1267.9 1716.2,1268.0 1714.8,1268.2 1713.4,1268.4" fill="#aa0000" stroke="#aa0000" stroke-width="0.4"/>
<polygon points="1713.4,1268.4 1714.8,1268.2 1716.2,1268.0 1717.6,1267.9 1716.3,1252.3 1714.6,1252.5 1712.9,1252.7 1711.2,1252.9" fill="#aa0000" stroke="#aa0000" stroke-width="0.4"/>
<polygon points="1711.2,1252.9 1712.9,1252.7 1714.6,1252.5 1716.3,1252.3 1715.0,1236.7 1713.0,1236.9 1711.0,1237.1 1709.0,1237.4" fill="#cccccc" stroke="#cccccc" stroke-width="0.4"/>
<polygon points="1721.5,1314.7 1722.1,1314.7 1722.6,1314.6 1723.2,1314.6 1722.7,1299.0 1721.9,1299.0 1721.1,1299.0 1720.2,1299.1" fill="#aa0000" stroke="#aa0000" stroke-width="0.4"/>
<polygon points="1720.2,1299.1 1721.1,1299.0 1721.9,1299.0 1722.7,1299.0 1722.3,1283.3 1721.2,1283.4 1720.0,1283.4 1718.9,1283.5" fill="#cccccc" stroke="#cccccc" stroke-width="0.4"/>
<polygon points="1718.9,1283.5 1720.0,1283.4 1721.2,1283.4 1722.3,1283.3 1721.9,1267.7 1720.4,1267.7 1719.0,1267.8 1717.6,1267.9" fill="#cccccc" stroke="#cccccc" stroke-width="0.4"/>
<polygon points="1717.6,1267.9 1719.0,1267.8 1720.4,1267.7 1721.9,1267.7 1721.4,1252.0 1719.7,1252.1 1718.0,1252.2 1716.3,1252.3" fill="#cccccc" stroke="#cccccc" stroke-width="0.4"/>
<polygon points="1716.3,1252.3 1718.0,1252.2 1719.7,1252.1 1721.4,1252.0 1721.0,1236.4 1719.0,1236.5 1717.0,1236.6 1715.0,1236.7" fill="#aa0000" stroke="#aa0000" stroke-width="0.4"/>
<polygon points="1723.2,1314.6 1723.7,1314.6 1724.3,1314.6 1724.8,1314.6 1725.3,1299.0 1724.4,1299.0 1723.6,1299.0 1722.7,1299.0" fill="#cccccc" stroke="#cccccc" stroke-width="0.4"/>
<polygon points="1722.7,1299.0 1723.6,1299.0 1724.4,1299.0 1725.3,1299.0 1725.7,1283.3 1724.6,1283.3 1723.4,1283.3 1722.3,1283.3" fill="#cccccc" stroke="#cccccc" stroke-width="0.4"/>
<polygon points="1722.3,1283.3 1723.4,1283.3 1724.6,1283.3 1725.7,1283.3 1726.1,1267.7 1724.7,1267.7 1723.3,1267.7 1721.9,1267.7" fill="#cccccc" stroke="#cccccc" stroke-width="0.4"/>
<polygon points="1721.9,1267.7 1723.3,1267.7 1724.7,1267.7 1726.1,1267.7 1726.6,1252.0 1724.9,1252.0 1723.1,1252.0 1721.4,1252.0" fill="#cccccc" stroke="#cccccc" stroke-width="0.4"/>
<polygon points="1721.4,1252.0 1723.1,1252.0 1724.9,1252.0 1726.6,1252.0 1727.0,1236.4 1725.0,1236.4 1723.0,1236.4 1721.0,1236.4" fill="#cccccc" stroke="#cccccc" stroke-width="0.4"/>
<polygon points="1721.0,1236.4 1723.0,1236.4 1725.0,1236.4 1727.0,1236.4 1727.4,1220.7 1725.1,1220.7 1722.9,1220.7 1720.6,1220.7" fill="#aa0000" stroke="#aa0000" stroke-width="0.4"/>
<polygon points="1724.8,1314.6 1725.4,1314.6 1725.9,1314.7 1726.5,1314.7 1727.8,1299.1 1726.9,1299.0 1726.1,1299.0 1725.3,1299.0" fill="#cccccc" stroke="#cccccc" stroke-width="0.4"/>
<polygon points="1725.3,1299.0 1726.1,1299.0 1726.9,1299.0 1727.8,1299.1 1729.1,1283.5 1728.0,1283.4 1726.8,1283.4 1725.7,1283.3" fill="#cccccc" stroke="#cccccc" stroke-width="0.4"/>
<polygon points="1725.7,1283.3 1726.8,1283.4 1728.0,1283.4 1729.1,1283.5 1730.4,1267.9 1729.0,1267.8 1727.6,1267.7 1726.1,1267.7" fill="#cccccc" stroke="#cccccc" stroke-width="0.4"/>
<polygon points="1726.1,1267.7 1727.6,1267.7 1729.0,1267.8 1730.4,1267.9 1731.7,1252.3 1730.0,1252.2 1728.3,1252.1 1726.6,1252.0" fill="#cccccc" stroke="#cccccc" stroke-width="0.4"/>
<polygon points="1726.6,1252.0 1728.3,1252.1 1730.0,1252.2 1731.7,1252.3 1733.0,1236.7 1731.0,1236.6 1729.0,1236.5 1727.0,1236.4" fill="#cccccc" stroke="#cccccc" stroke-width="0.4"/>
<polygon points="1727.0,1236.4 1729.0,1236.5 1731.0,1236.6 1733.0,1236.7 1734.3,1221.1 1732.0,1221.0 1729.7,1220.8 1727.4,1220.7" fill="#aa0000" stroke="#aa0000" stroke-width="0.4"/>
<polygon points="1726.5,1314.7 1727.0,1314.8 1727.5,1314.8 1728.1,1314.9 1730.3,1299.4 1729.4,1299.3 1728.6,1299.2 1727.8,1299.1" fill="#aa0000" stroke="#aa0000" stroke-width="0.4"/>
<polygon points="1727.8,1299.1 1728.6,1299.2 1729.4,1299.3 1730.3,1299.4 1732.4,1283.9 1731.3,1283.7 1730.2,1283.6 1729.1,1283.5" fill="#cccccc" stroke="#cccccc" stroke-width="0.4"/>
<polygon points="1729.1,1283.5 1730.2,1283.6 1731.3,1283.7 1732.4,1283.9 1734.6,1268.4 1733.2,1268.2 1731.8,1268.0 1730.4,1267.9" fill="#aa0000" stroke="#aa0000" stroke-width="0.4"/>
<polygon points="1730.4,1267.9 1731.8,1268.0 1733.2,1268.2 1734.6,1268.4 1736.8,1252.9 1735.1,1252.7 1733.4,1252.5 1731.7,1252.3" fill="#cccccc" stroke="#cccccc" stroke-width="0.4"/>
<polygon points="1731.7,1252.3 1733.4,1252.5 1735.1,1252.7 1736.8,1252.9 1739.0,1237.4 1737.0,1237.1 1735.0,1236.9 1733.0,1236.7" fill="#cc3300" stroke="#cc3300" stroke-width="0.4"/>
<polygon points="1733.0,1236.7 1735.0,1236.9 1737.0,1237.1 1739.0,1237.4 1741.2,1221.9 1738.9,1221.6 1736.6,1221.3 1734.3,1221.1" fill="#990000" stroke="#990000" stroke-width="0.4"/>
<polygon points="1734.3,1221.1 1736.6,1221.3 1738.9,1221.6 1741.2,1221.9 1743.3,1206.4 1740.8,1206.1 1738.2,1205.8 1735.6,1205.5" fill="#aa0000" stroke="#aa0000" stroke-width="0.4"/>
<polygon points="1728.1,1314.9 1728.6,1315.0 1729.2,1315.1 1729.7,1315.2 1732.8,1299.8 1731.9,1299.7 1731.1,1299.5 1730.3,1299.4" fill="#aa0000" stroke="#aa0000" stroke-width="0.4"/>
<polygon points="1730.3,1299.4 1731.1,1299.5 1731.9,1299.7 1732.8,1299.8 1735.8,1284.5 1734.7,1284.2 1733.6,1284.1 1732.4,1283.9" fill="#cc3300" stroke="#cc3300" stroke-width="0.4"/>
<polygon points="1732.4,1283.9 1733.6,1284.1 1734.7,1284.2 1735.8,1284.5 1738.8,1269.1 1737.4,1268.8 1736.0,1268.6 1734.6,1268.4" fill="#cc3300" stroke="#cc3300" stroke-width="0.4"/>
<polygon points="1734.6,1268.4 1736.0,1268.6 1737.4,1268.8 1738.8,1269.1 1741.9,1253.8 1740.2,1253.4 1738.5,1253.1 1736.8,1252.9" fill="#aa0000" stroke="#aa0000" stroke-width="0.4"/>
<polygon points="1736.8,1252.9 1738.5,1253.1 1740.2,1253.4 1741.9,1253.8 1744.9,1238.4 1742.9,1238.0 1741.0,1237.7 1739.0,1237.4" fill="#aa0000" stroke="#aa0000" stroke-width="0.4"/>
<polygon points="1739.0,1237.4 1741.0,1237.7 1742.9,1238.0 1744.9,1238.4 1747.9,1223.0 1745.7,1222.6 1743.4,1222.2 1741.2,1221.9" fill="#aa0000" stroke="#aa0000" stroke-width="0.4"/>
<polygon points="1741.2,1221.9 1743.4,1222.2 1745.7,1222.6 1747.9,1223.0 1751.0,1207.7 1748.4,1207.2 1745.9,1206.8 1743.3,1206.4" fill="#bb1800" stroke="#bb1800" stroke-width="0.4"/>
<polygon points="1743.3,1206.4 1745.9,1206.8 1748.4,1207.2 1751.0,1207.7 1754.0,1192.3 1751.2,1191.8 1748.4,1191.3 1745.5,1190.9" fill="#cc3300" stroke="#cc3300" stroke-width="0.4"/>
<polygon points="1729.7,1315.2 1730.2,1315.3 1730.8,1315.4 1731.3,1315.5 1735.2,1300.4 1734.4,1300.2 1733.6,1300.0 1732.8,1299.8" fill="#cccccc" stroke="#cccccc" stroke-width="0.4"/>
<polygon points="1732.8,1299.8 1733.6,1300.0 1734.4,1300.2 1735.2,1300.4 1739.1,1285.2 1738.0,1284.9 1736.9,1284.7 1735.8,1284.5" fill="#cccccc" stroke="#cccccc" stroke-width="0.4"/>
<polygon points="1735.8,1284.5 1736.9,1284.7 1738.0,1284.9 1739.1,1285.2 1743.0,1270.0 1741.6,1269.7 1740.2,1269.4 1738.8,1269.1" fill="#aa0000" stroke="#aa0000" stroke-width="0.4"/>
<polygon points="1738.8,1269.1 1740.2,1269.4 1741.6,1269.7 1743.0,1270.0 1746.9,1254.9 1745.2,1254.5 1743.5,1254.1 1741.9,1253.8" fill="#aa0000" stroke="#aa0000" stroke-width="0.4"/>
<polygon points="1741.9,1253.8 1743.5,1254.1 1745.2,1254.5 1746.9,1254.9 1750.8,1239.7 1748.8,1239.3 1746.9,1238.8 1744.9,1238.4" fill="#aa0000" stroke="#aa0000" stroke-width="0.4"/>
<polygon points="1744.9,1238.4 1746.9,1238.8 1748.8,1239.3 1750.8,1239.7 1754.7,1224.6 1752.4,1224.0 1750.2,1223.5 1747.9,1223.0" fill="#cccccc" stroke="#cccccc" stroke-width="0.4"/>
<polygon points="1747.9,1223.0 1750.2,1223.5 1752.4,1224.0 1754.7,1224.6 1758.6,1209.4 1756.0,1208.8 1753.5,1208.2 1751.0,1207.7" fill="#cc3300" stroke="#cc3300" stroke-width="0.4"/>
<polygon points="1731.3,1315.5 1731.8,1315.7 1732.4,1315.8 1732.9,1316.0 1737.6,1301.1 1736.8,1300.8 1736.0,1300.6 1735.2,1300.4" fill="#aa0000" stroke="#aa0000" stroke-width="0.4"/>
<polygon points="1735.2,1300.4 1736.0,1300.6 1736.8,1300.8 1737.6,1301.1 1742.4,1286.1 1741.3,1285.8 1740.2,1285.5 1739.1,1285.2" fill="#aa0000" stroke="#aa0000" stroke-width="0.4"/>
<polygon points="1739.1,1285.2 1740.2,1285.5 1741.3,1285.8 1742.4,1286.1 1747.1,1271.2 1745.7,1270.8 1744.4,1270.4 1743.0,1270.0" fill="#990000" stroke="#990000" stroke-width="0.4"/>
<polygon points="1743.0,1270.0 1744.4,1270.4 1745.7,1270.8 1747.1,1271.2 1751.8,1256.3 1750.2,1255.8 1748.5,1255.3 1746.9,1254.9" fill="#cccccc" stroke="#cccccc" stroke-width="0.4"/>
<polygon points="1746.9,1254.9 1748.5,1255.3 1750.2,1255.8 1751.8,1256.3 1756.6,1241.4 1754.6,1240.8 1752.7,1240.2 1750.8,1239.7" fill="#cccccc" stroke="#cccccc" stroke-width="0.4"/>
<polygon points="1750.8,1239.7 1752.7,1240.2 1754.6,1240.8 1756.6,1241.4 1761.3,1226.5 1759.1,1225.8 1756.9,1225.2 1754.7,1224.6" fill="#cccccc" stroke="#cccccc" stroke-width="0.4"/>
<polygon points="1732.9,1316.0 1733.4,1316.1 1733.9,1316.3 1734.4,1316.5 1740.0,1301.9 1739.2,1301.6 1738.4,1301.3 1737.6,1301.1" fill="#cccccc" stroke="#cccccc" stroke-width="0.4"/>
<polygon points="1737.6,1301.1 1738.4,1301.3 1739.2,1301.6 1740.0,1301.9 1745.6,1287.3 1744.5,1286.9 1743.4,1286.5 1742.4,1286.1" fill="#aa0000" stroke="#aa0000" stroke-width="0.4"/>
<polygon points="1742.4,1286.1 1743.4,1286.5 1744.5,1286.9 1745.6,1287.3 1751.1,1272.6 1749.8,1272.1 1748.4,1271.7 1747.1,1271.2" fill="#aa0000" stroke="#aa0000" stroke-width="0.4"/>
<polygon points="1747.1,1271.2 1748.4,1271.7 1749.8,1272.1 1751.1,1272.6 1756.7,1258.0 1755.1,1257.4 1753.4,1256.8 1751.8,1256.3" fill="#cccccc" stroke="#cccccc" stroke-width="0.4"/>
<polygon points="1751.8,1256.3 1753.4,1256.8 1755.1,1257.4 1756.7,1258.0 1762.2,1243.4 1760.3,1242.7 1758.5,1242.0 1756.6,1241.4" fill="#cccccc" stroke="#cccccc" stroke-width="0.4"/>
<polygon points="1756.6,1241.4 1758.5,1242.0 1760.3,1242.7 1762.2,1243.4 1767.8,1228.7 1765.6,1227.9 1763.5,1227.2 1761.3,1226.5" fill="#cccccc" stroke="#cccccc" stroke-width="0.4"/>
<polygon points="1761.3,1226.5 1763.5,1227.2 1765.6,1227.9 1767.8,1228.7 1773.3,1214.1 1770.9,1213.2 1768.5,1212.4 1766.0,1211.6" fill="#aa0000" stroke="#aa0000" stroke-width="0.4"/>
<polygon points="1734.4,1316.5 1734.9,1316.7 1735.5,1316.9 1736.0,1317.1 1742.3,1302.8 1741.6,1302.5 1740.8,1302.2 1740.0,1301.9" fill="#aa0000" stroke="#aa0000" stroke-width="0.4"/>
<polygon points="1740.0,1301.9 1740.8,1302.2 1741.6,1302.5 1742.3,1302.8 1748.7,1288.5 1747.7,1288.1 1746.6,1287.7 1745.6,1287.3" fill="#cccccc" stroke="#cccccc" stroke-width="0.4"/>
<polygon points="1745.6,1287.3 1746.6,1287.7 1747.7,1288.1 1748.7,1288.5 1755.1,1274.3 1753.8,1273.7 1752.4,1273.1 1751.1,1272.6" fill="#aa0000" stroke="#aa0000" stroke-width="0.4"/>
<polygon points="1751.1,1272.6 1752.4,1273.1 1753.8,1273.7 1755.1,1274.3 1761.4,1260.0 1759.8,1259.3 1758.3,1258.6 1756.7,1258.0" fill="#cccccc" stroke="#cccccc" stroke-width="0.4"/>
<polygon points="1756.7,1258.0 1758.3,1258.6 1759.8,1259.3 1761.4,1260.0 1767.8,1245.7 1765.9,1244.9 1764.1,1244.1 1762.2,1243.4" fill="#cccccc" stroke="#cccccc" stroke-width="0.4"/>
<polygon points="1762.2,1243.4 1764.1,1244.1 1765.9,1244.9 1767.8,1245.7 1774.2,1231.4 1772.0,1230.4 1769.9,1229.6 1767.8,1228.7" fill="#cccccc" stroke="#cccccc" stroke-width="0.4"/>
<polygon points="1767.8,1228.7 1769.9,1229.6 1772.0,1230.4 1774.2,1231.4 1780.5,1217.1 1778.1,1216.0 1775.8,1215.0 1773.3,1214.1" fill="#aa0000" stroke="#aa0000" stroke-width="0.4"/>
<polygon points="1773.3,1214.1 1775.8,1215.0 1778.1,1216.0 1780.5,1217.1 1786.9,1202.8 1784.2,1201.6 1781.6,1200.5 1778.9,1199.5" fill="#cccccc" stroke="#cccccc" stroke-width="0.4"/>
<polygon points="1778.9,1199.5 1781.6,1200.5 1784.2,1201.6 1786.9,1202.8 1793.2,1188.5 1790.3,1187.2 1787.4,1186.0 1784.5,1184.8" fill="#cccccc" stroke="#cccccc" stroke-width="0.4"/>
<polygon points="1736.0,1317.1 1736.5,1317.4 1736.9,1317.6 1737.4,1317.9 1744.6,1303.9 1743.8,1303.6 1743.1,1303.2 1742.3,1302.8" fill="#00148c" stroke="#00148c" stroke-width="0.4"/>
<polygon points="1742.3,1302.8 1743.1,1303.2 1743.8,1303.6 1744.6,1303.9 1751.7,1290.0 1750.7,1289.5 1749.7,1289.0 1748.7,1288.5" fill="#00148c" stroke="#00148c" stroke-width="0.4"/>
<polygon points="1748.7,1288.5 1749.7,1289.0 1750.7,1289.5 1751.7,1290.0 1758.9,1276.1 1757.6,1275.5 1756.3,1274.8 1755.1,1274.3" fill="#00148c" stroke="#00148c" stroke-width="0.4"/>
<polygon points="1755.1,1274.3 1756.3,1274.8 1757.6,1275.5 1758.9,1276.1 1766.1,1262.2 1764.5,1261.4 1763.0,1260.7 1761.4,1260.0" fill="#00148c" stroke="#00148c" stroke-width="0.4"/>
<polygon points="1761.4,1260.0 1763.0,1260.7 1764.5,1261.4 1766.1,1262.2 1773.2,1248.3 1771.4,1247.4 1769.6,1246.5 1767.8,1245.7" fill="#cc3300" stroke="#cc3300" stroke-width="0.4"/>
<polygon points="1767.8,1245.7 1769.6,1246.5 1771.4,1247.4 1773.2,1248.3 1780.4,1234.3 1778.3,1233.3 1776.2,1232.3 1774.2,1231.4" fill="#aa0000" stroke="#aa0000" stroke-width="0.4"/>
<polygon points="1774.2,1231.4 1776.2,1232.3 1778.3,1233.3 1780.4,1234.3 1787.5,1220.4 1785.2,1219.3 1782.9,1218.1 1780.5,1217.1" fill="#cccccc" stroke="#cccccc" stroke-width="0.4"/>
<polygon points="1737.4,1317.9 1737.9,1318.1 1738.4,1318.4 1738.9,1318.6 1746.8,1305.1 1746.1,1304.7 1745.3,1304.3 1744.6,1303.9" fill="#cccccc" stroke="#cccccc" stroke-width="0.4"/>
<polygon points="1744.6,1303.9 1745.3,1304.3 1746.1,1304.7 1746.8,1305.1 1754.7,1291.6 1753.7,1291.1 1752.7,1290.5 1751.7,1290.0" fill="#cccccc" stroke="#cccccc" stroke-width="0.4"/>
<polygon points="1751.7,1290.0 1752.7,1290.5 1753.7,1291.1 1754.7,1291.6 1762.6,1278.1 1761.4,1277.4 1760.2,1276.8 1758.9,1276.1" fill="#cccccc" stroke="#cccccc" stroke-width="0.4"/>
<polygon points="1758.9,1276.1 1760.2,1276.8 1761.4,1277.4 1762.6,1278.1 1770.6,1264.6 1769.1,1263.8 1767.6,1263.0 1766.1,1262.2" fill="#aa0000" stroke="#aa0000" stroke-width="0.4"/>
<polygon points="1766.1,1262.2 1767.6,1263.0 1769.1,1263.8 1770.6,1264.6 1778.5,1251.2 1776.7,1250.2 1775.0,1249.2 1773.2,1248.3" fill="#aa0000" stroke="#aa0000" stroke-width="0.4"/>
<polygon points="1773.2,1248.3 1775.0,1249.2 1776.7,1250.2 1778.5,1251.2 1786.4,1237.7 1784.4,1236.5 1782.4,1235.4 1780.4,1234.3" fill="#ff6600" stroke="#ff6600" stroke-width="0.4"/>
<polygon points="1738.9,1318.6 1739.3,1318.9 1739.8,1319.2 1740.3,1319.5 1748.9,1306.5 1748.2,1306.0 1747.5,1305.6 1746.8,1305.1" fill="#aa0000" stroke="#aa0000" stroke-width="0.4"/>
<polygon points="1746.8,1305.1 1747.5,1305.6 1748.2,1306.0 1748.9,1306.5 1757.6,1293.4 1756.6,1292.8 1755.7,1292.2 1754.7,1291.6" fill="#cccccc" stroke="#cccccc" stroke-width="0.4"/>
<polygon points="1754.7,1291.6 1755.7,1292.2 1756.6,1292.8 1757.6,1293.4 1766.3,1280.4 1765.1,1279.6 1763.9,1278.9 1762.6,1278.1" fill="#cccccc" stroke="#cccccc" stroke-width="0.4"/>
<polygon points="1762.6,1278.1 1763.9,1278.9 1765.1,1279.6 1766.3,1280.4 1774.9,1267.4 1773.5,1266.4 1772.0,1265.5 1770.6,1264.6" fill="#aa0000" stroke="#aa0000" stroke-width="0.4"/>
<polygon points="1770.6,1264.6 1772.0,1265.5 1773.5,1266.4 1774.9,1267.4 1783.6,1254.3 1781.9,1253.2 1780.2,1252.2 1778.5,1251.2" fill="#aa0000" stroke="#aa0000" stroke-width="0.4"/>
<polygon points="1740.3,1319.5 1740.7,1319.8 1741.2,1320.1 1741.6,1320.5 1751.0,1307.9 1750.3,1307.4 1749.6,1306.9 1748.9,1306.5" fill="#aa0000" stroke="#aa0000" stroke-width="0.4"/>
<polygon points="1748.9,1306.5 1749.6,1306.9 1750.3,1307.4 1751.0,1307.9 1760.4,1295.4 1759.4,1294.7 1758.5,1294.1 1757.6,1293.4" fill="#aa0000" stroke="#aa0000" stroke-width="0.4"/>
<polygon points="1757.6,1293.4 1758.5,1294.1 1759.4,1294.7 1760.4,1295.4 1769.7,1282.9 1768.6,1282.0 1767.4,1281.2 1766.3,1280.4" fill="#cccccc" stroke="#cccccc" stroke-width="0.4"/>
<polygon points="1766.3,1280.4 1767.4,1281.2 1768.6,1282.0 1769.7,1282.9 1779.1,1270.3 1777.7,1269.3 1776.3,1268.3 1774.9,1267.4" fill="#cc3300" stroke="#cc3300" stroke-width="0.4"/>
<polygon points="1751.0,1307.9 1751.7,1308.4 1752.3,1309.0 1753.0,1309.5 1763.0,1297.5 1762.1,1296.8 1761.3,1296.1 1760.4,1295.4" fill="#cccccc" stroke="#cccccc" stroke-width="0.4"/>
<polygon points="1760.4,1295.4 1761.3,1296.1 1762.1,1296.8 1763.0,1297.5 1773.1,1285.5 1772.0,1284.6 1770.9,1283.7 1769.7,1282.9" fill="#0a2ab4" stroke="#0a2ab4" stroke-width="0.4"/>
<polygon points="1742.9,1321.5 1743.3,1321.8 1743.7,1322.2 1744.1,1322.6 1754.8,1311.2 1754.2,1310.6 1753.6,1310.0 1753.0,1309.5" fill="#aa0000" stroke="#aa0000" stroke-width="0.4"/>
<polygon points="1753.0,1309.5 1753.6,1310.0 1754.2,1310.6 1754.8,1311.2 1765.6,1299.8 1764.7,1299.0 1763.9,1298.2 1763.0,1297.5" fill="#0a2ab4" stroke="#0a2ab4" stroke-width="0.4"/>
<polygon points="1763.0,1297.5 1763.9,1298.2 1764.7,1299.0 1765.6,1299.8 1776.3,1288.3 1775.2,1287.4 1774.2,1286.4 1773.1,1285.5" fill="#0a2ab4" stroke="#0a2ab4" stroke-width="0.4"/>
<polygon points="1783.1,1273.5 1784.4,1274.6 1785.7,1275.8 1787.0,1276.9 1797.7,1265.5 1796.2,1264.2 1794.7,1262.8 1793.2,1261.5" fill="#aa0000" stroke="#aa0000" stroke-width="0.4"/>
<polygon points="1793.2,1261.5 1794.7,1262.8 1796.2,1264.2 1797.7,1265.5 1808.4,1254.1 1806.7,1252.6 1805.0,1251.0 1803.3,1249.5" fill="#990000" stroke="#990000" stroke-width="0.4"/>
<polygon points="1744.1,1322.6 1744.5,1322.9 1744.9,1323.3 1745.3,1323.7 1756.6,1312.9 1756.0,1312.3 1755.4,1311.7 1754.8,1311.2" fill="#cccccc" stroke="#cccccc" stroke-width="0.4"/>
<polygon points="1754.8,1311.2 1755.4,1311.7 1756.0,1312.3 1756.6,1312.9 1768.0,1302.1 1767.2,1301.3 1766.4,1300.5 1765.6,1299.8" fill="#cccccc" stroke="#cccccc" stroke-width="0.4"/>
<polygon points="1765.6,1299.8 1766.4,1300.5 1767.2,1301.3 1768.0,1302.1 1779.3,1291.3 1778.3,1290.3 1777.3,1289.3 1776.3,1288.3" fill="#cccccc" stroke="#cccccc" stroke-width="0.4"/>
<polygon points="1776.3,1288.3 1777.3,1289.3 1778.3,1290.3 1779.3,1291.3 1790.6,1280.6 1789.4,1279.3 1788.2,1278.1 1787.0,1276.9" fill="#cccccc" stroke="#cccccc" stroke-width="0.4"/>
<polygon points="1787.0,1276.9 1788.2,1278.1 1789.4,1279.3 1790.6,1280.6 1802.0,1269.8 1800.6,1268.3 1799.1,1266.9 1797.7,1265.5" fill="#aa0000" stroke="#aa0000" stroke-width="0.4"/>
<polygon points="1797.7,1265.5 1799.1,1266.9 1800.6,1268.3 1802.0,1269.8 1813.3,1259.0 1811.7,1257.3 1810.1,1255.7 1808.4,1254.1" fill="#cc3300" stroke="#cc3300" stroke-width="0.4"/>
<polygon points="1808.4,1254.1 1810.1,1255.7 1811.7,1257.3 1813.3,1259.0 1824.6,1248.2 1822.8,1246.3 1821.0,1244.5 1819.1,1242.7" fill="#aa0000" stroke="#aa0000" stroke-width="0.4"/>
<polygon points="1745.3,1323.7 1745.7,1324.1 1746.0,1324.5 1746.4,1324.9 1758.3,1314.8 1757.8,1314.2 1757.2,1313.5 1756.6,1312.9" fill="#aa0000" stroke="#aa0000" stroke-width="0.4"/>
<polygon points="1756.6,1312.9 1757.2,1313.5 1757.8,1314.2 1758.3,1314.8 1770.2,1304.7 1769.5,1303.8 1768.7,1303.0 1768.0,1302.1" fill="#aa0000" stroke="#aa0000" stroke-width="0.4"/>
<polygon points="1768.0,1302.1 1768.7,1303.0 1769.5,1303.8 1770.2,1304.7 1782.1,1294.5 1781.2,1293.4 1780.3,1292.4 1779.3,1291.3" fill="#cccccc" stroke="#cccccc" stroke-width="0.4"/>
<polygon points="1790.6,1280.6 1791.8,1281.8 1792.9,1283.1 1794.1,1284.4 1806.0,1274.2 1804.7,1272.7 1803.3,1271.2 1802.0,1269.8" fill="#aa0000" stroke="#aa0000" stroke-width="0.4"/>
<polygon points="1802.0,1269.8 1803.3,1271.2 1804.7,1272.7 1806.0,1274.2 1817.9,1264.1 1816.4,1262.4 1814.9,1260.6 1813.3,1259.0" fill="#dd4400" stroke="#dd4400" stroke-width="0.4"/>
<polygon points="1813.3,1259.0 1814.9,1260.6 1816.4,1262.4 1817.9,1264.1 1829.8,1253.9 1828.1,1252.0 1826.4,1250.1 1824.6,1248.2" fill="#aa0000" stroke="#aa0000" stroke-width="0.4"/>
<polygon points="1746.4,1324.9 1746.7,1325.4 1747.1,1325.8 1747.4,1326.2 1759.9,1316.8 1759.4,1316.1 1758.8,1315.4 1758.3,1314.8" fill="#cccccc" stroke="#cccccc" stroke-width="0.4"/>
<polygon points="1758.3,1314.8 1758.8,1315.4 1759.4,1316.1 1759.9,1316.8 1772.3,1307.3 1771.7,1306.4 1770.9,1305.5 1770.2,1304.7" fill="#aa0000" stroke="#aa0000" stroke-width="0.4"/>
<polygon points="1794.1,1284.4 1795.2,1285.7 1796.2,1287.0 1797.3,1288.4 1809.7,1278.9 1808.5,1277.3 1807.3,1275.8 1806.0,1274.2" fill="#aa0000" stroke="#aa0000" stroke-width="0.4"/>
<polygon points="1747.4,1326.2 1747.7,1326.7 1748.1,1327.1 1748.4,1327.6 1761.3,1318.8 1760.9,1318.1 1760.4,1317.4 1759.9,1316.8" fill="#aa0000" stroke="#aa0000" stroke-width="0.4"/>
<polygon points="1759.9,1316.8 1760.4,1317.4 1760.9,1318.1 1761.3,1318.8 1774.3,1310.1 1773.7,1309.1 1773.0,1308.2 1772.3,1307.3" fill="#aa0000" stroke="#aa0000" stroke-width="0.4"/>
<polygon points="1709.8,1174.3 1712.9,1174.1 1716.1,1173.9 1719.2,1173.8 1718.8,1158.2 1715.4,1158.3 1711.9,1158.5 1708.4,1158.8" fill="#990000" stroke="#990000" stroke-width="0.4"/>
<polygon points="1760.1,1161.6 1763.5,1162.3 1766.9,1163.1 1770.2,1163.9 1774.1,1148.8 1770.5,1147.9 1766.8,1147.1 1763.1,1146.3" fill="#990000" stroke="#990000" stroke-width="0.4"/>
<polygon points="1037.8,1332.8 1038.1,1332.2 1038.5,1331.6 1038.8,1331.0 1023.8,1321.8 1023.3,1322.7 1022.8,1323.6 1022.3,1324.6" fill="#cccccc" stroke="#cccccc" stroke-width="0.4"/>
<polygon points="1022.3,1324.6 1022.8,1323.6 1023.3,1322.7 1023.8,1321.8 1008.8,1312.7 1008.1,1313.9 1007.4,1315.1 1006.7,1316.3" fill="#0a50d0" stroke="#0a50d0" stroke-width="0.4"/>
<polygon points="1038.8,1331.0 1039.2,1330.4 1039.6,1329.8 1040.0,1329.3 1025.5,1319.2 1024.9,1320.1 1024.4,1321.0 1023.8,1321.8" fill="#cccccc" stroke="#cccccc" stroke-width="0.4"/>
<polygon points="1023.8,1321.8 1024.4,1321.0 1024.9,1320.1 1025.5,1319.2 1011.1,1309.2 1010.3,1310.3 1009.5,1311.5 1008.8,1312.7" fill="#0a50d0" stroke="#0a50d0" stroke-width="0.4"/>
<polygon points="1040.0,1329.3 1040.4,1328.7 1040.8,1328.1 1041.2,1327.6 1027.4,1316.7 1026.7,1317.5 1026.1,1318.4 1025.5,1319.2" fill="#00148c" stroke="#00148c" stroke-width="0.4"/>
<polygon points="1025.5,1319.2 1026.1,1318.4 1026.7,1317.5 1027.4,1316.7 1013.6,1305.8 1012.7,1306.9 1011.9,1308.0 1011.1,1309.2" fill="#0a50d0" stroke="#0a50d0" stroke-width="0.4"/>
<polygon points="1041.2,1327.6 1041.7,1327.1 1042.1,1326.5 1042.6,1326.0 1029.4,1314.3 1028.7,1315.1 1028.0,1315.9 1027.4,1316.7" fill="#00148c" stroke="#00148c" stroke-width="0.4"/>
<polygon points="1027.4,1316.7 1028.0,1315.9 1028.7,1315.1 1029.4,1314.3 1016.2,1302.6 1015.3,1303.7 1014.4,1304.7 1013.6,1305.8" fill="#0a50d0" stroke="#0a50d0" stroke-width="0.4"/>
<polygon points="1013.6,1305.8 1014.4,1304.7 1015.3,1303.7 1016.2,1302.6 1003.1,1290.9 1001.9,1292.3 1000.8,1293.6 999.7,1294.9" fill="#0a50d0" stroke="#0a50d0" stroke-width="0.4"/>
<polygon points="999.7,1294.9 1000.8,1293.6 1001.9,1292.3 1003.1,1290.9 989.9,1279.3 988.5,1280.8 987.2,1282.4 985.9,1284.1" fill="#66c0fc" stroke="#66c0fc" stroke-width="0.4"/>
<polygon points="1042.6,1326.0 1043.0,1325.5 1043.5,1325.0 1044.0,1324.5 1031.5,1312.0 1030.8,1312.8 1030.1,1313.5 1029.4,1314.3" fill="#00148c" stroke="#00148c" stroke-width="0.4"/>
<polygon points="1029.4,1314.3 1030.1,1313.5 1030.8,1312.8 1031.5,1312.0 1019.1,1299.6 1018.1,1300.6 1017.2,1301.6 1016.2,1302.6" fill="#00148c" stroke="#00148c" stroke-width="0.4"/>
<polygon points="1016.2,1302.6 1017.2,1301.6 1018.1,1300.6 1019.1,1299.6 1006.6,1287.1 1005.4,1288.4 1004.2,1289.7 1003.1,1290.9" fill="#0a50d0" stroke="#0a50d0" stroke-width="0.4"/>
<polygon points="1003.1,1290.9 1004.2,1289.7 1005.4,1288.4 1006.6,1287.1 994.2,1274.7 992.7,1276.2 991.3,1277.7 989.9,1279.3" fill="#66c0fc" stroke="#66c0fc" stroke-width="0.4"/>
<polygon points="989.9,1279.3 991.3,1277.7 992.7,1276.2 994.2,1274.7 981.8,1262.3 980.1,1264.0 978.4,1265.8 976.7,1267.6" fill="#0a8af0" stroke="#0a8af0" stroke-width="0.4"/>
<polygon points="1044.0,1324.5 1044.5,1324.0 1045.0,1323.5 1045.5,1323.1 1033.8,1309.9 1033.0,1310.6 1032.3,1311.3 1031.5,1312.0" fill="#00148c" stroke="#00148c" stroke-width="0.4"/>
<polygon points="1031.5,1312.0 1032.3,1311.3 1033.0,1310.6 1033.8,1309.9 1022.1,1296.7 1021.1,1297.7 1020.1,1298.6 1019.1,1299.6" fill="#00148c" stroke="#00148c" stroke-width="0.4"/>
<polygon points="1019.1,1299.6 1020.1,1298.6 1021.1,1297.7 1022.1,1296.7 1010.4,1283.6 1009.2,1284.7 1007.9,1285.9 1006.6,1287.1" fill="#0a50d0" stroke="#0a50d0" stroke-width="0.4"/>
<polygon points="1006.6,1287.1 1007.9,1285.9 1009.2,1284.7 1010.4,1283.6 998.8,1270.4 997.2,1271.8 995.7,1273.2 994.2,1274.7" fill="#66c0fc" stroke="#66c0fc" stroke-width="0.4"/>
<polygon points="994.2,1274.7 995.7,1273.2 997.2,1271.8 998.8,1270.4 987.1,1257.2 985.3,1258.9 983.5,1260.6 981.8,1262.3" fill="#0a8af0" stroke="#0a8af0" stroke-width="0.4"/>
<polygon points="1045.5,1323.1 1046.0,1322.6 1046.6,1322.2 1047.1,1321.7 1036.2,1307.9 1035.4,1308.5 1034.6,1309.2 1033.8,1309.9" fill="#cccccc" stroke="#cccccc" stroke-width="0.4"/>
<polygon points="1033.8,1309.9 1034.6,1309.2 1035.4,1308.5 1036.2,1307.9 1025.3,1294.1 1024.2,1294.9 1023.2,1295.8 1022.1,1296.7" fill="#00148c" stroke="#00148c" stroke-width="0.4"/>
<polygon points="1022.1,1296.7 1023.2,1295.8 1024.2,1294.9 1025.3,1294.1 1014.4,1280.2 1013.1,1281.3 1011.8,1282.4 1010.4,1283.6" fill="#0a8af0" stroke="#0a8af0" stroke-width="0.4"/>
<polygon points="1010.4,1283.6 1011.8,1282.4 1013.1,1281.3 1014.4,1280.2 1003.6,1266.4 1001.9,1267.7 1000.3,1269.0 998.8,1270.4" fill="#0a50d0" stroke="#0a50d0" stroke-width="0.4"/>
<polygon points="998.8,1270.4 1000.3,1269.0 1001.9,1267.7 1003.6,1266.4 992.7,1252.6 990.8,1254.1 988.9,1255.6 987.1,1257.2" fill="#0a8af0" stroke="#0a8af0" stroke-width="0.4"/>
<polygon points="1047.1,1321.7 1047.6,1321.3 1048.2,1320.9 1048.8,1320.5 1038.7,1306.0 1037.9,1306.6 1037.0,1307.2 1036.2,1307.9" fill="#aa0000" stroke="#aa0000" stroke-width="0.4"/>
<polygon points="1036.2,1307.9 1037.0,1307.2 1037.9,1306.6 1038.7,1306.0 1028.7,1291.6 1027.5,1292.4 1026.4,1293.2 1025.3,1294.1" fill="#cccccc" stroke="#cccccc" stroke-width="0.4"/>
<polygon points="1025.3,1294.1 1026.4,1293.2 1027.5,1292.4 1028.7,1291.6 1018.6,1277.1 1017.2,1278.1 1015.8,1279.2 1014.4,1280.2" fill="#0a50d0" stroke="#0a50d0" stroke-width="0.4"/>
<polygon points="1014.4,1280.2 1015.8,1279.2 1017.2,1278.1 1018.6,1277.1 1008.6,1262.7 1006.9,1263.9 1005.2,1265.1 1003.6,1266.4" fill="#66c0fc" stroke="#66c0fc" stroke-width="0.4"/>
<polygon points="1003.6,1266.4 1005.2,1265.1 1006.9,1263.9 1008.6,1262.7 998.5,1248.2 996.6,1249.6 994.6,1251.1 992.7,1252.6" fill="#66c0fc" stroke="#66c0fc" stroke-width="0.4"/>
<polygon points="992.7,1252.6 994.6,1251.1 996.6,1249.6 998.5,1248.2 988.5,1233.8 986.2,1235.4 984.0,1237.0 981.8,1238.7" fill="#66c0fc" stroke="#66c0fc" stroke-width="0.4"/>
<polygon points="1048.8,1320.5 1049.3,1320.1 1049.9,1319.7 1050.5,1319.3 1041.3,1304.3 1040.5,1304.9 1039.6,1305.4 1038.7,1306.0" fill="#cccccc" stroke="#cccccc" stroke-width="0.4"/>
<polygon points="1038.7,1306.0 1039.6,1305.4 1040.5,1304.9 1041.3,1304.3 1032.2,1289.3 1031.0,1290.0 1029.8,1290.8 1028.7,1291.6" fill="#cccccc" stroke="#cccccc" stroke-width="0.4"/>
<polygon points="1028.7,1291.6 1029.8,1290.8 1031.0,1290.0 1032.2,1289.3 1023.0,1274.3 1021.5,1275.2 1020.1,1276.1 1018.6,1277.1" fill="#cccccc" stroke="#cccccc" stroke-width="0.4"/>
<polygon points="1018.6,1277.1 1020.1,1276.1 1021.5,1275.2 1023.0,1274.3 1013.8,1259.3 1012.1,1260.4 1010.3,1261.5 1008.6,1262.7" fill="#66c0fc" stroke="#66c0fc" stroke-width="0.4"/>
<polygon points="1008.6,1262.7 1010.3,1261.5 1012.1,1260.4 1013.8,1259.3 1004.7,1244.2 1002.6,1245.5 1000.6,1246.8 998.5,1248.2" fill="#66c0fc" stroke="#66c0fc" stroke-width="0.4"/>
<polygon points="998.5,1248.2 1000.6,1246.8 1002.6,1245.5 1004.7,1244.2 995.5,1229.2 993.1,1230.7 990.8,1232.2 988.5,1233.8" fill="#66c0fc" stroke="#66c0fc" stroke-width="0.4"/>
<polygon points="1050.5,1319.3 1051.1,1319.0 1051.7,1318.6 1052.3,1318.3 1044.1,1302.8 1043.1,1303.3 1042.2,1303.8 1041.3,1304.3" fill="#cccccc" stroke="#cccccc" stroke-width="0.4"/>
<polygon points="1041.3,1304.3 1042.2,1303.8 1043.1,1303.3 1044.1,1302.8 1035.8,1287.2 1034.6,1287.9 1033.4,1288.6 1032.2,1289.3" fill="#cccccc" stroke="#cccccc" stroke-width="0.4"/>
<polygon points="1032.2,1289.3 1033.4,1288.6 1034.6,1287.9 1035.8,1287.2 1027.5,1271.7 1026.0,1272.5 1024.5,1273.4 1023.0,1274.3" fill="#0a50d0" stroke="#0a50d0" stroke-width="0.4"/>
<polygon points="1023.0,1274.3 1024.5,1273.4 1026.0,1272.5 1027.5,1271.7 1019.3,1256.1 1017.4,1257.1 1015.6,1258.2 1013.8,1259.3" fill="#cccccc" stroke="#cccccc" stroke-width="0.4"/>
<polygon points="1013.8,1259.3 1015.6,1258.2 1017.4,1257.1 1019.3,1256.1 1011.0,1240.6 1008.9,1241.8 1006.8,1243.0 1004.7,1244.2" fill="#0a2ab4" stroke="#0a2ab4" stroke-width="0.4"/>
<polygon points="995.5,1229.2 997.9,1227.8 1000.3,1226.4 1002.7,1225.1 994.5,1209.5 991.7,1211.0 989.0,1212.6 986.3,1214.2" fill="#0a2ab4" stroke="#0a2ab4" stroke-width="0.4"/>
<polygon points="1052.3,1318.3 1052.9,1318.0 1053.6,1317.7 1054.2,1317.4 1046.9,1301.4 1045.9,1301.8 1045.0,1302.3 1044.1,1302.8" fill="#cccccc" stroke="#cccccc" stroke-width="0.4"/>
<polygon points="1044.1,1302.8 1045.0,1302.3 1045.9,1301.8 1046.9,1301.4 1039.5,1285.4 1038.3,1286.0 1037.0,1286.6 1035.8,1287.2" fill="#cccccc" stroke="#cccccc" stroke-width="0.4"/>
<polygon points="1035.8,1287.2 1037.0,1286.6 1038.3,1286.0 1039.5,1285.4 1032.2,1269.4 1030.6,1270.1 1029.1,1270.9 1027.5,1271.7" fill="#cccccc" stroke="#cccccc" stroke-width="0.4"/>
<polygon points="1027.5,1271.7 1029.1,1270.9 1030.6,1270.1 1032.2,1269.4 1024.9,1253.4 1023.0,1254.3 1021.1,1255.2 1019.3,1256.1" fill="#cccccc" stroke="#cccccc" stroke-width="0.4"/>
<polygon points="1019.3,1256.1 1021.1,1255.2 1023.0,1254.3 1024.9,1253.4 1017.6,1237.4 1015.4,1238.4 1013.2,1239.5 1011.0,1240.6" fill="#00148c" stroke="#00148c" stroke-width="0.4"/>
<polygon points="1054.2,1317.4 1054.8,1317.1 1055.5,1316.8 1056.1,1316.6 1049.7,1300.2 1048.8,1300.6 1047.8,1301.0 1046.9,1301.4" fill="#cccccc" stroke="#cccccc" stroke-width="0.4"/>
<polygon points="1046.9,1301.4 1047.8,1301.0 1048.8,1300.6 1049.7,1300.2 1043.4,1283.8 1042.1,1284.3 1040.8,1284.8 1039.5,1285.4" fill="#cccccc" stroke="#cccccc" stroke-width="0.4"/>
<polygon points="1039.5,1285.4 1040.8,1284.8 1042.1,1284.3 1043.4,1283.8 1037.0,1267.3 1035.4,1268.0 1033.8,1268.7 1032.2,1269.4" fill="#0a50d0" stroke="#0a50d0" stroke-width="0.4"/>
<polygon points="1032.2,1269.4 1033.8,1268.7 1035.4,1268.0 1037.0,1267.3 1030.6,1250.9 1028.7,1251.7 1026.8,1252.5 1024.9,1253.4" fill="#00148c" stroke="#00148c" stroke-width="0.4"/>
<polygon points="1024.9,1253.4 1026.8,1252.5 1028.7,1251.7 1030.6,1250.9 1024.3,1234.5 1022.0,1235.4 1019.8,1236.4 1017.6,1237.4" fill="#00148c" stroke="#00148c" stroke-width="0.4"/>
<polygon points="1017.6,1237.4 1019.8,1236.4 1022.0,1235.4 1024.3,1234.5 1017.9,1218.1 1015.3,1219.2 1012.8,1220.2 1010.2,1221.4" fill="#cccccc" stroke="#cccccc" stroke-width="0.4"/>
<polygon points="1056.1,1316.6 1056.8,1316.3 1057.4,1316.1 1058.1,1315.9 1052.7,1299.1 1051.7,1299.5 1050.7,1299.8 1049.7,1300.2" fill="#cccccc" stroke="#cccccc" stroke-width="0.4"/>
<polygon points="1049.7,1300.2 1050.7,1299.8 1051.7,1299.5 1052.7,1299.1 1047.3,1282.4 1046.0,1282.8 1044.7,1283.3 1043.4,1283.8" fill="#0a50d0" stroke="#0a50d0" stroke-width="0.4"/>
<polygon points="1043.4,1283.8 1044.7,1283.3 1046.0,1282.8 1047.3,1282.4 1041.9,1265.6 1040.3,1266.2 1038.6,1266.7 1037.0,1267.3" fill="#0a50d0" stroke="#0a50d0" stroke-width="0.4"/>
<polygon points="1037.0,1267.3 1038.6,1266.7 1040.3,1266.2 1041.9,1265.6 1036.5,1248.9 1034.6,1249.5 1032.6,1250.2 1030.6,1250.9" fill="#0a8af0" stroke="#0a8af0" stroke-width="0.4"/>
<polygon points="1030.6,1250.9 1032.6,1250.2 1034.6,1249.5 1036.5,1248.9 1031.2,1232.1 1028.9,1232.9 1026.6,1233.7 1024.3,1234.5" fill="#0a50d0" stroke="#0a50d0" stroke-width="0.4"/>
<polygon points="1024.3,1234.5 1026.6,1233.7 1028.9,1232.9 1031.2,1232.1 1025.8,1215.3 1023.1,1216.2 1020.5,1217.1 1017.9,1218.1" fill="#cccccc" stroke="#cccccc" stroke-width="0.4"/>
<polygon points="1017.9,1218.1 1020.5,1217.1 1023.1,1216.2 1025.8,1215.3 1020.4,1198.6 1017.4,1199.6 1014.5,1200.6 1011.6,1201.7" fill="#cccccc" stroke="#cccccc" stroke-width="0.4"/>
<polygon points="1058.1,1315.9 1058.7,1315.7 1059.4,1315.5 1060.1,1315.3 1055.7,1298.3 1054.7,1298.5 1053.7,1298.8 1052.7,1299.1" fill="#cccccc" stroke="#cccccc" stroke-width="0.4"/>
<polygon points="1052.7,1299.1 1053.7,1298.8 1054.7,1298.5 1055.7,1298.3 1051.3,1281.2 1050.0,1281.6 1048.6,1282.0 1047.3,1282.4" fill="#00148c" stroke="#00148c" stroke-width="0.4"/>
<polygon points="1047.3,1282.4 1048.6,1282.0 1050.0,1281.6 1051.3,1281.2 1046.9,1264.2 1045.3,1264.6 1043.6,1265.1 1041.9,1265.6" fill="#0a8af0" stroke="#0a8af0" stroke-width="0.4"/>
<polygon points="1041.9,1265.6 1043.6,1265.1 1045.3,1264.6 1046.9,1264.2 1042.6,1247.1 1040.5,1247.7 1038.5,1248.2 1036.5,1248.9" fill="#0a8af0" stroke="#0a8af0" stroke-width="0.4"/>
<polygon points="1036.5,1248.9 1038.5,1248.2 1040.5,1247.7 1042.6,1247.1 1038.2,1230.1 1035.8,1230.7 1033.5,1231.4 1031.2,1232.1" fill="#0a50d0" stroke="#0a50d0" stroke-width="0.4"/>
<polygon points="1031.2,1232.1 1033.5,1231.4 1035.8,1230.7 1038.2,1230.1 1033.8,1213.0 1031.1,1213.7 1028.4,1214.5 1025.8,1215.3" fill="#00148c" stroke="#00148c" stroke-width="0.4"/>
<polygon points="1025.8,1215.3 1028.4,1214.5 1031.1,1213.7 1033.8,1213.0 1029.4,1196.0 1026.4,1196.8 1023.4,1197.7 1020.4,1198.6" fill="#cccccc" stroke="#cccccc" stroke-width="0.4"/>
<polygon points="1020.4,1198.6 1023.4,1197.7 1026.4,1196.8 1029.4,1196.0 1025.1,1178.9 1021.7,1179.8 1018.4,1180.8 1015.0,1181.8" fill="#cccccc" stroke="#cccccc" stroke-width="0.4"/>
<polygon points="1060.1,1315.3 1060.7,1315.1 1061.4,1315.0 1062.1,1314.8 1058.7,1297.6 1057.7,1297.8 1056.7,1298.0 1055.7,1298.3" fill="#cccccc" stroke="#cccccc" stroke-width="0.4"/>
<polygon points="1055.7,1298.3 1056.7,1298.0 1057.7,1297.8 1058.7,1297.6 1055.4,1280.3 1054.0,1280.6 1052.7,1280.9 1051.3,1281.2" fill="#0a50d0" stroke="#0a50d0" stroke-width="0.4"/>
<polygon points="1051.3,1281.2 1052.7,1280.9 1054.0,1280.6 1055.4,1280.3 1052.0,1263.0 1050.3,1263.4 1048.6,1263.7 1046.9,1264.2" fill="#00148c" stroke="#00148c" stroke-width="0.4"/>
<polygon points="1046.9,1264.2 1048.6,1263.7 1050.3,1263.4 1052.0,1263.0 1048.7,1245.7 1046.6,1246.2 1044.6,1246.6 1042.6,1247.1" fill="#0a8af0" stroke="#0a8af0" stroke-width="0.4"/>
<polygon points="1042.6,1247.1 1044.6,1246.6 1046.6,1246.2 1048.7,1245.7 1045.3,1228.5 1042.9,1228.9 1040.6,1229.5 1038.2,1230.1" fill="#0a8af0" stroke="#0a8af0" stroke-width="0.4"/>
<polygon points="1038.2,1230.1 1040.6,1229.5 1042.9,1228.9 1045.3,1228.5 1042.0,1211.2 1039.2,1211.7 1036.5,1212.4 1033.8,1213.0" fill="#0a8af0" stroke="#0a8af0" stroke-width="0.4"/>
<polygon points="1062.1,1314.8 1062.8,1314.7 1063.5,1314.6 1064.2,1314.5 1061.8,1297.1 1060.8,1297.2 1059.8,1297.4 1058.7,1297.6" fill="#cccccc" stroke="#cccccc" stroke-width="0.4"/>
<polygon points="1058.7,1297.6 1059.8,1297.4 1060.8,1297.2 1061.8,1297.1 1059.5,1279.6 1058.1,1279.8 1056.8,1280.0 1055.4,1280.3" fill="#00148c" stroke="#00148c" stroke-width="0.4"/>
<polygon points="1055.4,1280.3 1056.8,1280.0 1058.1,1279.8 1059.5,1279.6 1057.2,1262.2 1055.5,1262.4 1053.7,1262.7 1052.0,1263.0" fill="#00148c" stroke="#00148c" stroke-width="0.4"/>
<polygon points="1052.0,1263.0 1053.7,1262.7 1055.5,1262.4 1057.2,1262.2 1054.8,1244.7 1052.8,1245.0 1050.7,1245.4 1048.7,1245.7" fill="#0a8af0" stroke="#0a8af0" stroke-width="0.4"/>
<polygon points="1048.7,1245.7 1050.7,1245.4 1052.8,1245.0 1054.8,1244.7 1052.5,1227.3 1050.1,1227.6 1047.7,1228.0 1045.3,1228.5" fill="#0a8af0" stroke="#0a8af0" stroke-width="0.4"/>
<polygon points="1045.3,1228.5 1047.7,1228.0 1050.1,1227.6 1052.5,1227.3 1050.2,1209.8 1047.4,1210.2 1044.7,1210.7 1042.0,1211.2" fill="#0a8af0" stroke="#0a8af0" stroke-width="0.4"/>
<polygon points="1064.2,1314.5 1064.8,1314.4 1065.5,1314.4 1066.2,1314.3 1064.9,1296.7 1063.9,1296.8 1062.9,1296.9 1061.8,1297.1" fill="#cccccc" stroke="#cccccc" stroke-width="0.4"/>
<polygon points="1061.8,1297.1 1062.9,1296.9 1063.9,1296.8 1064.9,1296.7 1063.7,1279.2 1062.3,1279.3 1060.9,1279.4 1059.5,1279.6" fill="#cccccc" stroke="#cccccc" stroke-width="0.4"/>
<polygon points="1059.5,1279.6 1060.9,1279.4 1062.3,1279.3 1063.7,1279.2 1062.4,1261.6 1060.6,1261.8 1058.9,1262.0 1057.2,1262.2" fill="#00148c" stroke="#00148c" stroke-width="0.4"/>
<polygon points="1057.2,1262.2 1058.9,1262.0 1060.6,1261.8 1062.4,1261.6 1061.1,1244.1 1059.0,1244.3 1056.9,1244.5 1054.8,1244.7" fill="#0a50d0" stroke="#0a50d0" stroke-width="0.4"/>
<polygon points="1054.8,1244.7 1056.9,1244.5 1059.0,1244.3 1061.1,1244.1 1059.8,1226.5 1057.4,1226.7 1054.9,1227.0 1052.5,1227.3" fill="#0a8af0" stroke="#0a8af0" stroke-width="0.4"/>
<polygon points="1052.5,1227.3 1054.9,1227.0 1057.4,1226.7 1059.8,1226.5 1058.5,1209.0 1055.7,1209.2 1053.0,1209.5 1050.2,1209.8" fill="#0a8af0" stroke="#0a8af0" stroke-width="0.4"/>
<polygon points="1066.2,1314.3 1066.9,1314.3 1067.6,1314.2 1068.3,1314.2 1068.1,1296.6 1067.0,1296.6 1066.0,1296.7 1064.9,1296.7" fill="#cccccc" stroke="#cccccc" stroke-width="0.4"/>
<polygon points="1064.9,1296.7 1066.0,1296.7 1067.0,1296.6 1068.1,1296.6 1067.8,1279.0 1066.4,1279.0 1065.0,1279.1 1063.7,1279.2" fill="#cccccc" stroke="#cccccc" stroke-width="0.4"/>
<polygon points="1063.7,1279.2 1065.0,1279.1 1066.4,1279.0 1067.8,1279.0 1067.6,1261.4 1065.8,1261.5 1064.1,1261.5 1062.4,1261.6" fill="#cccccc" stroke="#cccccc" stroke-width="0.4"/>
<polygon points="1062.4,1261.6 1064.1,1261.5 1065.8,1261.5 1067.6,1261.4 1067.3,1243.8 1065.2,1243.9 1063.2,1244.0 1061.1,1244.1" fill="#cccccc" stroke="#cccccc" stroke-width="0.4"/>
<polygon points="1061.1,1244.1 1063.2,1244.0 1065.2,1243.9 1067.3,1243.8 1067.1,1226.2 1064.6,1226.3 1062.2,1226.4 1059.8,1226.5" fill="#00148c" stroke="#00148c" stroke-width="0.4"/>
<polygon points="1068.3,1314.2 1069.0,1314.2 1069.7,1314.2 1070.4,1314.2 1071.2,1296.7 1070.1,1296.6 1069.1,1296.6 1068.1,1296.6" fill="#aa0000" stroke="#aa0000" stroke-width="0.4"/>
<polygon points="1068.1,1296.6 1069.1,1296.6 1070.1,1296.6 1071.2,1296.7 1072.0,1279.1 1070.6,1279.0 1069.2,1279.0 1067.8,1279.0" fill="#cccccc" stroke="#cccccc" stroke-width="0.4"/>
<polygon points="1067.8,1279.0 1069.2,1279.0 1070.6,1279.0 1072.0,1279.1 1072.8,1261.5 1071.0,1261.4 1069.3,1261.4 1067.6,1261.4" fill="#00148c" stroke="#00148c" stroke-width="0.4"/>
<polygon points="1067.6,1261.4 1069.3,1261.4 1071.0,1261.4 1072.8,1261.5 1073.6,1243.9 1071.5,1243.8 1069.4,1243.8 1067.3,1243.8" fill="#0a50d0" stroke="#0a50d0" stroke-width="0.4"/>
<polygon points="1067.3,1243.8 1069.4,1243.8 1071.5,1243.8 1073.6,1243.9 1074.4,1226.3 1072.0,1226.2 1069.5,1226.2 1067.1,1226.2" fill="#0a50d0" stroke="#0a50d0" stroke-width="0.4"/>
<polygon points="1067.1,1226.2 1069.5,1226.2 1072.0,1226.2 1074.4,1226.3 1075.2,1208.7 1072.4,1208.6 1069.6,1208.6 1066.8,1208.6" fill="#0a50d0" stroke="#0a50d0" stroke-width="0.4"/>
<polygon points="1070.4,1314.2 1071.1,1314.3 1071.8,1314.3 1072.5,1314.4 1074.3,1296.9 1073.3,1296.8 1072.2,1296.7 1071.2,1296.7" fill="#cccccc" stroke="#cccccc" stroke-width="0.4"/>
<polygon points="1071.2,1296.7 1072.2,1296.7 1073.3,1296.8 1074.3,1296.9 1076.1,1279.4 1074.8,1279.3 1073.4,1279.1 1072.0,1279.1" fill="#cccccc" stroke="#cccccc" stroke-width="0.4"/>
<polygon points="1072.0,1279.1 1073.4,1279.1 1074.8,1279.3 1076.1,1279.4 1078.0,1261.9 1076.3,1261.7 1074.5,1261.6 1072.8,1261.5" fill="#00148c" stroke="#00148c" stroke-width="0.4"/>
<polygon points="1072.8,1261.5 1074.5,1261.6 1076.3,1261.7 1078.0,1261.9 1079.8,1244.4 1077.8,1244.2 1075.7,1244.0 1073.6,1243.9" fill="#0a50d0" stroke="#0a50d0" stroke-width="0.4"/>
<polygon points="1072.5,1314.4 1073.2,1314.5 1073.8,1314.6 1074.5,1314.7 1077.4,1297.3 1076.4,1297.1 1075.3,1297.0 1074.3,1296.9" fill="#cccccc" stroke="#cccccc" stroke-width="0.4"/>
<polygon points="1074.3,1296.9 1075.3,1297.0 1076.4,1297.1 1077.4,1297.3 1080.3,1279.9 1078.9,1279.7 1077.5,1279.5 1076.1,1279.4" fill="#aa0000" stroke="#aa0000" stroke-width="0.4"/>
<polygon points="1076.1,1279.4 1077.5,1279.5 1078.9,1279.7 1080.3,1279.9 1083.2,1262.6 1081.4,1262.3 1079.7,1262.1 1078.0,1261.9" fill="#cccccc" stroke="#cccccc" stroke-width="0.4"/>
<polygon points="1078.0,1261.9 1079.7,1262.1 1081.4,1262.3 1083.2,1262.6 1086.0,1245.2 1084.0,1244.9 1081.9,1244.6 1079.8,1244.4" fill="#cccccc" stroke="#cccccc" stroke-width="0.4"/>
<polygon points="1074.5,1314.7 1075.2,1314.8 1075.9,1314.9 1076.6,1315.1 1080.5,1297.9 1079.5,1297.7 1078.4,1297.5 1077.4,1297.3" fill="#0a2ab4" stroke="#0a2ab4" stroke-width="0.4"/>
<polygon points="1077.4,1297.3 1078.4,1297.5 1079.5,1297.7 1080.5,1297.9 1084.4,1280.7 1083.0,1280.5 1081.7,1280.2 1080.3,1279.9" fill="#0a50d0" stroke="#0a50d0" stroke-width="0.4"/>
<polygon points="1080.3,1279.9 1081.7,1280.2 1083.0,1280.5 1084.4,1280.7 1088.3,1263.6 1086.6,1263.2 1084.9,1262.9 1083.2,1262.6" fill="#cccccc" stroke="#cccccc" stroke-width="0.4"/>
<polygon points="1083.2,1262.6 1084.9,1262.9 1086.6,1263.2 1088.3,1263.6 1092.2,1246.4 1090.1,1246.0 1088.1,1245.6 1086.0,1245.2" fill="#cccccc" stroke="#cccccc" stroke-width="0.4"/>
<polygon points="1076.6,1315.1 1077.3,1315.2 1077.9,1315.4 1078.6,1315.6 1083.5,1298.7 1082.5,1298.4 1081.5,1298.2 1080.5,1297.9" fill="#0a2ab4" stroke="#0a2ab4" stroke-width="0.4"/>
<polygon points="1080.5,1297.9 1081.5,1298.2 1082.5,1298.4 1083.5,1298.7 1088.4,1281.8 1087.1,1281.4 1085.7,1281.1 1084.4,1280.7" fill="#0a8af0" stroke="#0a8af0" stroke-width="0.4"/>
<polygon points="1084.4,1280.7 1085.7,1281.1 1087.1,1281.4 1088.4,1281.8 1093.3,1264.9 1091.6,1264.4 1090.0,1264.0 1088.3,1263.6" fill="#cccccc" stroke="#cccccc" stroke-width="0.4"/>
<polygon points="1078.6,1315.6 1079.3,1315.8 1079.9,1316.0 1080.6,1316.2 1086.5,1299.7 1085.5,1299.3 1084.5,1299.0 1083.5,1298.7" fill="#00148c" stroke="#00148c" stroke-width="0.4"/>
<polygon points="1083.5,1298.7 1084.5,1299.0 1085.5,1299.3 1086.5,1299.7 1092.4,1283.1 1091.1,1282.6 1089.7,1282.2 1088.4,1281.8" fill="#0a8af0" stroke="#0a8af0" stroke-width="0.4"/>
<polygon points="1088.4,1281.8 1089.7,1282.2 1091.1,1282.6 1092.4,1283.1 1098.3,1266.5 1096.6,1265.9 1095.0,1265.4 1093.3,1264.9" fill="#cccccc" stroke="#cccccc" stroke-width="0.4"/>
<polygon points="1080.6,1316.2 1081.2,1316.5 1081.9,1316.7 1082.5,1317.0 1089.4,1300.8 1088.4,1300.4 1087.5,1300.0 1086.5,1299.7" fill="#00148c" stroke="#00148c" stroke-width="0.4"/>
<polygon points="1082.5,1317.0 1083.2,1317.3 1083.8,1317.6 1084.4,1317.9 1092.2,1302.1 1091.3,1301.6 1090.3,1301.2 1089.4,1300.8" fill="#00148c" stroke="#00148c" stroke-width="0.4"/>
<polygon points="1084.4,1317.9 1085.0,1318.2 1085.6,1318.5 1086.2,1318.8 1095.0,1303.6 1094.1,1303.1 1093.2,1302.6 1092.2,1302.1" fill="#0a2ab4" stroke="#0a2ab4" stroke-width="0.4"/>
<polygon points="1086.2,1318.8 1086.8,1319.2 1087.4,1319.6 1088.0,1319.9 1097.7,1305.2 1096.8,1304.6 1095.9,1304.1 1095.0,1303.6" fill="#0a2ab4" stroke="#0a2ab4" stroke-width="0.4"/>
<polygon points="1041.0,1147.0 1052.0,1145.0 1053.0,1161.0 1043.0,1162.0" fill="#c4e6fc" stroke="#c4e6fc" stroke-width="0.4"/>
<polygon points="986.3,1164.0 998.0,1158.4 1002.5,1172.0 992.0,1177.0" fill="#cccccc" stroke="#cccccc" stroke-width="0.4"/>
<path d="M1692.5,1337.4 C1673.8,1327.9 1615.0,1298.6 1580.3,1280.5 C1545.5,1262.4 1514.4,1245.8 1484.0,1228.8 C1453.6,1211.8 1428.8,1196.8 1398.1,1178.8 C1367.4,1160.8 1350.5,1151.0 1300.0,1121.0 C1249.5,1091.0 1132.4,1021.4 1095.0,999.0 C1057.6,976.6 1085.0,992.8 1075.8,986.9 C1066.6,981.0 1077.3,987.4 1040.0,963.8 C1002.7,940.2 907.0,880.9 852.0,845.5 C797.0,810.1 733.4,767.2 709.7,751.5 C704.0,760.1 681.1,794.5 675.4,803.1 C704.8,820.3 799.1,875.7 852.0,906.3 C904.9,936.9 966.1,971.4 992.7,986.9 C1019.4,1002.4 960.7,971.7 1011.9,999.0 C1063.1,1026.3 1236.8,1117.6 1300.0,1150.8 C1363.2,1184.0 1359.6,1182.0 1391.1,1198.1 C1422.6,1214.2 1454.7,1231.1 1489.2,1247.2 C1523.7,1263.3 1564.2,1278.9 1597.9,1294.5 C1631.6,1310.1 1676.0,1333.2 1691.6,1340.9" fill="none" stroke="#ff00ff" stroke-width="3" stroke-linejoin="miter"/>
<path d="M1099.8,1337.3 C1125.1,1324.1 1217.3,1275.2 1251.7,1258.0 C1286.1,1240.8 1280.4,1246.8 1306.0,1234.0 C1331.6,1221.2 1375.5,1197.5 1405.2,1181.3 C1434.9,1165.1 1460.1,1150.3 1484.0,1136.8 C1507.9,1123.2 1525.3,1114.1 1548.8,1100.0 C1572.3,1085.9 1587.2,1076.5 1625.0,1052.0 C1662.8,1027.5 1720.0,988.6 1775.8,952.8 C1831.6,917.0 1920.8,861.7 1960.0,837.0 C1999.2,812.3 1986.3,821.3 2010.7,804.6 C2035.1,787.9 2090.5,748.1 2106.4,736.8 C2112.9,746.0 2139.1,783.0 2145.6,792.2 C2122.5,806.1 2049.9,849.5 2007.0,875.3 C1964.0,901.1 1923.8,925.9 1887.9,946.8 C1852.0,967.7 1822.9,983.2 1791.6,1000.8 C1760.3,1018.4 1719.3,1041.3 1700.0,1052.2 C1680.7,1063.1 1700.8,1053.6 1675.9,1066.0 C1651.0,1078.4 1592.4,1105.8 1550.6,1126.7 C1508.8,1147.6 1467.1,1170.5 1425.3,1191.4 C1383.5,1212.3 1328.9,1238.8 1300.0,1252.0 C1271.1,1265.2 1285.1,1256.0 1251.7,1270.8 C1218.3,1285.5 1125.1,1328.9 1099.8,1340.5" fill="none" stroke="#ff00ff" stroke-width="3" stroke-linejoin="miter"/>
<defs>
<linearGradient id="g1" x1="0" y1="0" x2="0" y2="1"><stop offset="0" stop-color="#cfe9fb"/><stop offset="0.45" stop-color="#9ed3f8"/><stop offset="1" stop-color="#58b0f2"/></linearGradient>
<linearGradient id="g2" x1="0" y1="0" x2="0" y2="1"><stop offset="0" stop-color="#1a9cfc"/><stop offset="1" stop-color="#0a6ce0"/></linearGradient>
<linearGradient id="g3" x1="0" y1="0" x2="0" y2="1"><stop offset="0" stop-color="#0a58d4"/><stop offset="1" stop-color="#0a32b0"/></linearGradient>
<linearGradient id="g4" x1="0" y1="0" x2="0" y2="1"><stop offset="0" stop-color="#0a269c"/><stop offset="1" stop-color="#04128a"/></linearGradient>
<linearGradient id="g5" x1="0" y1="0" x2="0" y2="1"><stop offset="0" stop-color="#8e0000"/><stop offset="1" stop-color="#a00000"/></linearGradient>
<linearGradient id="g6" x1="0" y1="0" x2="0" y2="1"><stop offset="0" stop-color="#aa0400"/><stop offset="1" stop-color="#cc3800"/></linearGradient>
<linearGradient id="g7" x1="0" y1="0" x2="0" y2="1"><stop offset="0" stop-color="#e65000"/><stop offset="1" stop-color="#ff8a1a"/></linearGradient>
<linearGradient id="g8" x1="0" y1="0" x2="0" y2="1"><stop offset="0" stop-color="#fcac5c"/><stop offset="1" stop-color="#ffe6c8"/></linearGradient>
</defs>
<rect x="150.5" y="895.6" width="38.0" height="53.7" fill="url(#g1)"/>
<rect x="150.5" y="949.3" width="38.0" height="54.5" fill="url(#g2)"/>
<rect x="150.5" y="1003.8" width="38.0" height="54.3" fill="url(#g3)"/>
<rect x="150.5" y="1058.1" width="38.0" height="32.6" fill="url(#g4)"/>
<rect x="150.5" y="1090.7" width="38.0" height="43.0" fill="#cccccc"/>
<rect x="150.5" y="1133.7" width="38.0" height="32.5" fill="url(#g5)"/>
<rect x="150.5" y="1166.2" width="38.0" height="54.9" fill="url(#g6)"/>
<rect x="150.5" y="1221.1" width="38.0" height="54.1" fill="url(#g7)"/>
<rect x="150.5" y="1275.2" width="38.0" height="53.7" fill="url(#g8)"/>
<line x1="150.5" y1="949.3" x2="188.5" y2="949.3" stroke="#000" stroke-width="1"/>
<line x1="150.5" y1="1003.8" x2="188.5" y2="1003.8" stroke="#000" stroke-width="1"/>
<line x1="150.5" y1="1058.1" x2="188.5" y2="1058.1" stroke="#000" stroke-width="1"/>
<line x1="150.5" y1="1112.2" x2="188.5" y2="1112.2" stroke="#000" stroke-width="1"/>
<line x1="150.5" y1="1166.2" x2="188.5" y2="1166.2" stroke="#000" stroke-width="1"/>
<line x1="150.5" y1="1221.1" x2="188.5" y2="1221.1" stroke="#000" stroke-width="1"/>
<line x1="150.5" y1="1275.2" x2="188.5" y2="1275.2" stroke="#000" stroke-width="1"/>
<rect x="150.5" y="895.6" width="38.0" height="433.3" fill="none" stroke="#000" stroke-width="1.3"/>
<text x="136.0" y="896.0" font-family="Liberation Sans, sans-serif" font-size="25.0" text-anchor="end" fill="#000">100</text>
<text x="136.0" y="950.0" font-family="Liberation Sans, sans-serif" font-size="25.0" text-anchor="end" fill="#000">75</text>
<text x="136.0" y="1004.0" font-family="Liberation Sans, sans-serif" font-size="25.0" text-anchor="end" fill="#000">50</text>
<text x="136.0" y="1058.5" font-family="Liberation Sans, sans-serif" font-size="25.0" text-anchor="end" fill="#000">25</text>
<text x="136.0" y="1112.5" font-family="Liberation Sans, sans-serif" font-size="25.0" text-anchor="end" fill="#000">0</text>
<text x="136.0" y="1167.0" font-family="Liberation Sans, sans-serif" font-size="25.0" text-anchor="end" fill="#000">-25</text>
<text x="136.0" y="1221.0" font-family="Liberation Sans, sans-serif" font-size="25.0" text-anchor="end" fill="#000">-50</text>
<text x="136.0" y="1275.5" font-family="Liberation Sans, sans-serif" font-size="25.0" text-anchor="end" fill="#000">-75</text>
<text x="136.0" y="1329.0" font-family="Liberation Sans, sans-serif" font-size="25.0" text-anchor="end" fill="#000">-100</text>
<text x="203.0" y="916.0" font-family="Liberation Sans, sans-serif" font-size="25.0" text-anchor="start" fill="#000">toward</text>
<text x="203.0" y="1328.0" font-family="Liberation Sans, sans-serif" font-size="25.0" text-anchor="start" fill="#000">away</text>
<text x="204.0" y="1091.0" font-family="Liberation Sans, sans-serif" font-size="25.0" text-anchor="start" fill="#000">10</text>
<text x="203.0" y="1155.0" font-family="Liberation Sans, sans-serif" font-size="25.0" text-anchor="start" fill="#000">-10</text>
<text x="62.0" y="67.0" font-family="Liberation Sans, sans-serif" font-size="34.0" text-anchor="start" fill="#000">March, 9 2020</text>
<text x="62.0" y="95.0" font-family="Liberation Sans, sans-serif" font-size="34.0" text-anchor="start" fill="#000">1118:17 UT</text>
<text x="76.0" y="852.4" font-family="Liberation Sans, sans-serif" font-size="31.0" text-anchor="start" fill="#000">Velocity (m/s)</text>
<text x="301.0" y="985.5" font-family="Liberation Sans, sans-serif" font-size="33.0" text-anchor="start" fill="#000">Frequency</text>
<text x="283.2" y="1017.4" font-family="Liberation Sans, sans-serif" font-size="31.0" text-anchor="middle" fill="#000">cvw</text>
<rect x="264.2" y="1029.8" width="38.0" height="299.4" fill="none" stroke="#000" stroke-width="1.6"/>
<line x1="264.2" y1="1059.7" x2="302.2" y2="1059.7" stroke="#000" stroke-width="1.3"/>
<line x1="264.2" y1="1089.7" x2="302.2" y2="1089.7" stroke="#000" stroke-width="1.3"/>
<line x1="264.2" y1="1119.6" x2="302.2" y2="1119.6" stroke="#000" stroke-width="1.3"/>
<line x1="264.2" y1="1149.6" x2="302.2" y2="1149.6" stroke="#000" stroke-width="1.3"/>
<line x1="264.2" y1="1179.5" x2="302.2" y2="1179.5" stroke="#000" stroke-width="1.3"/>
<line x1="264.2" y1="1209.4" x2="302.2" y2="1209.4" stroke="#000" stroke-width="1.3"/>
<line x1="264.2" y1="1239.4" x2="302.2" y2="1239.4" stroke="#000" stroke-width="1.3"/>
<line x1="264.2" y1="1269.3" x2="302.2" y2="1269.3" stroke="#000" stroke-width="1.3"/>
<line x1="264.2" y1="1299.3" x2="302.2" y2="1299.3" stroke="#000" stroke-width="1.3"/>
<text x="346.0" y="1017.4" font-family="Liberation Sans, sans-serif" font-size="31.0" text-anchor="middle" fill="#000">cve</text>
<rect x="326.8" y="1029.8" width="38.4" height="299.4" fill="none" stroke="#000" stroke-width="1.6"/>
<line x1="326.8" y1="1059.7" x2="365.2" y2="1059.7" stroke="#000" stroke-width="1.3"/>
<line x1="326.8" y1="1089.7" x2="365.2" y2="1089.7" stroke="#000" stroke-width="1.3"/>
<line x1="326.8" y1="1119.6" x2="365.2" y2="1119.6" stroke="#000" stroke-width="1.3"/>
<line x1="326.8" y1="1149.6" x2="365.2" y2="1149.6" stroke="#000" stroke-width="1.3"/>
<line x1="326.8" y1="1179.5" x2="365.2" y2="1179.5" stroke="#000" stroke-width="1.3"/>
<line x1="326.8" y1="1209.4" x2="365.2" y2="1209.4" stroke="#000" stroke-width="1.3"/>
<line x1="326.8" y1="1239.4" x2="365.2" y2="1239.4" stroke="#000" stroke-width="1.3"/>
<line x1="326.8" y1="1269.3" x2="365.2" y2="1269.3" stroke="#000" stroke-width="1.3"/>
<line x1="326.8" y1="1299.3" x2="365.2" y2="1299.3" stroke="#000" stroke-width="1.3"/>
<text x="408.9" y="1017.4" font-family="Liberation Sans, sans-serif" font-size="31.0" text-anchor="middle" fill="#000">fhw</text>
<rect x="389.7" y="1029.8" width="38.4" height="299.4" fill="none" stroke="#000" stroke-width="1.6"/>
<line x1="389.7" y1="1059.7" x2="428.1" y2="1059.7" stroke="#000" stroke-width="1.3"/>
<line x1="389.7" y1="1089.7" x2="428.1" y2="1089.7" stroke="#000" stroke-width="1.3"/>
<line x1="389.7" y1="1119.6" x2="428.1" y2="1119.6" stroke="#000" stroke-width="1.3"/>
<line x1="389.7" y1="1149.6" x2="428.1" y2="1149.6" stroke="#000" stroke-width="1.3"/>
<line x1="389.7" y1="1179.5" x2="428.1" y2="1179.5" stroke="#000" stroke-width="1.3"/>
<line x1="389.7" y1="1209.4" x2="428.1" y2="1209.4" stroke="#000" stroke-width="1.3"/>
<line x1="389.7" y1="1239.4" x2="428.1" y2="1239.4" stroke="#000" stroke-width="1.3"/>
<line x1="389.7" y1="1269.3" x2="428.1" y2="1269.3" stroke="#000" stroke-width="1.3"/>
<line x1="389.7" y1="1299.3" x2="428.1" y2="1299.3" stroke="#000" stroke-width="1.3"/>
<text x="471.9" y="1017.4" font-family="Liberation Sans, sans-serif" font-size="31.0" text-anchor="middle" fill="#000">fhe</text>
<rect x="452.7" y="1029.8" width="38.3" height="299.4" fill="none" stroke="#000" stroke-width="1.6"/>
<line x1="452.7" y1="1059.7" x2="491.0" y2="1059.7" stroke="#000" stroke-width="1.3"/>
<line x1="452.7" y1="1089.7" x2="491.0" y2="1089.7" stroke="#000" stroke-width="1.3"/>
<line x1="452.7" y1="1119.6" x2="491.0" y2="1119.6" stroke="#000" stroke-width="1.3"/>
<line x1="452.7" y1="1149.6" x2="491.0" y2="1149.6" stroke="#000" stroke-width="1.3"/>
<line x1="452.7" y1="1179.5" x2="491.0" y2="1179.5" stroke="#000" stroke-width="1.3"/>
<line x1="452.7" y1="1209.4" x2="491.0" y2="1209.4" stroke="#000" stroke-width="1.3"/>
<line x1="452.7" y1="1239.4" x2="491.0" y2="1239.4" stroke="#000" stroke-width="1.3"/>
<line x1="452.7" y1="1269.3" x2="491.0" y2="1269.3" stroke="#000" stroke-width="1.3"/>
<line x1="452.7" y1="1299.3" x2="491.0" y2="1299.3" stroke="#000" stroke-width="1.3"/>
<text x="256.0" y="1041.3" font-family="Liberation Sans, sans-serif" font-size="25.0" text-anchor="end" fill="#000">18</text>
<text x="499.6" y="1041.3" font-family="Liberation Sans, sans-serif" font-size="25.0" text-anchor="start" fill="#000">18</text>
<text x="256.0" y="1071.2" font-family="Liberation Sans, sans-serif" font-size="25.0" text-anchor="end" fill="#000">17</text>
<text x="499.6" y="1071.2" font-family="Liberation Sans, sans-serif" font-size="25.0" text-anchor="start" fill="#000">17</text>
<text x="256.0" y="1101.2" font-family="Liberation Sans, sans-serif" font-size="25.0" text-anchor="end" fill="#000">16</text>
<text x="499.6" y="1101.2" font-family="Liberation Sans, sans-serif" font-size="25.0" text-anchor="start" fill="#000">16</text>
<text x="256.0" y="1131.1" font-family="Liberation Sans, sans-serif" font-size="25.0" text-anchor="end" fill="#000">15</text>
<text x="499.6" y="1131.1" font-family="Liberation Sans, sans-serif" font-size="25.0" text-anchor="start" fill="#000">15</text>
<text x="256.0" y="1161.1" font-family="Liberation Sans, sans-serif" font-size="25.0" text-anchor="end" fill="#000">14</text>
<text x="499.6" y="1161.1" font-family="Liberation Sans, sans-serif" font-size="25.0" text-anchor="start" fill="#000">14</text>
<text x="256.0" y="1191.0" font-family="Liberation Sans, sans-serif" font-size="25.0" text-anchor="end" fill="#000">13</text>
<text x="499.6" y="1191.0" font-family="Liberation Sans, sans-serif" font-size="25.0" text-anchor="start" fill="#000">13</text>
<text x="256.0" y="1220.9" font-family="Liberation Sans, sans-serif" font-size="25.0" text-anchor="end" fill="#000">12</text>
<text x="499.6" y="1220.9" font-family="Liberation Sans, sans-serif" font-size="25.0" text-anchor="start" fill="#000">12</text>
<text x="256.0" y="1250.9" font-family="Liberation Sans, sans-serif" font-size="25.0" text-anchor="end" fill="#000">11</text>
<text x="499.6" y="1250.9" font-family="Liberation Sans, sans-serif" font-size="25.0" text-anchor="start" fill="#000">11</text>
<text x="256.0" y="1280.8" font-family="Liberation Sans, sans-serif" font-size="25.0" text-anchor="end" fill="#000">10</text>
<text x="499.6" y="1280.8" font-family="Liberation Sans, sans-serif" font-size="25.0" text-anchor="start" fill="#000">10</text>
<text x="256.0" y="1310.8" font-family="Liberation Sans, sans-serif" font-size="25.0" text-anchor="end" fill="#000">9</text>
<text x="499.6" y="1310.8" font-family="Liberation Sans, sans-serif" font-size="25.0" text-anchor="start" fill="#000">9</text>
<text x="256.0" y="1340.7" font-family="Liberation Sans, sans-serif" font-size="25.0" text-anchor="end" fill="#000">8</text>
<text x="499.6" y="1340.7" font-family="Liberation Sans, sans-serif" font-size="25.0" text-anchor="start" fill="#000">8</text>
<rect x="264.2" y="1247.5" width="38.0" height="11.3" fill="#ff4400"/>
<rect x="258.2" y="1247.5" width="50.0" height="2.8" fill="#ff4400"/>
<rect x="258.2" y="1256" width="50.0" height="2.8" fill="#ff4400"/>
<rect x="452.7" y="1247.5" width="38.3" height="11.3" fill="#ff4400"/>
<rect x="446.7" y="1247.5" width="50.3" height="2.8" fill="#ff4400"/>
<rect x="446.7" y="1256" width="50.3" height="2.8" fill="#ff4400"/>
<rect x="321.2" y="1240.9" width="49.6" height="3" fill="#ff4400"/>
<rect x="384.1" y="1240.9" width="49.6" height="3" fill="#ff4400"/>
<text x="1003.0" y="1391.0" font-family="Liberation Sans, sans-serif" font-size="31.0" text-anchor="start" fill="#000">cvw</text>
<text x="1079.5" y="1391.0" font-family="Liberation Sans, sans-serif" font-size="31.0" text-anchor="start" fill="#000">cve</text>
<text x="1080.3" y="1420.0" font-family="Liberation Sans, sans-serif" font-size="31.0" text-anchor="start" fill="#ff00ff">b17</text>
<text x="1659.6" y="1396.7" font-family="Liberation Sans, sans-serif" font-size="31.0" text-anchor="start" fill="#000">fhw</text>
<text x="1731.0" y="1396.7" font-family="Liberation Sans, sans-serif" font-size="31.0" text-anchor="start" fill="#000">fhe</text>
<text x="1665.5" y="1424.0" font-family="Liberation Sans, sans-serif" font-size="31.0" text-anchor="start" fill="#ff00ff">b06</text>
</svg>

</body></html>
